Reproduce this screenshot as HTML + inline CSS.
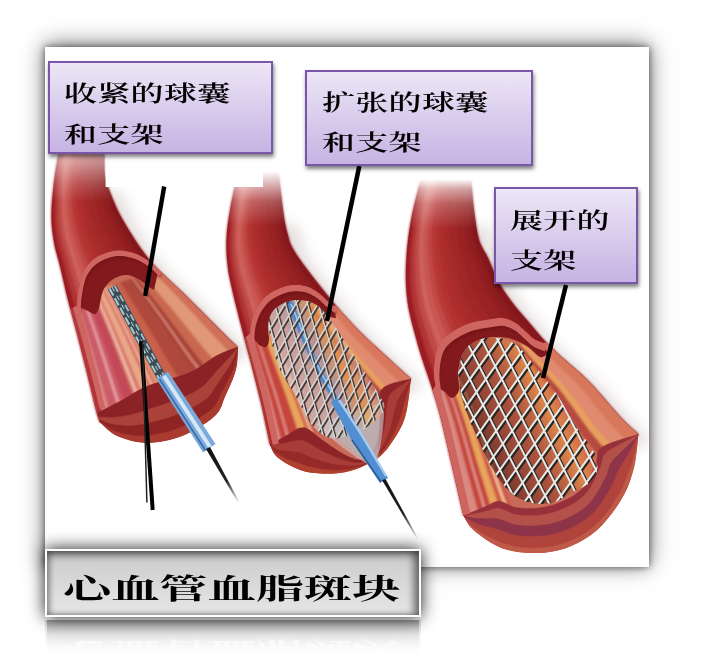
<!DOCTYPE html>
<html><head><meta charset="utf-8"><title>心血管血脂斑块</title>
<style>
html,body{margin:0;padding:0;background:#fff;}
body{width:704px;height:669px;position:relative;overflow:hidden;font-family:"Liberation Serif","Noto Serif CJK SC",serif;}
#panel{position:absolute;left:45px;top:47px;width:604px;height:520px;background:#fff;box-shadow:0 0 7px rgba(0,0,0,0.55),0 -2px 22px rgba(0,0,0,0.55);}
svg{position:absolute;left:0;top:0;}
.lab{position:absolute;box-sizing:border-box;border:2px solid #7a56a8;background:linear-gradient(#ece6f6,#c6b3e3);box-shadow:1px 3px 4px rgba(0,0,0,0.5);}
.lab span{position:absolute;white-space:nowrap;font-size:22px;line-height:22px;color:#000;transform-origin:0 0;transform:scaleX(1.5);font-weight:600;letter-spacing:0.2px}
#title{position:absolute;left:45px;top:549px;width:376px;height:68px;box-sizing:border-box;border:2px solid #fff;background:linear-gradient(#b0b0b0,#d0d0d0 20%,#dadada 55%,#e6e6e6);box-shadow:0 0 16px rgba(0,0,0,0.9), inset 0 4px 6px rgba(0,0,0,0.30), inset -6px 0 7px rgba(0,0,0,0.42), inset 4px 0 5px rgba(0,0,0,0.22);}
#title span,#refl span{position:absolute;left:16px;top:24.5px;white-space:nowrap;font-size:28px;line-height:28px;font-weight:700;color:#000;transform-origin:0 0;transform:scaleX(1.72);}
#refl{position:absolute;left:45px;top:620px;width:376px;height:40px;overflow:hidden;background:linear-gradient(rgba(90,90,90,0.6),rgba(120,120,120,0.33) 40%,rgba(160,160,160,0) 95%);border-left:2px solid rgba(255,255,255,0.6);border-right:2px solid rgba(255,255,255,0.6);box-sizing:border-box;-webkit-mask-image:linear-gradient(#000,transparent 92%);mask-image:linear-gradient(#000,transparent 92%);}
#refl span{top:17px;color:rgba(255,255,255,0.55);transform-origin:0 50%;transform:scale(1.72,-1);}
</style></head><body>
<div id="panel"></div>
<svg width="704" height="669" viewBox="0 0 704 669">
<defs>
<filter id="b8" x="-20%" y="-20%" width="140%" height="140%"><feGaussianBlur stdDeviation="7"/></filter>
<filter id="b1" x="-5%" y="-5%" width="110%" height="110%"><feGaussianBlur stdDeviation="0.9"/></filter>
<linearGradient id="fg2" x1="0" y1="179" x2="0" y2="229" gradientUnits="userSpaceOnUse"><stop offset="0" stop-color="#000"/><stop offset="0.2" stop-color="#6a6a6a"/><stop offset="0.5" stop-color="#c0c0c0"/><stop offset="1" stop-color="#fff"/></linearGradient>
<linearGradient id="fg2b" x1="0" y1="171" x2="0" y2="226" gradientUnits="userSpaceOnUse"><stop offset="0" stop-color="#000"/><stop offset="0.25" stop-color="#5a5a5a"/><stop offset="0.55" stop-color="#c0c0c0"/><stop offset="1" stop-color="#fff"/></linearGradient>
<mask id="fade2" maskUnits="userSpaceOnUse" x="0" y="0" width="704" height="669"><rect x="0" y="0" width="704" height="669" fill="url(#fg2b)"/></mask>
 <linearGradient id="fg1" x1="0" y1="148" x2="0" y2="202" gradientUnits="userSpaceOnUse"><stop offset="0" stop-color="#5c5c5c"/><stop offset="0.33" stop-color="#8c8c8c"/><stop offset="0.66" stop-color="#cecece"/><stop offset="1" stop-color="#fff"/></linearGradient>
<mask id="fade1" maskUnits="userSpaceOnUse" x="0" y="0" width="704" height="669"><rect x="0" y="0" width="704" height="669" fill="url(#fg1)"/></mask>
<mask id="fade3" maskUnits="userSpaceOnUse" x="0" y="0" width="704" height="669"><rect x="0" y="0" width="704" height="669" fill="url(#fg2)"/></mask>
<linearGradient id="wire1" x1="208" y1="448" x2="239" y2="503" gradientUnits="userSpaceOnUse"><stop offset="0" stop-color="#111"/><stop offset="0.6" stop-color="#222"/><stop offset="1" stop-color="#222" stop-opacity="0"/></linearGradient>
<linearGradient id="wire2" x1="379" y1="478" x2="417" y2="540" gradientUnits="userSpaceOnUse"><stop offset="0" stop-color="#111"/><stop offset="0.6" stop-color="#222"/><stop offset="1" stop-color="#222" stop-opacity="0"/></linearGradient>
<linearGradient id="u3" x1="470" y1="440" x2="570" y2="390" gradientUnits="userSpaceOnUse"><stop offset="0" stop-color="#2a0c08" stop-opacity="0.6"/><stop offset="0.45" stop-color="#7a2a18" stop-opacity="0.4"/><stop offset="0.75" stop-color="#f0a040" stop-opacity="0.55"/><stop offset="1" stop-color="#c8503c" stop-opacity="0.4"/></linearGradient>
<linearGradient id="u2" x1="285" y1="385" x2="362" y2="345" gradientUnits="userSpaceOnUse"><stop offset="0" stop-color="#d8d4d0" stop-opacity="0.6"/><stop offset="0.3" stop-color="#c8ccd4" stop-opacity="0.55"/><stop offset="0.5" stop-color="#9cb8d8" stop-opacity="0.55"/><stop offset="0.68" stop-color="#eeaa48" stop-opacity="0.6"/><stop offset="0.85" stop-color="#d8b8a8" stop-opacity="0.5"/><stop offset="1" stop-color="#c87860" stop-opacity="0.3"/></linearGradient>
</defs><path d="M53.1,190.3 L52.7,194.6 L52.3,198.8 L52.0,203.0 L51.7,207.1 L51.6,211.2 L51.5,215.0 L51.5,218.7 L51.7,222.2 L51.9,225.7 L52.2,229.1 L52.6,232.4 L53.0,235.6 L53.5,238.8 L54.0,242.0 L54.6,245.1 L55.2,248.0 L55.9,250.8 L56.7,253.6 L57.4,256.4 L58.3,259.4 L59.1,262.5 L60.0,266.0 L60.9,269.7 L61.8,273.7 L62.8,277.9 L63.8,282.2 L64.8,286.6 L65.8,291.0 L66.9,295.5 L68.0,300.0 L69.2,304.5 L70.4,309.1 L71.6,313.8 L72.9,318.5 L74.2,323.3 L75.5,328.0 L76.8,332.8 L78.0,337.5 L79.2,342.2 L80.4,346.9 L81.6,351.7 L82.8,356.4 L84.0,361.1 L85.2,365.8 L86.4,370.4 L87.5,375.0 L88.6,379.6 L89.8,384.5 L91.0,389.3 L92.1,394.1 L93.2,398.6 L94.2,402.9 L95.2,406.7 L96.0,410.0 L96.7,412.7 L97.4,415.0 L98.0,416.9 L98.5,418.4 L99.0,419.7 L99.4,420.8 L99.7,421.7 L100.0,422.5 L237.5,347.0 L237.0,346.5 L236.4,346.0 L235.7,345.4 L234.9,344.6 L233.9,343.7 L232.8,342.7 L231.5,341.4 L230.0,340.0 L228.3,338.3 L226.4,336.5 L224.4,334.5 L222.2,332.2 L219.9,329.9 L217.4,327.4 L214.8,324.8 L212.0,322.0 L209.1,319.0 L205.9,315.8 L202.5,312.4 L199.0,308.9 L195.5,305.4 L191.9,301.8 L188.4,298.3 L185.0,295.0 L181.6,291.7 L178.0,288.3 L174.3,284.9 L170.8,281.6 L167.3,278.4 L164.0,275.3 L161.1,272.5 L158.5,270.0 L156.4,267.9 L154.7,266.1 L153.3,264.6 L152.1,263.3 L151.1,262.0 L150.0,260.7 L148.8,259.2 L147.5,257.5 L146.0,255.6 L144.5,253.7 L143.0,251.6 L141.5,249.5 L139.9,247.3 L138.3,245.0 L136.7,242.6 L135.0,240.0 L133.2,237.2 L131.3,234.1 L129.3,230.9 L127.2,227.6 L125.3,224.3 L123.4,221.0 L121.6,217.9 L120.0,215.0 L118.6,212.3 L117.4,209.9 L116.2,207.5 L115.2,205.2 L114.3,202.9 L113.3,200.7 L112.4,198.4 L111.5,196.0 L110.6,193.6 L109.6,191.2 L108.7,188.8 L107.8,186.4 L106.9,184.0 L106.2,181.4Z" fill="#b9a3a3" opacity="0.35" filter="url(#b8)" transform="translate(14,6)" mask="url(#fade1)"/>
<g id="a1" mask="url(#fade1)">
<path d="M59.0,150.0 L58.6,152.5 L58.0,155.7 L57.4,159.6 L56.7,163.9 L55.9,168.5 L55.2,173.2 L54.5,177.7 L54.0,182.0 L53.5,186.1 L53.1,190.3 L52.7,194.6 L52.3,198.8 L52.0,203.0 L51.7,207.1 L51.6,211.2 L51.5,215.0 L51.5,218.7 L51.7,222.2 L51.9,225.7 L52.2,229.1 L52.6,232.4 L53.0,235.6 L53.5,238.8 L54.0,242.0 L54.6,245.1 L55.2,248.0 L55.9,250.8 L56.7,253.6 L57.4,256.4 L58.3,259.4 L59.1,262.5 L60.0,266.0 L60.9,269.7 L61.8,273.7 L62.8,277.9 L63.8,282.2 L64.8,286.6 L65.8,291.0 L66.9,295.5 L68.0,300.0 L69.2,304.5 L70.4,309.1 L71.6,313.8 L72.9,318.5 L74.2,323.3 L75.5,328.0 L76.8,332.8 L78.0,337.5 L79.2,342.2 L80.4,346.9 L81.6,351.7 L82.8,356.4 L84.0,361.1 L85.2,365.8 L86.4,370.4 L87.5,375.0 L88.6,379.6 L89.8,384.5 L91.0,389.3 L92.1,394.1 L93.2,398.6 L94.2,402.9 L95.2,406.7 L96.0,410.0 L96.7,412.7 L97.4,415.0 L98.0,416.9 L98.5,418.4 L99.0,419.7 L99.4,420.8 L99.7,421.7 L100.0,422.5 L237.5,347.0 L237.0,346.5 L236.4,346.0 L235.7,345.4 L234.9,344.6 L233.9,343.7 L232.8,342.7 L231.5,341.4 L230.0,340.0 L228.3,338.3 L226.4,336.5 L224.4,334.5 L222.2,332.2 L219.9,329.9 L217.4,327.4 L214.8,324.8 L212.0,322.0 L209.1,319.0 L205.9,315.8 L202.5,312.4 L199.0,308.9 L195.5,305.4 L191.9,301.8 L188.4,298.3 L185.0,295.0 L181.6,291.7 L178.0,288.3 L174.3,284.9 L170.8,281.6 L167.3,278.4 L164.0,275.3 L161.1,272.5 L158.5,270.0 L156.4,267.9 L154.7,266.1 L153.3,264.6 L152.1,263.3 L151.1,262.0 L150.0,260.7 L148.8,259.2 L147.5,257.5 L146.0,255.6 L144.5,253.7 L143.0,251.6 L141.5,249.5 L139.9,247.3 L138.3,245.0 L136.7,242.6 L135.0,240.0 L133.2,237.2 L131.3,234.1 L129.3,230.9 L127.2,227.6 L125.3,224.3 L123.4,221.0 L121.6,217.9 L120.0,215.0 L118.6,212.3 L117.4,209.9 L116.2,207.5 L115.2,205.2 L114.3,202.9 L113.3,200.7 L112.4,198.4 L111.5,196.0 L110.6,193.6 L109.6,191.2 L108.7,188.8 L107.8,186.4 L106.9,184.0 L106.2,181.4 L105.5,178.8 L105.0,176.0 L104.6,172.9 L104.4,169.3 L104.4,165.5 L104.3,161.8 L104.4,158.1 L104.4,154.8 L104.5,152.0 L104.5,150.0Z" fill="#9a2226"/>
<g filter="url(#b1)">
<path d="M59.0,150.0 L57.8,157.1 L56.6,164.1 L55.5,171.2 L54.5,178.3 L53.6,185.4 L52.9,192.5 L52.2,199.6 L51.7,206.7 L51.5,213.9 L51.6,221.0 L52.1,228.2 L53.0,235.3 L54.1,242.3 L55.5,249.3 L57.4,256.2 L59.3,263.1 L61.0,270.1 L62.6,277.1 L64.2,284.0 L65.8,291.0 L67.5,297.9 L69.3,304.9 L71.1,311.8 L73.0,318.7 L74.8,325.6 L76.7,332.5 L78.5,339.4 L80.3,346.4 L82.1,353.3 L83.8,360.2 L85.5,367.2 L87.3,374.1 L89.0,381.1 L90.7,388.0 L92.3,395.0 L94.0,401.9 L95.7,408.9 L97.6,415.7 L100.0,422.5 L107.6,418.3 L105.2,411.7 L103.1,404.9 L101.2,398.1 L99.4,391.3 L97.6,384.5 L95.7,377.7 L93.9,370.9 L92.0,364.1 L90.1,357.3 L88.2,350.5 L86.3,343.7 L84.3,336.9 L82.4,330.1 L80.4,323.4 L78.3,316.6 L76.3,309.8 L74.3,303.1 L72.4,296.3 L70.6,289.5 L68.8,282.6 L67.1,275.7 L65.4,268.9 L63.6,262.0 L61.6,255.2 L59.7,248.4 L58.1,241.5 L56.9,234.5 L55.9,227.5 L55.3,220.4 L55.0,213.4 L55.1,206.3 L55.5,199.2 L55.9,192.2 L56.5,185.1 L57.3,178.1 L58.2,171.0 L59.3,164.0 L60.4,157.0 L61.5,150.0Z" fill="rgb(155,30,36)" stroke="rgb(155,30,36)" stroke-width="0.6" />
<path d="M61.5,150.0 L60.4,157.0 L59.3,164.0 L58.2,171.0 L57.3,178.1 L56.5,185.1 L55.9,192.2 L55.5,199.2 L55.1,206.3 L55.0,213.4 L55.3,220.4 L55.9,227.5 L56.9,234.5 L58.1,241.5 L59.7,248.4 L61.6,255.2 L63.6,262.0 L65.4,268.9 L67.1,275.7 L68.8,282.6 L70.6,289.5 L72.4,296.3 L74.3,303.1 L76.3,309.8 L78.3,316.6 L80.4,323.4 L82.4,330.1 L84.3,336.9 L86.3,343.7 L88.2,350.5 L90.1,357.3 L92.0,364.1 L93.9,370.9 L95.7,377.7 L97.6,384.5 L99.4,391.3 L101.2,398.1 L103.1,404.9 L105.2,411.7 L107.6,418.3 L115.3,414.1 L112.7,407.6 L110.4,401.0 L108.4,394.4 L106.4,387.7 L104.5,381.0 L102.5,374.3 L100.5,367.7 L98.4,361.0 L96.4,354.3 L94.4,347.7 L92.3,341.0 L90.2,334.4 L88.1,327.7 L85.9,321.1 L83.7,314.5 L81.6,307.9 L79.4,301.3 L77.4,294.6 L75.4,287.9 L73.5,281.2 L71.7,274.4 L69.8,267.7 L67.9,260.9 L65.9,254.2 L63.8,247.5 L62.2,240.6 L60.8,233.8 L59.7,226.8 L59.0,219.9 L58.6,212.9 L58.5,205.9 L58.7,198.9 L59.0,191.9 L59.5,184.9 L60.1,177.9 L60.9,170.9 L61.9,163.9 L63.0,157.0 L64.1,150.0Z" fill="rgb(178,52,54)" stroke="rgb(178,52,54)" stroke-width="0.6" />
<path d="M64.1,150.0 L63.0,157.0 L61.9,163.9 L60.9,170.9 L60.1,177.9 L59.5,184.9 L59.0,191.9 L58.7,198.9 L58.5,205.9 L58.6,212.9 L59.0,219.9 L59.7,226.8 L60.8,233.8 L62.2,240.6 L63.8,247.5 L65.9,254.2 L67.9,260.9 L69.8,267.7 L71.7,274.4 L73.5,281.2 L75.4,287.9 L77.4,294.6 L79.4,301.3 L81.6,307.9 L83.7,314.5 L85.9,321.1 L88.1,327.7 L90.2,334.4 L92.3,341.0 L94.4,347.7 L96.4,354.3 L98.4,361.0 L100.5,367.7 L102.5,374.3 L104.5,381.0 L106.4,387.7 L108.4,394.4 L110.4,401.0 L112.7,407.6 L115.3,414.1 L122.9,409.9 L120.2,403.6 L117.8,397.1 L115.6,390.6 L113.5,384.0 L111.4,377.5 L109.2,371.0 L107.1,364.4 L104.9,357.9 L102.7,351.4 L100.5,344.9 L98.3,338.3 L96.0,331.8 L93.8,325.3 L91.5,318.9 L89.1,312.4 L86.8,305.9 L84.5,299.4 L82.3,292.9 L80.2,286.4 L78.2,279.7 L76.2,273.1 L74.2,266.4 L72.2,259.8 L70.1,253.2 L68.0,246.5 L66.2,239.8 L64.8,233.0 L63.6,226.2 L62.7,219.3 L62.1,212.4 L61.9,205.4 L61.9,198.5 L62.1,191.6 L62.4,184.7 L62.9,177.7 L63.7,170.8 L64.6,163.9 L65.6,156.9 L66.6,150.0Z" fill="rgb(192,75,74)" stroke="rgb(192,75,74)" stroke-width="0.6" />
<path d="M66.6,150.0 L65.6,156.9 L64.6,163.9 L63.7,170.8 L62.9,177.7 L62.4,184.7 L62.1,191.6 L61.9,198.5 L61.9,205.4 L62.1,212.4 L62.7,219.3 L63.6,226.2 L64.8,233.0 L66.2,239.8 L68.0,246.5 L70.1,253.2 L72.2,259.8 L74.2,266.4 L76.2,273.1 L78.2,279.7 L80.2,286.4 L82.3,292.9 L84.5,299.4 L86.8,305.9 L89.1,312.4 L91.5,318.9 L93.8,325.3 L96.0,331.8 L98.3,338.3 L100.5,344.9 L102.7,351.4 L104.9,357.9 L107.1,364.4 L109.2,371.0 L111.4,377.5 L113.5,384.0 L115.6,390.6 L117.8,397.1 L120.2,403.6 L122.9,409.9 L130.6,405.7 L127.7,399.5 L125.2,393.2 L122.8,386.8 L120.6,380.4 L118.3,374.0 L116.0,367.6 L113.7,361.2 L111.4,354.8 L109.0,348.4 L106.7,342.0 L104.3,335.7 L101.9,329.3 L99.5,323.0 L97.0,316.6 L94.5,310.3 L92.0,304.0 L89.6,297.6 L87.2,291.3 L85.0,284.8 L82.8,278.3 L80.7,271.8 L78.7,265.2 L76.6,258.7 L74.3,252.1 L72.1,245.6 L70.3,238.9 L68.7,232.2 L67.4,225.5 L66.3,218.7 L65.6,211.9 L65.3,205.0 L65.1,198.2 L65.1,191.3 L65.3,184.5 L65.7,177.6 L66.4,170.7 L67.2,163.8 L68.2,156.9 L69.1,150.0Z" fill="rgb(207,98,93)" stroke="rgb(207,98,93)" stroke-width="0.6" />
<path d="M69.1,150.0 L68.2,156.9 L67.2,163.8 L66.4,170.7 L65.7,177.6 L65.3,184.5 L65.1,191.3 L65.1,198.2 L65.3,205.0 L65.6,211.9 L66.3,218.7 L67.4,225.5 L68.7,232.2 L70.3,238.9 L72.1,245.6 L74.3,252.1 L76.6,258.7 L78.7,265.2 L80.7,271.8 L82.8,278.3 L85.0,284.8 L87.2,291.3 L89.6,297.6 L92.0,304.0 L94.5,310.3 L97.0,316.6 L99.5,323.0 L101.9,329.3 L104.3,335.7 L106.7,342.0 L109.0,348.4 L111.4,354.8 L113.7,361.2 L116.0,367.6 L118.3,374.0 L120.6,380.4 L122.8,386.8 L125.2,393.2 L127.7,399.5 L130.6,405.7 L138.2,401.5 L135.2,395.5 L132.5,389.3 L130.1,383.0 L127.6,376.8 L125.2,370.5 L122.7,364.2 L120.3,358.0 L117.8,351.7 L115.3,345.5 L112.8,339.2 L110.3,333.0 L107.7,326.8 L105.2,320.6 L102.6,314.4 L99.9,308.2 L97.3,302.0 L94.7,295.8 L92.2,289.6 L89.8,283.3 L87.5,276.9 L85.3,270.5 L83.1,264.0 L80.9,257.6 L78.6,251.1 L76.3,244.6 L74.3,238.1 L72.6,231.5 L71.2,224.8 L70.0,218.1 L69.2,211.4 L68.7,204.6 L68.4,197.8 L68.2,191.0 L68.2,184.2 L68.5,177.4 L69.1,170.5 L69.9,163.7 L70.8,156.8 L71.6,150.0Z" fill="rgb(201,87,82)" stroke="rgb(201,87,82)" stroke-width="0.6" />
<path d="M71.6,150.0 L70.8,156.8 L69.9,163.7 L69.1,170.5 L68.5,177.4 L68.2,184.2 L68.2,191.0 L68.4,197.8 L68.7,204.6 L69.2,211.4 L70.0,218.1 L71.2,224.8 L72.6,231.5 L74.3,238.1 L76.3,244.6 L78.6,251.1 L80.9,257.6 L83.1,264.0 L85.3,270.5 L87.5,276.9 L89.8,283.3 L92.2,289.6 L94.7,295.8 L97.3,302.0 L99.9,308.2 L102.6,314.4 L105.2,320.6 L107.7,326.8 L110.3,333.0 L112.8,339.2 L115.3,345.5 L117.8,351.7 L120.3,358.0 L122.7,364.2 L125.2,370.5 L127.6,376.8 L130.1,383.0 L132.5,389.3 L135.2,395.5 L138.2,401.5 L145.8,397.3 L142.7,391.4 L139.9,385.4 L137.3,379.3 L134.7,373.1 L132.1,367.0 L129.5,360.9 L126.9,354.8 L124.3,348.6 L121.6,342.5 L119.0,336.4 L116.3,330.3 L113.6,324.2 L110.9,318.2 L108.1,312.1 L105.3,306.1 L102.5,300.1 L99.8,294.0 L97.1,287.9 L94.6,281.7 L92.2,275.5 L89.8,269.2 L87.5,262.8 L85.2,256.4 L82.8,250.1 L80.4,243.7 L78.4,237.2 L76.6,230.7 L75.0,224.2 L73.7,217.5 L72.7,210.9 L72.1,204.2 L71.6,197.5 L71.3,190.8 L71.1,184.0 L71.3,177.2 L71.8,170.4 L72.5,163.6 L73.4,156.8 L74.2,150.0Z" fill="rgb(193,72,69)" stroke="rgb(193,72,69)" stroke-width="0.6" />
<path d="M74.2,150.0 L73.4,156.8 L72.5,163.6 L71.8,170.4 L71.3,177.2 L71.1,184.0 L71.3,190.8 L71.6,197.5 L72.1,204.2 L72.7,210.9 L73.7,217.5 L75.0,224.2 L76.6,230.7 L78.4,237.2 L80.4,243.7 L82.8,250.1 L85.2,256.4 L87.5,262.8 L89.8,269.2 L92.2,275.5 L94.6,281.7 L97.1,287.9 L99.8,294.0 L102.5,300.1 L105.3,306.1 L108.1,312.1 L110.9,318.2 L113.6,324.2 L116.3,330.3 L119.0,336.4 L121.6,342.5 L124.3,348.6 L126.9,354.8 L129.5,360.9 L132.1,367.0 L134.7,373.1 L137.3,379.3 L139.9,385.4 L142.7,391.4 L145.8,397.3 L153.5,393.1 L150.2,387.4 L147.3,381.4 L144.5,375.5 L141.7,369.5 L139.0,363.5 L136.3,357.5 L133.5,351.5 L130.7,345.6 L127.9,339.6 L125.1,333.6 L122.3,327.6 L119.4,321.7 L116.6,315.8 L113.6,309.9 L110.7,304.0 L107.8,298.1 L104.9,292.2 L102.1,286.2 L99.4,280.2 L96.8,274.0 L94.4,267.8 L91.9,261.6 L89.5,255.3 L87.0,249.1 L84.6,242.8 L82.4,236.4 L80.5,230.0 L78.8,223.5 L77.3,217.0 L76.2,210.4 L75.4,203.7 L74.8,197.1 L74.3,190.5 L74.0,183.8 L74.1,177.1 L74.5,170.3 L75.2,163.5 L75.9,156.8 L76.7,150.0Z" fill="rgb(185,57,55)" stroke="rgb(185,57,55)" stroke-width="0.6" />
<path d="M76.7,150.0 L75.9,156.8 L75.2,163.5 L74.5,170.3 L74.1,177.1 L74.0,183.8 L74.3,190.5 L74.8,197.1 L75.4,203.7 L76.2,210.4 L77.3,217.0 L78.8,223.5 L80.5,230.0 L82.4,236.4 L84.6,242.8 L87.0,249.1 L89.5,255.3 L91.9,261.6 L94.4,267.8 L96.8,274.0 L99.4,280.2 L102.1,286.2 L104.9,292.2 L107.8,298.1 L110.7,304.0 L113.6,309.9 L116.6,315.8 L119.4,321.7 L122.3,327.6 L125.1,333.6 L127.9,339.6 L130.7,345.6 L133.5,351.5 L136.3,357.5 L139.0,363.5 L141.7,369.5 L144.5,375.5 L147.3,381.4 L150.2,387.4 L153.5,393.1 L161.1,388.9 L157.7,383.3 L154.7,377.5 L151.7,371.7 L148.8,365.8 L145.9,360.0 L143.0,354.2 L140.1,348.3 L137.2,342.5 L134.2,336.6 L131.3,330.8 L128.3,325.0 L125.3,319.2 L122.3,313.4 L119.2,307.6 L116.1,301.9 L113.0,296.2 L110.0,290.4 L107.0,284.6 L104.2,278.7 L101.5,272.6 L98.9,266.5 L96.4,260.4 L93.8,254.2 L91.3,248.0 L88.7,241.8 L86.5,235.6 L84.4,229.2 L82.6,222.8 L81.0,216.4 L79.8,209.9 L78.8,203.3 L78.1,196.7 L77.4,190.2 L77.0,183.6 L76.9,176.9 L77.2,170.2 L77.8,163.4 L78.5,156.7 L79.2,150.0Z" fill="rgb(179,50,48)" stroke="rgb(179,50,48)" stroke-width="0.6" />
<path d="M79.2,150.0 L78.5,156.7 L77.8,163.4 L77.2,170.2 L76.9,176.9 L77.0,183.6 L77.4,190.2 L78.1,196.7 L78.8,203.3 L79.8,209.9 L81.0,216.4 L82.6,222.8 L84.4,229.2 L86.5,235.6 L88.7,241.8 L91.3,248.0 L93.8,254.2 L96.4,260.4 L98.9,266.5 L101.5,272.6 L104.2,278.7 L107.0,284.6 L110.0,290.4 L113.0,296.2 L116.1,301.9 L119.2,307.6 L122.3,313.4 L125.3,319.2 L128.3,325.0 L131.3,330.8 L134.2,336.6 L137.2,342.5 L140.1,348.3 L143.0,354.2 L145.9,360.0 L148.8,365.8 L151.7,371.7 L154.7,377.5 L157.7,383.3 L161.1,388.9 L168.8,384.8 L165.2,379.2 L162.0,373.6 L158.9,367.9 L155.9,362.2 L152.8,356.5 L149.8,350.8 L146.7,345.1 L143.6,339.4 L140.5,333.7 L137.4,328.0 L134.3,322.3 L131.1,316.6 L128.0,311.0 L124.7,305.4 L121.5,299.8 L118.2,294.2 L115.0,288.6 L111.9,282.9 L108.9,277.1 L106.2,271.2 L103.4,265.2 L100.8,259.2 L98.1,253.1 L95.5,247.0 L92.9,240.9 L90.5,234.7 L88.4,228.5 L86.4,222.2 L84.7,215.8 L83.3,209.4 L82.2,202.9 L81.3,196.4 L80.5,189.9 L79.9,183.3 L79.7,176.7 L80.0,170.0 L80.5,163.4 L81.1,156.7 L81.8,150.0Z" fill="rgb(174,47,46)" stroke="rgb(174,47,46)" stroke-width="0.6" />
<path d="M81.8,150.0 L81.1,156.7 L80.5,163.4 L80.0,170.0 L79.7,176.7 L79.9,183.3 L80.5,189.9 L81.3,196.4 L82.2,202.9 L83.3,209.4 L84.7,215.8 L86.4,222.2 L88.4,228.5 L90.5,234.7 L92.9,240.9 L95.5,247.0 L98.1,253.1 L100.8,259.2 L103.4,265.2 L106.2,271.2 L108.9,277.1 L111.9,282.9 L115.0,288.6 L118.2,294.2 L121.5,299.8 L124.7,305.4 L128.0,311.0 L131.1,316.6 L134.3,322.3 L137.4,328.0 L140.5,333.7 L143.6,339.4 L146.7,345.1 L149.8,350.8 L152.8,356.5 L155.9,362.2 L158.9,367.9 L162.0,373.6 L165.2,379.2 L168.8,384.8 L176.4,380.6 L172.8,375.2 L169.4,369.7 L166.1,364.1 L162.9,358.6 L159.7,353.0 L156.5,347.4 L153.3,341.9 L150.1,336.3 L146.8,330.7 L143.6,325.2 L140.3,319.6 L137.0,314.1 L133.7,308.6 L130.3,303.2 L126.9,297.7 L123.5,292.3 L120.1,286.8 L116.9,281.2 L113.7,275.6 L110.8,269.7 L108.0,263.9 L105.2,258.0 L102.5,252.0 L99.7,246.0 L97.0,240.0 L94.6,233.9 L92.3,227.7 L90.2,221.5 L88.4,215.2 L86.8,208.9 L85.6,202.5 L84.5,196.0 L83.5,189.6 L82.8,183.1 L82.5,176.5 L82.7,169.9 L83.1,163.3 L83.7,156.6 L84.3,150.0Z" fill="rgb(170,44,43)" stroke="rgb(170,44,43)" stroke-width="0.6" />
<path d="M84.3,150.0 L83.7,156.6 L83.1,163.3 L82.7,169.9 L82.5,176.5 L82.8,183.1 L83.5,189.6 L84.5,196.0 L85.6,202.5 L86.8,208.9 L88.4,215.2 L90.2,221.5 L92.3,227.7 L94.6,233.9 L97.0,240.0 L99.7,246.0 L102.5,252.0 L105.2,258.0 L108.0,263.9 L110.8,269.7 L113.7,275.6 L116.9,281.2 L120.1,286.8 L123.5,292.3 L126.9,297.7 L130.3,303.2 L133.7,308.6 L137.0,314.1 L140.3,319.6 L143.6,325.2 L146.8,330.7 L150.1,336.3 L153.3,341.9 L156.5,347.4 L159.7,353.0 L162.9,358.6 L166.1,364.1 L169.4,369.7 L172.8,375.2 L176.4,380.6 L184.0,376.4 L180.3,371.1 L176.8,365.8 L173.4,360.4 L170.0,354.9 L166.6,349.5 L163.3,344.1 L159.9,338.6 L156.5,333.2 L153.1,327.8 L149.7,322.4 L146.3,316.9 L142.8,311.6 L139.4,306.2 L135.8,300.9 L132.3,295.6 L128.7,290.3 L125.2,285.0 L121.8,279.6 L118.5,274.0 L115.5,268.3 L112.5,262.6 L109.6,256.7 L106.8,250.9 L104.0,245.0 L101.2,239.0 L98.6,233.0 L96.2,226.9 L94.0,220.8 L92.0,214.6 L90.4,208.4 L89.0,202.0 L87.8,195.7 L86.6,189.3 L85.7,182.9 L85.3,176.4 L85.4,169.8 L85.8,163.2 L86.3,156.6 L86.8,150.0Z" fill="rgb(165,41,41)" stroke="rgb(165,41,41)" stroke-width="0.6" />
<path d="M86.8,150.0 L86.3,156.6 L85.8,163.2 L85.4,169.8 L85.3,176.4 L85.7,182.9 L86.6,189.3 L87.8,195.7 L89.0,202.0 L90.4,208.4 L92.0,214.6 L94.0,220.8 L96.2,226.9 L98.6,233.0 L101.2,239.0 L104.0,245.0 L106.8,250.9 L109.6,256.7 L112.5,262.6 L115.5,268.3 L118.5,274.0 L121.8,279.6 L125.2,285.0 L128.7,290.3 L132.3,295.6 L135.8,300.9 L139.4,306.2 L142.8,311.6 L146.3,316.9 L149.7,322.4 L153.1,327.8 L156.5,333.2 L159.9,338.6 L163.3,344.1 L166.6,349.5 L170.0,354.9 L173.4,360.4 L176.8,365.8 L180.3,371.1 L184.0,376.4 L191.7,372.2 L187.8,367.1 L184.1,361.9 L180.6,356.6 L177.1,351.3 L173.5,346.0 L170.0,340.7 L166.5,335.4 L163.0,330.1 L159.4,324.8 L155.9,319.5 L152.3,314.3 L148.7,309.0 L145.0,303.8 L141.4,298.7 L137.7,293.5 L134.0,288.3 L130.3,283.2 L126.7,277.9 L123.3,272.5 L120.2,266.9 L117.1,261.2 L114.0,255.5 L111.1,249.8 L108.2,243.9 L105.3,238.1 L102.6,232.2 L100.1,226.2 L97.8,220.2 L95.7,214.1 L93.9,207.9 L92.4,201.6 L91.0,195.3 L89.7,189.0 L88.6,182.7 L88.1,176.2 L88.1,169.7 L88.4,163.1 L88.9,156.5 L89.3,150.0Z" fill="rgb(162,39,39)" stroke="rgb(162,39,39)" stroke-width="0.6" />
<path d="M89.3,150.0 L88.9,156.5 L88.4,163.1 L88.1,169.7 L88.1,176.2 L88.6,182.7 L89.7,189.0 L91.0,195.3 L92.4,201.6 L93.9,207.9 L95.7,214.1 L97.8,220.2 L100.1,226.2 L102.6,232.2 L105.3,238.1 L108.2,243.9 L111.1,249.8 L114.0,255.5 L117.1,261.2 L120.2,266.9 L123.3,272.5 L126.7,277.9 L130.3,283.2 L134.0,288.3 L137.7,293.5 L141.4,298.7 L145.0,303.8 L148.7,309.0 L152.3,314.3 L155.9,319.5 L159.4,324.8 L163.0,330.1 L166.5,335.4 L170.0,340.7 L173.5,346.0 L177.1,351.3 L180.6,356.6 L184.1,361.9 L187.8,367.1 L191.7,372.2 L199.3,368.0 L195.3,363.0 L191.5,357.9 L187.8,352.8 L184.1,347.7 L180.4,342.5 L176.8,337.3 L173.1,332.2 L169.4,327.0 L165.7,321.9 L162.0,316.7 L158.3,311.6 L154.5,306.5 L150.7,301.4 L146.9,296.4 L143.1,291.4 L139.2,286.4 L135.4,281.3 L131.7,276.2 L128.1,270.9 L124.8,265.5 L121.6,259.9 L118.5,254.3 L115.4,248.6 L112.4,242.9 L109.5,237.1 L106.7,231.3 L104.1,225.4 L101.6,219.5 L99.4,213.5 L97.4,207.4 L95.8,201.2 L94.2,195.0 L92.7,188.8 L91.5,182.5 L90.9,176.0 L90.8,169.5 L91.1,163.0 L91.5,156.5 L91.9,150.0Z" fill="rgb(158,37,38)" stroke="rgb(158,37,38)" stroke-width="0.6" />
<path d="M91.9,150.0 L91.5,156.5 L91.1,163.0 L90.8,169.5 L90.9,176.0 L91.5,182.5 L92.7,188.8 L94.2,195.0 L95.8,201.2 L97.4,207.4 L99.4,213.5 L101.6,219.5 L104.1,225.4 L106.7,231.3 L109.5,237.1 L112.4,242.9 L115.4,248.6 L118.5,254.3 L121.6,259.9 L124.8,265.5 L128.1,270.9 L131.7,276.2 L135.4,281.3 L139.2,286.4 L143.1,291.4 L146.9,296.4 L150.7,301.4 L154.5,306.5 L158.3,311.6 L162.0,316.7 L165.7,321.9 L169.4,327.0 L173.1,332.2 L176.8,337.3 L180.4,342.5 L184.1,347.7 L187.8,352.8 L191.5,357.9 L195.3,363.0 L199.3,368.0 L206.9,363.8 L202.8,359.0 L198.9,354.0 L195.0,349.0 L191.2,344.0 L187.4,339.0 L183.5,334.0 L179.7,329.0 L175.9,323.9 L172.0,318.9 L168.2,313.9 L164.3,308.9 L160.4,304.0 L156.4,299.1 L152.5,294.2 L148.4,289.3 L144.4,284.4 L140.5,279.5 L136.6,274.5 L132.9,269.4 L129.5,264.0 L126.1,258.6 L122.9,253.1 L119.7,247.5 L116.7,241.9 L113.6,236.2 L110.7,230.5 L108.0,224.7 L105.4,218.8 L103.0,212.9 L101.0,206.9 L99.1,200.8 L97.5,194.6 L95.8,188.5 L94.5,182.2 L93.7,175.9 L93.6,169.4 L93.7,162.9 L94.1,156.5 L94.4,150.0Z" fill="rgb(154,35,36)" stroke="rgb(154,35,36)" stroke-width="0.6" />
<path d="M94.4,150.0 L94.1,156.5 L93.7,162.9 L93.6,169.4 L93.7,175.9 L94.5,182.2 L95.8,188.5 L97.5,194.6 L99.1,200.8 L101.0,206.9 L103.0,212.9 L105.4,218.8 L108.0,224.7 L110.7,230.5 L113.6,236.2 L116.7,241.9 L119.7,247.5 L122.9,253.1 L126.1,258.6 L129.5,264.0 L132.9,269.4 L136.6,274.5 L140.5,279.5 L144.4,284.4 L148.4,289.3 L152.5,294.2 L156.4,299.1 L160.4,304.0 L164.3,308.9 L168.2,313.9 L172.0,318.9 L175.9,323.9 L179.7,329.0 L183.5,334.0 L187.4,339.0 L191.2,344.0 L195.0,349.0 L198.9,354.0 L202.8,359.0 L206.9,363.8 L214.6,359.6 L210.3,354.9 L206.2,350.1 L202.2,345.2 L198.2,340.4 L194.3,335.5 L190.3,330.6 L186.3,325.7 L182.3,320.9 L178.3,316.0 L174.3,311.1 L170.3,306.3 L166.2,301.4 L162.1,296.7 L158.0,291.9 L153.8,287.2 L149.7,282.5 L145.6,277.7 L141.6,272.9 L137.7,267.9 L134.1,262.6 L130.7,257.3 L127.3,251.9 L124.1,246.4 L120.9,240.9 L117.8,235.3 L114.8,229.6 L111.9,223.9 L109.2,218.2 L106.7,212.3 L104.5,206.4 L102.5,200.3 L100.7,194.3 L98.9,188.2 L97.4,182.0 L96.5,175.7 L96.3,169.3 L96.4,162.8 L96.7,156.4 L96.9,150.0Z" fill="rgb(151,33,35)" stroke="rgb(151,33,35)" stroke-width="0.6" />
<path d="M96.9,150.0 L96.7,156.4 L96.4,162.8 L96.3,169.3 L96.5,175.7 L97.4,182.0 L98.9,188.2 L100.7,194.3 L102.5,200.3 L104.5,206.4 L106.7,212.3 L109.2,218.2 L111.9,223.9 L114.8,229.6 L117.8,235.3 L120.9,240.9 L124.1,246.4 L127.3,251.9 L130.7,257.3 L134.1,262.6 L137.7,267.9 L141.6,272.9 L145.6,277.7 L149.7,282.5 L153.8,287.2 L158.0,291.9 L162.1,296.7 L166.2,301.4 L170.3,306.3 L174.3,311.1 L178.3,316.0 L182.3,320.9 L186.3,325.7 L190.3,330.6 L194.3,335.5 L198.2,340.4 L202.2,345.2 L206.2,350.1 L210.3,354.9 L214.6,359.6 L222.2,355.4 L217.8,350.9 L213.6,346.2 L209.4,341.5 L205.3,336.7 L201.2,332.0 L197.0,327.3 L192.9,322.5 L188.8,317.8 L184.6,313.0 L180.5,308.3 L176.3,303.6 L172.1,298.9 L167.8,294.3 L163.5,289.7 L159.2,285.1 L154.9,280.5 L150.7,275.9 L146.5,271.2 L142.5,266.3 L138.8,261.2 L135.2,256.0 L131.7,250.7 L128.4,245.3 L125.1,239.8 L121.9,234.3 L118.8,228.8 L115.9,223.2 L113.0,217.5 L110.4,211.7 L108.0,205.9 L105.9,199.9 L103.9,193.9 L101.9,187.9 L100.3,181.8 L99.3,175.5 L99.0,169.1 L99.0,162.8 L99.2,156.4 L99.4,150.0Z" fill="rgb(147,31,33)" stroke="rgb(147,31,33)" stroke-width="0.6" />
<path d="M99.4,150.0 L99.2,156.4 L99.0,162.8 L99.0,169.1 L99.3,175.5 L100.3,181.8 L101.9,187.9 L103.9,193.9 L105.9,199.9 L108.0,205.9 L110.4,211.7 L113.0,217.5 L115.9,223.2 L118.8,228.8 L121.9,234.3 L125.1,239.8 L128.4,245.3 L131.7,250.7 L135.2,256.0 L138.8,261.2 L142.5,266.3 L146.5,271.2 L150.7,275.9 L154.9,280.5 L159.2,285.1 L163.5,289.7 L167.8,294.3 L172.1,298.9 L176.3,303.6 L180.5,308.3 L184.6,313.0 L188.8,317.8 L192.9,322.5 L197.0,327.3 L201.2,332.0 L205.3,336.7 L209.4,341.5 L213.6,346.2 L217.8,350.9 L222.2,355.4 L229.9,351.2 L225.3,346.8 L221.0,342.3 L216.7,337.7 L212.4,333.1 L208.1,328.5 L203.8,323.9 L199.5,319.3 L195.2,314.7 L190.9,310.1 L186.6,305.5 L182.3,300.9 L177.9,296.4 L173.5,291.9 L169.1,287.4 L164.6,283.0 L160.2,278.6 L155.7,274.1 L151.4,269.5 L147.3,264.8 L143.5,259.8 L139.8,254.7 L136.2,249.5 L132.7,244.2 L129.3,238.8 L126.1,233.4 L122.9,227.9 L119.8,222.4 L116.8,216.8 L114.1,211.2 L111.6,205.4 L109.3,199.5 L107.2,193.5 L105.0,187.6 L103.2,181.6 L102.1,175.3 L101.7,169.0 L101.7,162.7 L101.8,156.3 L102.0,150.0Z" fill="rgb(139,27,30)" stroke="rgb(139,27,30)" stroke-width="0.6" />
<path d="M102.0,150.0 L101.8,156.3 L101.7,162.7 L101.7,169.0 L102.1,175.3 L103.2,181.6 L105.0,187.6 L107.2,193.5 L109.3,199.5 L111.6,205.4 L114.1,211.2 L116.8,216.8 L119.8,222.4 L122.9,227.9 L126.1,233.4 L129.3,238.8 L132.7,244.2 L136.2,249.5 L139.8,254.7 L143.5,259.8 L147.3,264.8 L151.4,269.5 L155.7,274.1 L160.2,278.6 L164.6,283.0 L169.1,287.4 L173.5,291.9 L177.9,296.4 L182.3,300.9 L186.6,305.5 L190.9,310.1 L195.2,314.7 L199.5,319.3 L203.8,323.9 L208.1,328.5 L212.4,333.1 L216.7,337.7 L221.0,342.3 L225.3,346.8 L229.9,351.2 L237.5,347.0 L232.9,342.7 L228.3,338.4 L223.9,333.9 L219.4,329.5 L215.0,325.0 L210.5,320.5 L206.1,316.1 L201.7,311.6 L197.2,307.1 L192.8,302.7 L188.3,298.2 L183.8,293.8 L179.2,289.5 L174.6,285.2 L170.0,280.9 L165.4,276.6 L160.8,272.3 L156.4,267.8 L152.1,263.2 L148.1,258.3 L144.3,253.3 L140.6,248.2 L137.0,243.1 L133.6,237.8 L130.2,232.5 L126.9,227.1 L123.7,221.7 L120.6,216.2 L117.7,210.6 L115.1,204.9 L112.7,199.0 L110.4,193.2 L108.1,187.3 L106.1,181.3 L104.9,175.2 L104.4,168.9 L104.3,162.6 L104.4,156.3 L104.5,150.0Z" fill="rgb(132,22,26)" stroke="rgb(132,22,26)" stroke-width="0.6" />
</g>
<clipPath id="c1"><path d="M77.0,306.0 L77.1,304.7 L77.1,302.9 L77.2,300.8 L77.3,298.4 L77.6,295.8 L78.0,293.0 L78.5,289.9 L79.1,286.5 L79.8,282.8 L80.7,279.2 L81.7,275.7 L83.0,272.5 L84.5,269.7 L86.2,267.0 L88.1,264.4 L90.1,262.1 L92.5,259.9 L95.0,258.0 L97.9,256.2 L101.1,254.6 L104.5,253.2 L108.0,252.0 L111.6,251.1 L115.0,250.5 L118.4,250.3 L121.9,250.5 L125.3,251.0 L128.7,251.7 L132.0,252.6 L135.0,253.5 L137.9,254.6 L140.6,255.9 L143.2,257.4 L145.7,259.0 L147.9,260.5 L150.0,262.0 L151.9,263.5 L153.6,265.0 L155.2,266.5 L156.5,267.9 L157.7,269.1 L158.5,270.0 L158.5,270.0 L161.1,272.5 L164.0,275.3 L167.3,278.4 L170.8,281.6 L174.3,284.9 L178.0,288.3 L181.6,291.7 L185.0,295.0 L188.4,298.3 L191.9,301.8 L195.5,305.4 L199.0,308.9 L202.5,312.4 L205.9,315.8 L209.1,319.0 L212.0,322.0 L214.8,324.8 L217.4,327.4 L219.9,329.9 L222.2,332.2 L224.4,334.5 L226.4,336.5 L228.3,338.3 L230.0,340.0 L231.5,341.4 L232.8,342.7 L233.9,343.7 L234.9,344.6 L235.7,345.4 L236.4,346.0 L237.0,346.5 L237.5,347.0 L238.0,348.0 L237.9,350.9 L237.8,355.0 L237.5,359.8 L237.0,364.9 L236.0,370.0 L234.3,375.2 L232.2,380.9 L229.7,386.6 L227.2,392.1 L225.0,397.0 L223.3,401.2 L222.1,404.9 L220.7,408.3 L218.9,411.6 L216.0,415.0 L211.9,418.7 L206.8,422.5 L201.1,426.2 L195.4,429.6 L190.0,432.5 L184.9,434.9 L179.9,436.9 L175.0,438.5 L170.0,439.9 L165.0,441.0 L160.0,441.9 L155.0,442.5 L150.0,442.9 L145.0,442.9 L140.0,442.5 L134.8,441.7 L129.5,440.4 L124.3,438.8 L119.4,437.0 L115.0,435.0 L111.1,432.6 L107.6,429.8 L104.4,426.8 L101.9,424.3 L100.0,422.5 L100.0,422.5 L99.7,421.7 L99.4,420.8 L99.0,419.7 L98.5,418.4 L98.0,416.9 L97.4,415.0 L96.7,412.7 L96.0,410.0 L95.2,406.7 L94.2,402.9 L93.2,398.6 L92.1,394.1 L91.0,389.3 L89.8,384.5 L88.6,379.6 L87.5,375.0 L86.4,370.4 L85.2,365.8 L84.0,361.1 L82.8,356.4 L81.6,351.7 L80.4,346.9 L79.2,342.2 L78.0,337.5 L76.8,332.8 L75.5,328.0 L74.2,323.3 L72.9,318.5 L71.6,313.8 L70.4,309.1Z"/></clipPath>
<g clip-path="url(#c1)">
<path d="M77.0,306.0 L77.1,304.7 L77.1,302.9 L77.2,300.8 L77.3,298.4 L77.6,295.8 L78.0,293.0 L78.5,289.9 L79.1,286.5 L79.8,282.8 L80.7,279.2 L81.7,275.7 L83.0,272.5 L84.5,269.7 L86.2,267.0 L88.1,264.4 L90.1,262.1 L92.5,259.9 L95.0,258.0 L97.9,256.2 L101.1,254.6 L104.5,253.2 L108.0,252.0 L111.6,251.1 L115.0,250.5 L118.4,250.3 L121.9,250.5 L125.3,251.0 L128.7,251.7 L132.0,252.6 L135.0,253.5 L137.9,254.6 L140.6,255.9 L143.2,257.4 L145.7,259.0 L147.9,260.5 L150.0,262.0 L151.9,263.5 L153.6,265.0 L155.2,266.5 L156.5,267.9 L157.7,269.1 L158.5,270.0 L158.5,270.0 L161.1,272.5 L164.0,275.3 L167.3,278.4 L170.8,281.6 L174.3,284.9 L178.0,288.3 L181.6,291.7 L185.0,295.0 L188.4,298.3 L191.9,301.8 L195.5,305.4 L199.0,308.9 L202.5,312.4 L205.9,315.8 L209.1,319.0 L212.0,322.0 L214.8,324.8 L217.4,327.4 L219.9,329.9 L222.2,332.2 L224.4,334.5 L226.4,336.5 L228.3,338.3 L230.0,340.0 L231.5,341.4 L232.8,342.7 L233.9,343.7 L234.9,344.6 L235.7,345.4 L236.4,346.0 L237.0,346.5 L237.5,347.0 L238.0,348.0 L237.9,350.9 L237.8,355.0 L237.5,359.8 L237.0,364.9 L236.0,370.0 L234.3,375.2 L232.2,380.9 L229.7,386.6 L227.2,392.1 L225.0,397.0 L223.3,401.2 L222.1,404.9 L220.7,408.3 L218.9,411.6 L216.0,415.0 L211.9,418.7 L206.8,422.5 L201.1,426.2 L195.4,429.6 L190.0,432.5 L184.9,434.9 L179.9,436.9 L175.0,438.5 L170.0,439.9 L165.0,441.0 L160.0,441.9 L155.0,442.5 L150.0,442.9 L145.0,442.9 L140.0,442.5 L134.8,441.7 L129.5,440.4 L124.3,438.8 L119.4,437.0 L115.0,435.0 L111.1,432.6 L107.6,429.8 L104.4,426.8 L101.9,424.3 L100.0,422.5 L100.0,422.5 L99.7,421.7 L99.4,420.8 L99.0,419.7 L98.5,418.4 L98.0,416.9 L97.4,415.0 L96.7,412.7 L96.0,410.0 L95.2,406.7 L94.2,402.9 L93.2,398.6 L92.1,394.1 L91.0,389.3 L89.8,384.5 L88.6,379.6 L87.5,375.0 L86.4,370.4 L85.2,365.8 L84.0,361.1 L82.8,356.4 L81.6,351.7 L80.4,346.9 L79.2,342.2 L78.0,337.5 L76.8,332.8 L75.5,328.0 L74.2,323.3 L72.9,318.5 L71.6,313.8 L70.4,309.1Z" fill="#c96a58"/>
<g filter="url(#b1)">
<path d="M68.0,300.0 L68.9,303.2 L69.7,306.4 L70.6,309.5 L71.4,312.7 L72.3,315.9 L73.1,319.1 L74.0,322.2 L74.8,325.4 L75.7,328.6 L76.5,331.8 L77.3,335.0 L78.2,338.1 L79.0,341.3 L79.8,344.5 L80.6,347.7 L81.4,350.9 L82.3,354.1 L83.1,357.3 L83.9,360.4 L84.7,363.6 L85.5,366.8 L86.3,370.0 L87.1,373.2 L87.8,376.4 L88.6,379.6 L89.4,382.8 L90.2,386.0 L90.9,389.2 L91.7,392.4 L92.5,395.6 L93.2,398.8 L94.0,402.0 L94.8,405.2 L95.6,408.4 L96.4,411.6 L97.3,414.7 L98.3,417.9 L99.5,420.9 L100.3,423.5 L105.8,420.4 L104.9,417.9 L103.8,414.9 L102.7,411.8 L101.8,408.7 L100.9,405.6 L100.0,402.4 L99.2,399.3 L98.4,396.1 L97.6,393.0 L96.7,389.8 L95.9,386.7 L95.1,383.5 L94.3,380.4 L93.5,377.2 L92.6,374.1 L91.8,370.9 L91.0,367.8 L90.1,364.6 L89.3,361.5 L88.4,358.3 L87.6,355.2 L86.7,352.1 L85.9,348.9 L85.0,345.8 L84.1,342.6 L83.3,339.5 L82.4,336.4 L81.5,333.2 L80.6,330.1 L79.7,327.0 L78.8,323.8 L77.9,320.7 L77.0,317.6 L76.1,314.4 L75.2,311.3 L74.3,308.2 L73.4,305.1 L72.5,301.9 L71.6,298.8Z" fill="#b03038" stroke="#b03038" stroke-width="0.6" />
<path d="M71.6,298.8 L72.5,301.9 L73.4,305.1 L74.3,308.2 L75.2,311.3 L76.1,314.4 L77.0,317.6 L77.9,320.7 L78.8,323.8 L79.7,327.0 L80.6,330.1 L81.5,333.2 L82.4,336.4 L83.3,339.5 L84.1,342.6 L85.0,345.8 L85.9,348.9 L86.7,352.1 L87.6,355.2 L88.4,358.3 L89.3,361.5 L90.1,364.6 L91.0,367.8 L91.8,370.9 L92.6,374.1 L93.5,377.2 L94.3,380.4 L95.1,383.5 L95.9,386.7 L96.7,389.8 L97.6,393.0 L98.4,396.1 L99.2,399.3 L100.0,402.4 L100.9,405.6 L101.8,408.7 L102.7,411.8 L103.8,414.9 L104.9,417.9 L105.8,420.4 L112.7,416.6 L111.8,414.2 L110.6,411.2 L109.5,408.2 L108.5,405.1 L107.5,402.0 L106.6,399.0 L105.7,395.9 L104.8,392.8 L103.9,389.7 L103.1,386.6 L102.2,383.5 L101.3,380.4 L100.4,377.3 L99.5,374.2 L98.6,371.1 L97.7,368.0 L96.8,365.0 L95.9,361.9 L95.0,358.8 L94.1,355.7 L93.2,352.6 L92.3,349.5 L91.4,346.4 L90.4,343.4 L89.5,340.3 L88.6,337.2 L87.6,334.1 L86.7,331.1 L85.8,328.0 L84.8,324.9 L83.8,321.8 L82.9,318.8 L81.9,315.7 L81.0,312.6 L80.0,309.6 L79.0,306.5 L78.1,303.4 L77.1,300.4 L76.1,297.3Z" fill="#d88888" stroke="#d88888" stroke-width="0.6" />
<path d="M76.1,297.3 L77.1,300.4 L78.1,303.4 L79.0,306.5 L80.0,309.6 L81.0,312.6 L81.9,315.7 L82.9,318.8 L83.8,321.8 L84.8,324.9 L85.8,328.0 L86.7,331.1 L87.6,334.1 L88.6,337.2 L89.5,340.3 L90.4,343.4 L91.4,346.4 L92.3,349.5 L93.2,352.6 L94.1,355.7 L95.0,358.8 L95.9,361.9 L96.8,365.0 L97.7,368.0 L98.6,371.1 L99.5,374.2 L100.4,377.3 L101.3,380.4 L102.2,383.5 L103.1,386.6 L103.9,389.7 L104.8,392.8 L105.7,395.9 L106.6,399.0 L107.5,402.0 L108.5,405.1 L109.5,408.2 L110.6,411.2 L111.8,414.2 L112.7,416.6 L127.9,408.3 L126.8,405.9 L125.5,403.1 L124.3,400.2 L123.2,397.3 L122.1,394.3 L121.0,391.4 L120.0,388.4 L119.0,385.4 L118.0,382.5 L116.9,379.5 L115.9,376.5 L114.9,373.6 L113.9,370.6 L112.9,367.6 L111.8,364.7 L110.8,361.7 L109.8,358.8 L108.7,355.8 L107.7,352.8 L106.6,349.9 L105.6,346.9 L104.5,344.0 L103.5,341.0 L102.4,338.1 L101.4,335.1 L100.3,332.2 L99.2,329.2 L98.2,326.3 L97.1,323.3 L96.0,320.4 L94.9,317.5 L93.8,314.5 L92.7,311.6 L91.6,308.7 L90.5,305.7 L89.4,302.8 L88.3,299.9 L87.2,296.9 L86.1,294.0Z" fill="#cc5c68" stroke="#cc5c68" stroke-width="0.6" />
<path d="M86.1,294.0 L87.2,296.9 L88.3,299.9 L89.4,302.8 L90.5,305.7 L91.6,308.7 L92.7,311.6 L93.8,314.5 L94.9,317.5 L96.0,320.4 L97.1,323.3 L98.2,326.3 L99.2,329.2 L100.3,332.2 L101.4,335.1 L102.4,338.1 L103.5,341.0 L104.5,344.0 L105.6,346.9 L106.6,349.9 L107.7,352.8 L108.7,355.8 L109.8,358.8 L110.8,361.7 L111.8,364.7 L112.9,367.6 L113.9,370.6 L114.9,373.6 L115.9,376.5 L116.9,379.5 L118.0,382.5 L119.0,385.4 L120.0,388.4 L121.0,391.4 L122.1,394.3 L123.2,397.3 L124.3,400.2 L125.5,403.1 L126.8,405.9 L127.9,408.3 L137.5,403.0 L136.4,400.7 L135.0,397.9 L133.7,395.1 L132.5,392.3 L131.3,389.4 L130.2,386.5 L129.1,383.6 L128.0,380.8 L126.9,377.9 L125.8,375.0 L124.7,372.1 L123.6,369.2 L122.5,366.3 L121.4,363.5 L120.2,360.6 L119.1,357.7 L118.0,354.8 L116.9,351.9 L115.7,349.1 L114.6,346.2 L113.5,343.3 L112.3,340.4 L111.2,337.6 L110.1,334.7 L108.9,331.8 L107.8,329.0 L106.6,326.1 L105.4,323.2 L104.3,320.4 L103.1,317.5 L101.9,314.7 L100.7,311.8 L99.6,309.0 L98.4,306.1 L97.2,303.3 L96.0,300.4 L94.8,297.6 L93.6,294.7 L92.4,291.9Z" fill="#c24858" stroke="#c24858" stroke-width="0.6" />
<path d="M92.4,291.9 L93.6,294.7 L94.8,297.6 L96.0,300.4 L97.2,303.3 L98.4,306.1 L99.6,309.0 L100.7,311.8 L101.9,314.7 L103.1,317.5 L104.3,320.4 L105.4,323.2 L106.6,326.1 L107.8,329.0 L108.9,331.8 L110.1,334.7 L111.2,337.6 L112.3,340.4 L113.5,343.3 L114.6,346.2 L115.7,349.1 L116.9,351.9 L118.0,354.8 L119.1,357.7 L120.2,360.6 L121.4,363.5 L122.5,366.3 L123.6,369.2 L124.7,372.1 L125.8,375.0 L126.9,377.9 L128.0,380.8 L129.1,383.6 L130.2,386.5 L131.3,389.4 L132.5,392.3 L133.7,395.1 L135.0,397.9 L136.4,400.7 L137.5,403.0 L145.8,398.4 L144.6,396.2 L143.2,393.5 L141.8,390.7 L140.5,388.0 L139.3,385.2 L138.1,382.4 L136.9,379.6 L135.7,376.8 L134.5,373.9 L133.4,371.1 L132.2,368.3 L131.0,365.5 L129.8,362.7 L128.6,359.9 L127.4,357.1 L126.2,354.3 L125.0,351.5 L123.8,348.6 L122.6,345.8 L121.4,343.0 L120.2,340.2 L119.0,337.4 L117.8,334.6 L116.6,331.8 L115.4,329.0 L114.2,326.2 L112.9,323.4 L111.7,320.6 L110.4,317.9 L109.2,315.1 L107.9,312.3 L106.7,309.5 L105.4,306.7 L104.2,304.0 L102.9,301.2 L101.6,298.4 L100.4,295.6 L99.1,292.9 L97.9,290.1Z" fill="#d87868" stroke="#d87868" stroke-width="0.6" />
<path d="M97.9,290.1 L99.1,292.9 L100.4,295.6 L101.6,298.4 L102.9,301.2 L104.2,304.0 L105.4,306.7 L106.7,309.5 L107.9,312.3 L109.2,315.1 L110.4,317.9 L111.7,320.6 L112.9,323.4 L114.2,326.2 L115.4,329.0 L116.6,331.8 L117.8,334.6 L119.0,337.4 L120.2,340.2 L121.4,343.0 L122.6,345.8 L123.8,348.6 L125.0,351.5 L126.2,354.3 L127.4,357.1 L128.6,359.9 L129.8,362.7 L131.0,365.5 L132.2,368.3 L133.4,371.1 L134.5,373.9 L135.7,376.8 L136.9,379.6 L138.1,382.4 L139.3,385.2 L140.5,388.0 L141.8,390.7 L143.2,393.5 L144.6,396.2 L145.8,398.4 L152.7,394.7 L151.5,392.4 L150.0,389.8 L148.6,387.1 L147.2,384.4 L145.9,381.7 L144.7,378.9 L143.4,376.2 L142.1,373.4 L140.9,370.7 L139.7,367.9 L138.4,365.2 L137.2,362.4 L135.9,359.6 L134.7,356.9 L133.4,354.1 L132.2,351.4 L130.9,348.6 L129.7,345.9 L128.4,343.1 L127.1,340.4 L125.9,337.6 L124.6,334.9 L123.3,332.1 L122.1,329.4 L120.8,326.7 L119.5,323.9 L118.2,321.2 L116.9,318.5 L115.6,315.7 L114.3,313.0 L113.0,310.3 L111.6,307.6 L110.3,304.9 L109.0,302.2 L107.7,299.5 L106.4,296.7 L105.0,294.0 L103.7,291.3 L102.4,288.6Z" fill="#eaa888" stroke="#eaa888" stroke-width="0.6" />
<path d="M102.4,288.6 L103.7,291.3 L105.0,294.0 L106.4,296.7 L107.7,299.5 L109.0,302.2 L110.3,304.9 L111.6,307.6 L113.0,310.3 L114.3,313.0 L115.6,315.7 L116.9,318.5 L118.2,321.2 L119.5,323.9 L120.8,326.7 L122.1,329.4 L123.3,332.1 L124.6,334.9 L125.9,337.6 L127.1,340.4 L128.4,343.1 L129.7,345.9 L130.9,348.6 L132.2,351.4 L133.4,354.1 L134.7,356.9 L135.9,359.6 L137.2,362.4 L138.4,365.2 L139.7,367.9 L140.9,370.7 L142.1,373.4 L143.4,376.2 L144.7,378.9 L145.9,381.7 L147.2,384.4 L148.6,387.1 L150.0,389.8 L151.5,392.4 L152.7,394.7 L159.6,390.9 L158.3,388.7 L156.8,386.1 L155.3,383.5 L153.9,380.8 L152.5,378.1 L151.2,375.5 L149.9,372.8 L148.6,370.1 L147.3,367.4 L146.0,364.7 L144.7,362.0 L143.4,359.3 L142.1,356.6 L140.8,353.9 L139.4,351.2 L138.1,348.5 L136.8,345.8 L135.5,343.1 L134.2,340.4 L132.8,337.7 L131.5,335.1 L130.2,332.4 L128.8,329.7 L127.5,327.0 L126.2,324.3 L124.8,321.6 L123.5,319.0 L122.1,316.3 L120.7,313.6 L119.4,311.0 L118.0,308.3 L116.6,305.7 L115.2,303.0 L113.8,300.4 L112.5,297.7 L111.1,295.1 L109.7,292.4 L108.3,289.8 L106.9,287.1Z" fill="#d66a60" stroke="#d66a60" stroke-width="0.6" />
<path d="M106.9,287.1 L108.3,289.8 L109.7,292.4 L111.1,295.1 L112.5,297.7 L113.8,300.4 L115.2,303.0 L116.6,305.7 L118.0,308.3 L119.4,311.0 L120.7,313.6 L122.1,316.3 L123.5,319.0 L124.8,321.6 L126.2,324.3 L127.5,327.0 L128.8,329.7 L130.2,332.4 L131.5,335.1 L132.8,337.7 L134.2,340.4 L135.5,343.1 L136.8,345.8 L138.1,348.5 L139.4,351.2 L140.8,353.9 L142.1,356.6 L143.4,359.3 L144.7,362.0 L146.0,364.7 L147.3,367.4 L148.6,370.1 L149.9,372.8 L151.2,375.5 L152.5,378.1 L153.9,380.8 L155.3,383.5 L156.8,386.1 L158.3,388.7 L159.6,390.9 L169.3,385.6 L167.9,383.5 L166.3,380.9 L164.7,378.4 L163.3,375.8 L161.8,373.2 L160.4,370.6 L159.0,368.0 L157.6,365.4 L156.2,362.8 L154.8,360.2 L153.4,357.6 L152.0,354.9 L150.6,352.3 L149.2,349.7 L147.8,347.1 L146.4,344.5 L145.0,341.9 L143.6,339.3 L142.2,336.7 L140.8,334.0 L139.4,331.4 L138.0,328.8 L136.6,326.2 L135.1,323.6 L133.7,321.0 L132.3,318.4 L130.8,315.8 L129.4,313.3 L127.9,310.7 L126.5,308.1 L125.0,305.5 L123.5,303.0 L122.1,300.4 L120.6,297.8 L119.1,295.3 L117.7,292.7 L116.2,290.1 L114.7,287.6 L113.2,285.0Z" fill="#e09070" stroke="#e09070" stroke-width="0.6" />
<path d="M113.2,285.0 L114.7,287.6 L116.2,290.1 L117.7,292.7 L119.1,295.3 L120.6,297.8 L122.1,300.4 L123.5,303.0 L125.0,305.5 L126.5,308.1 L127.9,310.7 L129.4,313.3 L130.8,315.8 L132.3,318.4 L133.7,321.0 L135.1,323.6 L136.6,326.2 L138.0,328.8 L139.4,331.4 L140.8,334.0 L142.2,336.7 L143.6,339.3 L145.0,341.9 L146.4,344.5 L147.8,347.1 L149.2,349.7 L150.6,352.3 L152.0,354.9 L153.4,357.6 L154.8,360.2 L156.2,362.8 L157.6,365.4 L159.0,368.0 L160.4,370.6 L161.8,373.2 L163.3,375.8 L164.7,378.4 L166.3,380.9 L167.9,383.5 L169.3,385.6 L180.3,379.5 L178.9,377.5 L177.2,375.0 L175.5,372.6 L173.9,370.1 L172.4,367.6 L170.9,365.1 L169.4,362.6 L167.9,360.1 L166.4,357.5 L164.9,355.0 L163.4,352.5 L161.9,350.0 L160.4,347.5 L158.9,344.9 L157.4,342.4 L155.9,339.9 L154.4,337.4 L152.9,334.9 L151.4,332.3 L149.9,329.8 L148.4,327.3 L146.9,324.8 L145.4,322.3 L143.9,319.8 L142.3,317.3 L140.8,314.8 L139.3,312.3 L137.7,309.8 L136.2,307.3 L134.6,304.8 L133.0,302.4 L131.5,299.9 L129.9,297.4 L128.3,294.9 L126.8,292.5 L125.2,290.0 L123.6,287.5 L122.1,285.1 L120.5,282.6Z" fill="#c8604c" stroke="#c8604c" stroke-width="0.6" />
<path d="M120.5,282.6 L122.1,285.1 L123.6,287.5 L125.2,290.0 L126.8,292.5 L128.3,294.9 L129.9,297.4 L131.5,299.9 L133.0,302.4 L134.6,304.8 L136.2,307.3 L137.7,309.8 L139.3,312.3 L140.8,314.8 L142.3,317.3 L143.9,319.8 L145.4,322.3 L146.9,324.8 L148.4,327.3 L149.9,329.8 L151.4,332.3 L152.9,334.9 L154.4,337.4 L155.9,339.9 L157.4,342.4 L158.9,344.9 L160.4,347.5 L161.9,350.0 L163.4,352.5 L164.9,355.0 L166.4,357.5 L167.9,360.1 L169.4,362.6 L170.9,365.1 L172.4,367.6 L173.9,370.1 L175.5,372.6 L177.2,375.0 L178.9,377.5 L180.3,379.5 L194.1,371.9 L192.5,370.0 L190.7,367.7 L189.0,365.3 L187.3,363.0 L185.7,360.6 L184.0,358.2 L182.4,355.8 L180.8,353.4 L179.2,351.0 L177.5,348.6 L175.9,346.2 L174.3,343.8 L172.7,341.4 L171.1,339.0 L169.4,336.6 L167.8,334.2 L166.2,331.8 L164.6,329.3 L162.9,326.9 L161.3,324.5 L159.7,322.1 L158.0,319.7 L156.4,317.4 L154.8,315.0 L153.1,312.6 L151.5,310.2 L149.8,307.8 L148.1,305.5 L146.5,303.1 L144.8,300.7 L143.1,298.4 L141.4,296.0 L139.7,293.7 L138.0,291.3 L136.3,289.0 L134.6,286.6 L132.9,284.3 L131.2,281.9 L129.5,279.6Z" fill="#b04a3c" stroke="#b04a3c" stroke-width="0.6" />
<path d="M129.5,279.6 L131.2,281.9 L132.9,284.3 L134.6,286.6 L136.3,289.0 L138.0,291.3 L139.7,293.7 L141.4,296.0 L143.1,298.4 L144.8,300.7 L146.5,303.1 L148.1,305.5 L149.8,307.8 L151.5,310.2 L153.1,312.6 L154.8,315.0 L156.4,317.4 L158.0,319.7 L159.7,322.1 L161.3,324.5 L162.9,326.9 L164.6,329.3 L166.2,331.8 L167.8,334.2 L169.4,336.6 L171.1,339.0 L172.7,341.4 L174.3,343.8 L175.9,346.2 L177.5,348.6 L179.2,351.0 L180.8,353.4 L182.4,355.8 L184.0,358.2 L185.7,360.6 L187.3,363.0 L189.0,365.3 L190.7,367.7 L192.5,370.0 L194.1,371.9 L205.1,365.9 L203.5,364.0 L201.6,361.7 L199.8,359.5 L198.0,357.2 L196.3,354.9 L194.5,352.6 L192.8,350.3 L191.1,348.0 L189.4,345.7 L187.6,343.4 L185.9,341.1 L184.2,338.8 L182.5,336.5 L180.8,334.2 L179.0,331.9 L177.3,329.6 L175.6,327.3 L173.9,324.9 L172.1,322.6 L170.4,320.3 L168.7,318.0 L167.0,315.7 L165.2,313.4 L163.5,311.1 L161.7,308.8 L160.0,306.5 L158.2,304.3 L156.5,302.0 L154.7,299.7 L152.9,297.5 L151.1,295.2 L149.3,292.9 L147.5,290.7 L145.7,288.4 L144.0,286.2 L142.2,283.9 L140.4,281.7 L138.6,279.5 L136.8,277.2Z" fill="#a8423a" stroke="#a8423a" stroke-width="0.6" />
<path d="M136.8,277.2 L138.6,279.5 L140.4,281.7 L142.2,283.9 L144.0,286.2 L145.7,288.4 L147.5,290.7 L149.3,292.9 L151.1,295.2 L152.9,297.5 L154.7,299.7 L156.5,302.0 L158.2,304.3 L160.0,306.5 L161.7,308.8 L163.5,311.1 L165.2,313.4 L167.0,315.7 L168.7,318.0 L170.4,320.3 L172.1,322.6 L173.9,324.9 L175.6,327.3 L177.3,329.6 L179.0,331.9 L180.8,334.2 L182.5,336.5 L184.2,338.8 L185.9,341.1 L187.6,343.4 L189.4,345.7 L191.1,348.0 L192.8,350.3 L194.5,352.6 L196.3,354.9 L198.0,357.2 L199.8,359.5 L201.6,361.7 L203.5,364.0 L205.1,365.9 L214.8,360.6 L213.1,358.7 L211.1,356.6 L209.2,354.4 L207.4,352.2 L205.5,350.0 L203.7,347.8 L201.9,345.6 L200.1,343.4 L198.3,341.1 L196.5,338.9 L194.7,336.7 L192.9,334.5 L191.0,332.2 L189.2,330.0 L187.4,327.8 L185.6,325.5 L183.8,323.3 L182.0,321.1 L180.2,318.9 L178.4,316.6 L176.6,314.4 L174.8,312.2 L172.9,310.0 L171.1,307.7 L169.3,305.5 L167.4,303.3 L165.6,301.1 L163.7,298.9 L161.9,296.8 L160.0,294.6 L158.1,292.4 L156.3,290.2 L154.4,288.1 L152.5,285.9 L150.6,283.8 L148.8,281.6 L146.9,279.4 L145.0,277.3 L143.1,275.1Z" fill="#c86850" stroke="#c86850" stroke-width="0.6" />
<path d="M143.1,275.1 L145.0,277.3 L146.9,279.4 L148.8,281.6 L150.6,283.8 L152.5,285.9 L154.4,288.1 L156.3,290.2 L158.1,292.4 L160.0,294.6 L161.9,296.8 L163.7,298.9 L165.6,301.1 L167.4,303.3 L169.3,305.5 L171.1,307.7 L172.9,310.0 L174.8,312.2 L176.6,314.4 L178.4,316.6 L180.2,318.9 L182.0,321.1 L183.8,323.3 L185.6,325.5 L187.4,327.8 L189.2,330.0 L191.0,332.2 L192.9,334.5 L194.7,336.7 L196.5,338.9 L198.3,341.1 L200.1,343.4 L201.9,345.6 L203.7,347.8 L205.5,350.0 L207.4,352.2 L209.2,354.4 L211.1,356.6 L213.1,358.7 L214.8,360.6 L230.0,352.2 L228.1,350.5 L226.1,348.5 L224.1,346.4 L222.1,344.4 L220.1,342.3 L218.1,340.2 L216.2,338.1 L214.2,336.0 L212.3,333.9 L210.4,331.8 L208.4,329.7 L206.5,327.6 L204.5,325.5 L202.6,323.4 L200.6,321.3 L198.7,319.2 L196.7,317.1 L194.8,315.0 L192.9,312.9 L190.9,310.8 L189.0,308.7 L187.0,306.6 L185.1,304.5 L183.1,302.4 L181.1,300.4 L179.2,298.3 L177.2,296.2 L175.2,294.2 L173.2,292.1 L171.2,290.1 L169.2,288.0 L167.2,286.0 L165.2,284.0 L163.2,281.9 L161.1,279.9 L159.1,277.9 L157.1,275.9 L155.1,273.8 L153.1,271.8Z" fill="#e09878" stroke="#e09878" stroke-width="0.6" />
<path d="M153.1,271.8 L155.1,273.8 L157.1,275.9 L159.1,277.9 L161.1,279.9 L163.2,281.9 L165.2,284.0 L167.2,286.0 L169.2,288.0 L171.2,290.1 L173.2,292.1 L175.2,294.2 L177.2,296.2 L179.2,298.3 L181.1,300.4 L183.1,302.4 L185.1,304.5 L187.0,306.6 L189.0,308.7 L190.9,310.8 L192.9,312.9 L194.8,315.0 L196.7,317.1 L198.7,319.2 L200.6,321.3 L202.6,323.4 L204.5,325.5 L206.5,327.6 L208.4,329.7 L210.4,331.8 L212.3,333.9 L214.2,336.0 L216.2,338.1 L218.1,340.2 L220.1,342.3 L222.1,344.4 L224.1,346.4 L226.1,348.5 L228.1,350.5 L230.0,352.2 L238.2,347.7 L236.4,346.0 L234.2,344.0 L232.1,342.1 L230.1,340.1 L228.0,338.1 L226.0,336.1 L224.0,334.0 L222.0,332.0 L220.0,330.0 L217.9,327.9 L215.9,325.9 L213.9,323.9 L211.9,321.9 L209.8,319.8 L207.8,317.8 L205.8,315.8 L203.8,313.7 L201.8,311.7 L199.8,309.7 L197.7,307.6 L195.7,305.6 L193.7,303.6 L191.7,301.6 L189.6,299.6 L187.6,297.5 L185.6,295.5 L183.5,293.6 L181.4,291.6 L179.4,289.6 L177.3,287.6 L175.2,285.7 L173.1,283.7 L171.0,281.7 L169.0,279.8 L166.9,277.8 L164.8,275.9 L162.7,273.9 L160.6,272.0 L158.5,270.0Z" fill="#d07058" stroke="#d07058" stroke-width="0.6" />
<path d="M81.6,295.5 L82.6,298.5 L83.7,301.5 L84.7,304.5 L85.7,307.5 L86.8,310.5 L87.8,313.5 L88.8,316.5 L89.9,319.5 L90.9,322.5 L91.9,325.4 L93.0,328.4 L94.0,331.5 L95.0,334.5 L96.0,337.5 L97.0,340.5 L98.0,343.5 L99.0,346.5 L100.0,349.5 L100.9,352.5 L101.9,355.5 L102.9,358.6 L103.9,361.6 L104.9,364.6 L105.8,367.6 L106.8,370.6 L107.8,373.7 L108.7,376.7 L109.7,379.7 L110.6,382.7 L111.6,385.8 L112.5,388.8 L113.5,391.8 L114.5,394.8 L115.5,397.8 L116.5,400.8 L117.6,403.8 L118.7,406.8 L120.0,409.7 L121.0,412.1 L123.1,411.0 L122.0,408.6 L120.8,405.7 L119.6,402.7 L118.5,399.8 L117.4,396.8 L116.4,393.8 L115.4,390.8 L114.5,387.8 L113.5,384.8 L112.5,381.8 L111.6,378.8 L110.6,375.8 L109.6,372.7 L108.6,369.7 L107.6,366.7 L106.7,363.7 L105.7,360.7 L104.7,357.7 L103.7,354.7 L102.7,351.7 L101.6,348.7 L100.6,345.7 L99.6,342.7 L98.6,339.8 L97.6,336.8 L96.6,333.8 L95.5,330.8 L94.5,327.8 L93.5,324.8 L92.4,321.8 L91.4,318.9 L90.3,315.9 L89.3,312.9 L88.2,309.9 L87.2,307.0 L86.1,304.0 L85.0,301.0 L84.0,298.0 L82.9,295.1Z" fill="#e6a4a8" stroke="#e6a4a8" stroke-width="0.6" />
<path d="M93.8,291.4 L95.0,294.3 L96.2,297.1 L97.4,299.9 L98.6,302.8 L99.8,305.6 L101.0,308.4 L102.2,311.3 L103.4,314.1 L104.6,316.9 L105.8,319.8 L107.0,322.6 L108.2,325.4 L109.4,328.3 L110.5,331.1 L111.7,334.0 L112.9,336.8 L114.0,339.7 L115.2,342.5 L116.3,345.4 L117.5,348.3 L118.6,351.1 L119.8,354.0 L120.9,356.8 L122.0,359.7 L123.2,362.6 L124.3,365.4 L125.4,368.3 L126.6,371.2 L127.7,374.0 L128.8,376.9 L129.9,379.8 L131.0,382.6 L132.2,385.5 L133.3,388.3 L134.5,391.2 L135.8,394.0 L137.1,396.8 L138.5,399.6 L139.6,401.9 L141.7,400.7 L140.5,398.4 L139.1,395.7 L137.8,392.9 L136.5,390.1 L135.3,387.3 L134.2,384.4 L133.0,381.6 L131.8,378.8 L130.7,375.9 L129.6,373.1 L128.4,370.2 L127.3,367.4 L126.1,364.5 L125.0,361.7 L123.8,358.8 L122.7,356.0 L121.5,353.1 L120.4,350.3 L119.2,347.5 L118.0,344.6 L116.9,341.8 L115.7,338.9 L114.5,336.1 L113.3,333.3 L112.1,330.4 L111.0,327.6 L109.8,324.8 L108.6,321.9 L107.4,319.1 L106.1,316.3 L104.9,313.5 L103.7,310.7 L102.5,307.9 L101.3,305.1 L100.0,302.2 L98.8,299.4 L97.6,296.6 L96.4,293.8 L95.2,291.0Z" fill="#f0c0b0" stroke="#f0c0b0" stroke-width="0.6" />
<path d="M104.2,288.0 L105.5,290.7 L106.9,293.4 L108.2,296.1 L109.6,298.8 L110.9,301.4 L112.3,304.1 L113.6,306.8 L115.0,309.5 L116.3,312.2 L117.6,314.9 L119.0,317.6 L120.3,320.3 L121.6,323.0 L122.9,325.7 L124.2,328.4 L125.5,331.2 L126.8,333.9 L128.1,336.6 L129.4,339.3 L130.7,342.1 L132.0,344.8 L133.3,347.5 L134.6,350.2 L135.8,353.0 L137.1,355.7 L138.4,358.4 L139.7,361.2 L140.9,363.9 L142.2,366.6 L143.5,369.3 L144.7,372.1 L146.0,374.8 L147.3,377.5 L148.6,380.3 L149.9,383.0 L151.3,385.7 L152.7,388.3 L154.2,390.9 L155.5,393.1 L157.1,392.2 L155.9,390.0 L154.3,387.4 L152.9,384.8 L151.5,382.1 L150.2,379.4 L148.9,376.7 L147.6,374.0 L146.3,371.3 L145.0,368.6 L143.7,365.8 L142.4,363.1 L141.1,360.4 L139.9,357.7 L138.6,355.0 L137.3,352.3 L136.0,349.6 L134.7,346.8 L133.4,344.1 L132.1,341.4 L130.8,338.7 L129.5,336.0 L128.2,333.3 L126.9,330.6 L125.5,327.9 L124.2,325.2 L122.9,322.5 L121.6,319.8 L120.2,317.1 L118.9,314.4 L117.5,311.7 L116.2,309.0 L114.8,306.4 L113.5,303.7 L112.1,301.0 L110.7,298.3 L109.4,295.7 L108.0,293.0 L106.6,290.3 L105.3,287.6Z" fill="#efbca6" stroke="#efbca6" stroke-width="0.6" />
<path d="M132.3,278.7 L134.0,281.0 L135.7,283.3 L137.5,285.6 L139.2,287.9 L140.9,290.2 L142.6,292.6 L144.4,294.9 L146.1,297.2 L147.8,299.5 L149.5,301.8 L151.3,304.2 L153.0,306.5 L154.7,308.8 L156.3,311.2 L158.0,313.5 L159.7,315.9 L161.4,318.2 L163.1,320.6 L164.7,323.0 L166.4,325.3 L168.0,327.7 L169.7,330.1 L171.4,332.4 L173.0,334.8 L174.7,337.2 L176.4,339.5 L178.0,341.9 L179.7,344.3 L181.3,346.6 L183.0,349.0 L184.6,351.4 L186.3,353.7 L188.0,356.1 L189.6,358.5 L191.3,360.8 L193.0,363.1 L194.8,365.4 L196.6,367.7 L198.2,369.7 L199.9,368.7 L198.3,366.8 L196.5,364.6 L194.7,362.3 L192.9,360.0 L191.2,357.6 L189.5,355.3 L187.9,352.9 L186.2,350.6 L184.5,348.2 L182.8,345.9 L181.2,343.5 L179.5,341.2 L177.8,338.8 L176.1,336.5 L174.5,334.1 L172.8,331.7 L171.1,329.4 L169.4,327.0 L167.8,324.7 L166.1,322.3 L164.4,320.0 L162.7,317.6 L161.0,315.3 L159.3,312.9 L157.6,310.6 L155.9,308.3 L154.2,306.0 L152.5,303.6 L150.8,301.3 L149.0,299.0 L147.3,296.7 L145.6,294.4 L143.8,292.1 L142.1,289.8 L140.3,287.5 L138.6,285.2 L136.8,282.9 L135.1,280.6 L133.3,278.3Z" fill="#d88a78" stroke="#d88a78" stroke-width="0.6" />
</g>
<path d="M77.0,306.0 L77.1,304.7 L77.1,302.9 L77.2,300.8 L77.3,298.4 L77.6,295.8 L78.0,293.0 L78.5,289.9 L79.1,286.5 L79.8,282.8 L80.7,279.2 L81.7,275.7 L83.0,272.5 L84.5,269.7 L86.2,267.0 L88.1,264.4 L90.1,262.1 L92.5,259.9 L95.0,258.0 L97.9,256.2 L101.1,254.6 L104.5,253.2 L108.0,252.0 L111.6,251.1 L115.0,250.5 L118.4,250.3 L121.9,250.5 L125.3,251.0 L128.7,251.7 L132.0,252.6 L135.0,253.5 L137.9,254.6 L140.6,255.9 L143.2,257.4 L145.7,259.0 L147.9,260.5 L150.0,262.0 L151.9,263.5 L153.6,265.0 L155.2,266.5 L156.5,267.9 L157.7,269.1 L158.5,270.0 L154.0,290.0 L153.1,289.5 L151.9,288.8 L150.5,287.9 L149.0,287.0 L147.5,286.0 L146.1,284.9 L144.8,283.7 L143.4,282.4 L141.8,281.2 L140.0,280.0 L137.8,278.8 L135.4,277.5 L132.7,276.4 L130.1,275.5 L127.5,275.0 L125.0,275.0 L122.4,275.3 L119.8,276.0 L117.3,276.9 L115.0,278.0 L112.7,279.4 L110.5,281.1 L108.4,283.0 L106.6,285.0 L105.0,287.0 L103.8,289.1 L102.9,291.3 L102.2,293.6 L101.6,295.8 L101.0,298.0 L100.5,300.1 L100.2,302.3 L99.8,304.3 L99.5,306.3 L99.0,308.0 L98.4,309.6 L97.7,311.1 L96.9,312.4 L96.0,313.4 L95.0,314.0 L93.7,313.9 L92.1,313.3 L90.4,312.4 L89.0,311.6 L88.0,311.0Z" fill="#81191d"/>
<path d="M77.0,306.0 L77.1,304.7 L77.1,302.9 L77.2,300.8 L77.3,298.4 L77.6,295.8 L78.0,293.0 L78.5,289.9 L79.1,286.5 L79.8,282.8 L80.7,279.2 L81.7,275.7 L83.0,272.5 L84.5,269.7 L86.2,267.0 L88.1,264.4 L90.1,262.1 L92.5,259.9 L95.0,258.0 L97.9,256.2 L101.1,254.6 L104.5,253.2 L108.0,252.0 L111.6,251.1 L115.0,250.5 L118.4,250.3 L121.9,250.5 L125.3,251.0 L128.7,251.7 L132.0,252.6 L135.0,253.5 L137.9,254.6 L140.6,255.9 L143.2,257.4 L145.7,259.0 L147.9,260.5 L150.0,262.0 L151.9,263.5 L153.6,265.0 L155.2,266.5 L156.5,267.9 L157.7,269.1 L158.5,270.0" fill="none" stroke="#6a1216" stroke-width="3" opacity="0.6" transform="translate(2.2,6.16)" filter="url(#b1)"/>
<path d="M238.0,348.0 L237.8,353.1 L237.6,358.3 L237.2,363.4 L236.3,368.5 L234.9,373.4 L233.2,378.2 L231.2,383.0 L229.2,387.7 L227.1,392.4 L225.0,397.1 L223.1,401.9 L221.3,406.7 L219.0,411.3 L215.7,415.2 L211.9,418.7 L207.8,421.7 L203.5,424.6 L199.2,427.3 L194.7,429.9 L190.2,432.4 L185.6,434.6 L180.8,436.5 L176.0,438.2 L171.0,439.6 L166.0,440.8 L160.9,441.7 L155.9,442.4 L150.7,442.8 L145.6,442.9 L140.5,442.5 L135.4,441.7 L130.4,440.6 L125.4,439.1 L120.6,437.4 L115.9,435.4 L111.4,432.8 L107.4,429.6 L103.7,426.1 L100.0,422.5 L99.6,421.1 L103.3,423.8 L107.0,426.6 L110.9,429.0 L115.3,430.9 L119.8,432.4 L124.4,433.6 L129.2,434.5 L133.9,435.2 L138.8,435.6 L143.6,435.5 L148.5,435.2 L153.4,434.5 L158.2,433.7 L163.1,432.6 L167.9,431.4 L172.7,430.0 L177.4,428.4 L182.0,426.6 L186.5,424.6 L190.9,422.3 L195.3,420.0 L199.6,417.5 L203.7,414.8 L207.8,412.0 L211.6,408.9 L215.0,405.3 L217.5,401.2 L219.5,396.7 L221.6,392.3 L223.9,388.0 L226.1,383.7 L228.4,379.3 L230.5,374.9 L232.5,370.6 L234.3,366.1 L235.5,361.6 L236.5,357.0 L237.2,352.4 L237.9,347.9Z" fill="#a83a30" stroke="#a83a30" stroke-width="0.5"/>
<path d="M237.9,347.9 L237.2,352.4 L236.5,357.0 L235.5,361.6 L234.3,366.1 L232.5,370.6 L230.5,374.9 L228.4,379.3 L226.1,383.7 L223.9,388.0 L221.6,392.3 L219.5,396.7 L217.5,401.2 L215.0,405.3 L211.6,408.9 L207.8,412.0 L203.7,414.8 L199.6,417.5 L195.3,420.0 L190.9,422.3 L186.5,424.6 L182.0,426.6 L177.4,428.4 L172.7,430.0 L167.9,431.4 L163.1,432.6 L158.2,433.7 L153.4,434.5 L148.5,435.2 L143.6,435.5 L138.8,435.6 L133.9,435.2 L129.2,434.5 L124.4,433.6 L119.8,432.4 L115.3,430.9 L110.9,429.0 L107.0,426.6 L103.3,423.8 L99.6,421.1 L99.0,418.9 L102.7,420.4 L106.3,421.9 L110.2,423.2 L114.3,424.1 L118.6,424.7 L122.9,425.0 L127.3,425.2 L131.7,425.2 L136.2,424.9 L140.6,424.3 L145.1,423.4 L149.6,422.4 L154.1,421.3 L158.6,420.1 L163.1,418.9 L167.6,417.5 L172.1,416.0 L176.5,414.4 L180.9,412.6 L185.1,410.7 L189.3,408.6 L193.5,406.5 L197.6,404.3 L201.6,401.9 L205.4,399.2 L208.8,396.2 L211.6,392.6 L213.9,388.8 L216.4,385.0 L218.9,381.2 L221.4,377.4 L223.9,373.6 L226.4,369.9 L228.9,366.2 L231.1,362.5 L233.0,358.8 L234.7,355.1 L236.3,351.3 L237.8,347.6Z" fill="#8e2424" stroke="#8e2424" stroke-width="0.5"/>
<path d="M237.8,347.6 L236.3,351.3 L234.7,355.1 L233.0,358.8 L231.1,362.5 L228.9,366.2 L226.4,369.9 L223.9,373.6 L221.4,377.4 L218.9,381.2 L216.4,385.0 L213.9,388.8 L211.6,392.6 L208.8,396.2 L205.4,399.2 L201.6,401.9 L197.6,404.3 L193.5,406.5 L189.3,408.6 L185.1,410.7 L180.9,412.6 L176.5,414.4 L172.1,416.0 L167.6,417.5 L163.1,418.9 L158.6,420.1 L154.1,421.3 L149.6,422.4 L145.1,423.4 L140.6,424.3 L136.2,424.9 L131.7,425.2 L127.3,425.2 L122.9,425.0 L118.6,424.7 L114.3,424.1 L110.2,423.2 L106.3,421.9 L102.7,420.4 L99.0,418.9 L98.5,416.6 L102.1,416.8 L105.7,417.1 L109.4,417.1 L113.3,417.0 L117.3,416.6 L121.3,416.1 L125.4,415.5 L129.4,414.7 L133.4,413.7 L137.5,412.5 L141.6,411.2 L145.7,409.8 L149.8,408.4 L154.0,407.1 L158.2,405.7 L162.4,404.4 L166.6,403.0 L170.8,401.6 L174.9,400.1 L179.0,398.5 L183.1,396.8 L187.1,395.1 L191.1,393.2 L195.0,391.3 L198.8,389.1 L202.3,386.6 L205.4,383.7 L208.2,380.6 L210.9,377.4 L213.7,374.2 L216.5,371.0 L219.3,367.7 L222.2,364.7 L225.1,361.7 L227.8,358.8 L230.4,355.9 L232.9,353.0 L235.3,350.2 L237.7,347.4Z" fill="#aa423a" stroke="#aa423a" stroke-width="0.5"/>
<path d="M237.7,347.4 L235.3,350.2 L232.9,353.0 L230.4,355.9 L227.8,358.8 L225.1,361.7 L222.2,364.7 L219.3,367.7 L216.5,371.0 L213.7,374.2 L210.9,377.4 L208.2,380.6 L205.4,383.7 L202.3,386.6 L198.8,389.1 L195.0,391.3 L191.1,393.2 L187.1,395.1 L183.1,396.8 L179.0,398.5 L174.9,400.1 L170.8,401.6 L166.6,403.0 L162.4,404.4 L158.2,405.7 L154.0,407.1 L149.8,408.4 L145.7,409.8 L141.6,411.2 L137.5,412.5 L133.4,413.7 L129.4,414.7 L125.4,415.5 L121.3,416.1 L117.3,416.6 L113.3,417.0 L109.4,417.1 L105.7,417.1 L102.1,416.8 L98.5,416.6 L97.5,413.0 L101.0,411.2 L104.6,409.3 L108.1,407.5 L111.7,405.7 L115.2,403.8 L118.8,402.0 L122.3,400.1 L125.8,398.1 L129.2,396.0 L132.5,393.9 L135.9,391.8 L139.4,389.9 L143.0,388.0 L146.6,386.4 L150.3,385.0 L154.1,383.7 L157.9,382.5 L161.7,381.4 L165.6,380.3 L169.4,379.2 L173.3,378.1 L177.1,377.0 L180.9,375.8 L184.7,374.5 L188.4,373.1 L192.0,371.5 L195.6,369.7 L199.0,367.6 L202.3,365.4 L205.6,363.0 L208.8,360.7 L212.1,358.4 L215.5,356.3 L219.0,354.5 L222.6,352.8 L226.3,351.3 L230.0,349.8 L233.8,348.4 L237.5,347.0Z" fill="#8a2226" stroke="#8a2226" stroke-width="0.5"/>
</g>
<g clip-path="url(#c1)"><path d="M101.6,405.8 L100.5,401.6 L99.5,397.3 L98.5,393.1 L97.5,388.8 L96.5,384.6 L95.4,380.3 L94.4,376.1 L93.3,371.8 L92.3,367.6 L91.2,363.4 L90.2,359.1 L89.1,354.9 L88.0,350.7 L86.9,346.4 L85.8,342.2 L84.8,338.0 L83.6,333.8 L82.5,329.5 L81.4,325.3 L80.3,321.1 L79.2,316.9 L78.0,312.7 L77.0,306.0 L77.1,304.7 L77.1,302.9 L77.2,300.8 L77.3,298.4 L77.6,295.8 L78.0,293.0 L78.5,289.9 L79.1,286.5 L79.8,282.8 L80.7,279.2 L81.7,275.7 L83.0,272.5 L84.5,269.7 L86.2,267.0 L88.1,264.4 L90.1,262.1 L92.5,259.9 L95.0,258.0 L97.9,256.2 L101.1,254.6 L104.5,253.2 L108.0,252.0 L111.6,251.1 L115.0,250.5 L118.4,250.3 L121.9,250.5 L125.3,251.0 L128.7,251.7 L132.0,252.6 L135.0,253.5 L137.9,254.6 L140.6,255.9 L143.2,257.4 L145.7,259.0 L147.9,260.5 L150.0,262.0 L151.9,263.5 L153.6,265.0 L155.2,266.5 L156.5,267.9 L157.7,269.1 L158.5,270.0 L159.9,271.4" fill="none" stroke="#cf6560" stroke-width="5.6" transform="translate(1,2.8)"/></g>
</g>
<path d="M228.7,218.2 L228.1,222.0 L227.7,225.7 L227.2,229.3 L226.9,232.9 L226.7,236.4 L226.5,240.0 L226.4,243.6 L226.4,247.2 L226.5,250.7 L226.7,254.2 L226.9,257.7 L227.2,261.1 L227.6,264.6 L228.0,268.0 L228.5,271.4 L229.0,274.7 L229.6,277.9 L230.3,281.1 L231.0,284.4 L231.8,287.8 L232.6,291.3 L233.5,295.0 L234.4,298.9 L235.4,302.9 L236.4,307.1 L237.5,311.3 L238.6,315.6 L239.7,320.1 L240.8,324.5 L242.0,329.0 L243.2,333.6 L244.4,338.2 L245.7,343.0 L246.9,347.8 L248.2,352.6 L249.5,357.4 L250.8,362.2 L252.0,367.0 L253.2,371.7 L254.4,376.5 L255.6,381.2 L256.8,385.9 L258.0,390.6 L259.2,395.4 L260.4,400.2 L261.5,405.0 L262.7,410.2 L263.9,415.8 L265.1,421.6 L266.3,427.4 L267.5,432.8 L268.5,437.8 L269.4,441.9 L270.0,445.0 L411.0,379.0 L410.3,378.4 L409.5,377.6 L408.4,376.7 L407.2,375.7 L406.0,374.6 L404.7,373.4 L403.3,372.2 L402.0,371.0 L400.8,369.9 L399.6,368.9 L398.5,367.8 L397.3,366.8 L396.0,365.5 L394.3,364.0 L392.4,362.2 L390.0,360.0 L387.1,357.3 L383.7,354.3 L380.0,350.9 L376.0,347.2 L371.9,343.5 L367.8,339.6 L363.8,335.8 L360.0,332.0 L356.5,328.4 L353.0,324.8 L349.7,321.3 L346.4,317.7 L343.0,313.9 L339.5,309.9 L335.9,305.7 L332.0,301.0 L327.7,295.7 L322.9,289.8 L317.9,283.4 L312.8,276.9 L307.9,270.5 L303.3,264.4 L299.3,258.8 L296.0,254.0 L293.5,250.1 L291.7,246.7 L290.4,243.9 L289.5,241.4 L288.8,239.2 L288.3,236.9 L287.7,234.6 L287.0,232.0 L286.3,229.4 L285.7,226.9 L285.2,224.5 L284.7,222.1 L284.3,219.5 L283.9,216.7Z" fill="#b9a3a3" opacity="0.35" filter="url(#b8)" transform="translate(14,6)" mask="url(#fade2)"/>
<g id="a2" mask="url(#fade2)">
<path d="M238.0,171.0 L237.4,174.1 L236.5,178.2 L235.4,183.2 L234.2,188.6 L233.0,194.3 L231.9,200.0 L230.8,205.3 L230.0,210.0 L229.3,214.2 L228.7,218.2 L228.1,222.0 L227.7,225.7 L227.2,229.3 L226.9,232.9 L226.7,236.4 L226.5,240.0 L226.4,243.6 L226.4,247.2 L226.5,250.7 L226.7,254.2 L226.9,257.7 L227.2,261.1 L227.6,264.6 L228.0,268.0 L228.5,271.4 L229.0,274.7 L229.6,277.9 L230.3,281.1 L231.0,284.4 L231.8,287.8 L232.6,291.3 L233.5,295.0 L234.4,298.9 L235.4,302.9 L236.4,307.1 L237.5,311.3 L238.6,315.6 L239.7,320.1 L240.8,324.5 L242.0,329.0 L243.2,333.6 L244.4,338.2 L245.7,343.0 L246.9,347.8 L248.2,352.6 L249.5,357.4 L250.8,362.2 L252.0,367.0 L253.2,371.7 L254.4,376.5 L255.6,381.2 L256.8,385.9 L258.0,390.6 L259.2,395.4 L260.4,400.2 L261.5,405.0 L262.7,410.2 L263.9,415.8 L265.1,421.6 L266.3,427.4 L267.5,432.8 L268.5,437.8 L269.4,441.9 L270.0,445.0 L411.0,379.0 L410.3,378.4 L409.5,377.6 L408.4,376.7 L407.2,375.7 L406.0,374.6 L404.7,373.4 L403.3,372.2 L402.0,371.0 L400.8,369.9 L399.6,368.9 L398.5,367.8 L397.3,366.8 L396.0,365.5 L394.3,364.0 L392.4,362.2 L390.0,360.0 L387.1,357.3 L383.7,354.3 L380.0,350.9 L376.0,347.2 L371.9,343.5 L367.8,339.6 L363.8,335.8 L360.0,332.0 L356.5,328.4 L353.0,324.8 L349.7,321.3 L346.4,317.7 L343.0,313.9 L339.5,309.9 L335.9,305.7 L332.0,301.0 L327.7,295.7 L322.9,289.8 L317.9,283.4 L312.8,276.9 L307.9,270.5 L303.3,264.4 L299.3,258.8 L296.0,254.0 L293.5,250.1 L291.7,246.7 L290.4,243.9 L289.5,241.4 L288.8,239.2 L288.3,236.9 L287.7,234.6 L287.0,232.0 L286.3,229.4 L285.7,226.9 L285.2,224.5 L284.7,222.1 L284.3,219.5 L283.9,216.7 L283.5,213.6 L283.0,210.0 L282.4,205.7 L281.8,200.5 L281.2,194.9 L280.5,189.1 L279.9,183.5 L279.3,178.4 L278.9,174.1 L278.5,171.0Z" fill="#9a2226"/>
<g filter="url(#b1)">
<path d="M238.0,171.0 L236.5,178.0 L235.0,185.0 L233.5,192.1 L232.0,199.1 L230.7,206.2 L229.5,213.2 L228.4,220.3 L227.5,227.5 L226.8,234.6 L226.5,241.8 L226.5,249.0 L226.8,256.1 L227.5,263.3 L228.3,270.4 L229.6,277.5 L231.1,284.5 L232.7,291.5 L234.3,298.5 L236.0,305.5 L237.8,312.4 L239.5,319.4 L241.3,326.4 L243.1,333.3 L244.9,340.3 L246.8,347.2 L248.6,354.1 L250.5,361.1 L252.3,368.0 L254.1,375.0 L255.8,381.9 L257.6,388.9 L259.3,395.9 L261.0,402.9 L262.6,409.9 L264.1,416.9 L265.6,423.9 L267.1,430.9 L268.5,438.0 L270.0,445.0 L277.8,441.3 L276.2,434.5 L274.5,427.6 L272.9,420.7 L271.2,413.8 L269.5,406.9 L267.7,400.1 L265.9,393.2 L264.0,386.4 L262.0,379.6 L260.1,372.7 L258.1,365.9 L256.2,359.1 L254.2,352.3 L252.2,345.4 L250.2,338.6 L248.3,331.8 L246.3,324.9 L244.4,318.1 L242.5,311.2 L240.6,304.4 L238.8,297.5 L237.1,290.6 L235.3,283.7 L233.7,276.8 L232.3,269.8 L231.3,262.8 L230.5,255.7 L230.0,248.6 L229.9,241.4 L230.1,234.3 L230.6,227.2 L231.5,220.1 L232.4,213.1 L233.5,206.0 L234.8,199.0 L236.1,192.0 L237.5,185.0 L238.9,178.0 L240.2,171.0Z" fill="rgb(155,30,36)" stroke="rgb(155,30,36)" stroke-width="0.6" />
<path d="M240.2,171.0 L238.9,178.0 L237.5,185.0 L236.1,192.0 L234.8,199.0 L233.5,206.0 L232.4,213.1 L231.5,220.1 L230.6,227.2 L230.1,234.3 L229.9,241.4 L230.0,248.6 L230.5,255.7 L231.3,262.8 L232.3,269.8 L233.7,276.8 L235.3,283.7 L237.1,290.6 L238.8,297.5 L240.6,304.4 L242.5,311.2 L244.4,318.1 L246.3,324.9 L248.3,331.8 L250.2,338.6 L252.2,345.4 L254.2,352.3 L256.2,359.1 L258.1,365.9 L260.1,372.7 L262.0,379.6 L264.0,386.4 L265.9,393.2 L267.7,400.1 L269.5,406.9 L271.2,413.8 L272.9,420.7 L274.5,427.6 L276.2,434.5 L277.8,441.3 L285.7,437.7 L283.8,430.9 L282.0,424.2 L280.1,417.5 L278.3,410.7 L276.4,404.0 L274.4,397.3 L272.4,390.6 L270.3,383.9 L268.2,377.2 L266.1,370.5 L264.0,363.8 L261.9,357.1 L259.8,350.4 L257.6,343.7 L255.5,337.0 L253.4,330.2 L251.4,323.5 L249.3,316.8 L247.3,310.0 L245.3,303.2 L243.3,296.5 L241.4,289.7 L239.5,282.9 L237.8,276.0 L236.3,269.2 L235.1,262.2 L234.1,255.2 L233.5,248.2 L233.3,241.1 L233.4,234.0 L233.8,227.0 L234.5,219.9 L235.4,212.9 L236.4,205.9 L237.5,198.9 L238.7,191.9 L240.0,184.9 L241.2,178.0 L242.5,171.0Z" fill="rgb(178,52,54)" stroke="rgb(178,52,54)" stroke-width="0.6" />
<path d="M242.5,171.0 L241.2,178.0 L240.0,184.9 L238.7,191.9 L237.5,198.9 L236.4,205.9 L235.4,212.9 L234.5,219.9 L233.8,227.0 L233.4,234.0 L233.3,241.1 L233.5,248.2 L234.1,255.2 L235.1,262.2 L236.3,269.2 L237.8,276.0 L239.5,282.9 L241.4,289.7 L243.3,296.5 L245.3,303.2 L247.3,310.0 L249.3,316.8 L251.4,323.5 L253.4,330.2 L255.5,337.0 L257.6,343.7 L259.8,350.4 L261.9,357.1 L264.0,363.8 L266.1,370.5 L268.2,377.2 L270.3,383.9 L272.4,390.6 L274.4,397.3 L276.4,404.0 L278.3,410.7 L280.1,417.5 L282.0,424.2 L283.8,430.9 L285.7,437.7 L293.5,434.0 L291.5,427.4 L289.4,420.8 L287.4,414.2 L285.4,407.6 L283.3,401.0 L281.1,394.5 L278.9,387.9 L276.7,381.4 L274.4,374.8 L272.2,368.3 L269.9,361.7 L267.6,355.1 L265.4,348.5 L263.1,341.9 L260.8,335.3 L258.6,328.7 L256.4,322.1 L254.2,315.4 L252.0,308.8 L249.9,302.1 L247.8,295.4 L245.8,288.7 L243.8,282.0 L241.9,275.3 L240.2,268.5 L238.9,261.7 L237.8,254.8 L237.0,247.8 L236.7,240.8 L236.7,233.8 L237.0,226.7 L237.6,219.7 L238.4,212.7 L239.3,205.7 L240.3,198.8 L241.4,191.8 L242.5,184.9 L243.6,177.9 L244.8,171.0Z" fill="rgb(192,75,74)" stroke="rgb(192,75,74)" stroke-width="0.6" />
<path d="M244.8,171.0 L243.6,177.9 L242.5,184.9 L241.4,191.8 L240.3,198.8 L239.3,205.7 L238.4,212.7 L237.6,219.7 L237.0,226.7 L236.7,233.8 L236.7,240.8 L237.0,247.8 L237.8,254.8 L238.9,261.7 L240.2,268.5 L241.9,275.3 L243.8,282.0 L245.8,288.7 L247.8,295.4 L249.9,302.1 L252.0,308.8 L254.2,315.4 L256.4,322.1 L258.6,328.7 L260.8,335.3 L263.1,341.9 L265.4,348.5 L267.6,355.1 L269.9,361.7 L272.2,368.3 L274.4,374.8 L276.7,381.4 L278.9,387.9 L281.1,394.5 L283.3,401.0 L285.4,407.6 L287.4,414.2 L289.4,420.8 L291.5,427.4 L293.5,434.0 L301.3,430.3 L299.1,423.9 L296.9,417.5 L294.7,411.0 L292.4,404.6 L290.2,398.1 L287.8,391.7 L285.5,385.3 L283.1,378.9 L280.6,372.4 L278.2,366.0 L275.8,359.6 L273.4,353.1 L270.9,346.7 L268.5,340.2 L266.1,333.7 L263.7,327.2 L261.4,320.6 L259.1,314.1 L256.8,307.6 L254.5,301.0 L252.3,294.4 L250.2,287.8 L248.0,281.2 L246.0,274.6 L244.2,267.9 L242.7,261.2 L241.4,254.4 L240.5,247.4 L240.1,240.5 L240.0,233.5 L240.2,226.5 L240.7,219.5 L241.4,212.5 L242.1,205.6 L243.0,198.7 L244.0,191.7 L245.0,184.8 L246.0,177.9 L247.0,171.0Z" fill="rgb(207,98,93)" stroke="rgb(207,98,93)" stroke-width="0.6" />
<path d="M247.0,171.0 L246.0,177.9 L245.0,184.8 L244.0,191.7 L243.0,198.7 L242.1,205.6 L241.4,212.5 L240.7,219.5 L240.2,226.5 L240.0,233.5 L240.1,240.5 L240.5,247.4 L241.4,254.4 L242.7,261.2 L244.2,267.9 L246.0,274.6 L248.0,281.2 L250.2,287.8 L252.3,294.4 L254.5,301.0 L256.8,307.6 L259.1,314.1 L261.4,320.6 L263.7,327.2 L266.1,333.7 L268.5,340.2 L270.9,346.7 L273.4,353.1 L275.8,359.6 L278.2,366.0 L280.6,372.4 L283.1,378.9 L285.5,385.3 L287.8,391.7 L290.2,398.1 L292.4,404.6 L294.7,411.0 L296.9,417.5 L299.1,423.9 L301.3,430.3 L309.2,426.7 L306.7,420.4 L304.3,414.1 L301.9,407.8 L299.5,401.5 L297.1,395.2 L294.6,388.9 L292.0,382.6 L289.4,376.3 L286.8,370.1 L284.2,363.8 L281.6,357.5 L279.1,351.1 L276.5,344.8 L273.9,338.4 L271.4,332.0 L268.9,325.6 L266.4,319.2 L264.0,312.8 L261.6,306.3 L259.2,299.9 L256.8,293.4 L254.5,286.9 L252.2,280.4 L250.1,273.9 L248.1,267.3 L246.5,260.6 L245.1,253.9 L244.1,247.1 L243.6,240.1 L243.3,233.2 L243.4,226.2 L243.8,219.3 L244.3,212.4 L245.0,205.4 L245.8,198.5 L246.6,191.7 L247.5,184.8 L248.4,177.9 L249.2,171.0Z" fill="rgb(201,87,82)" stroke="rgb(201,87,82)" stroke-width="0.6" />
<path d="M249.2,171.0 L248.4,177.9 L247.5,184.8 L246.6,191.7 L245.8,198.5 L245.0,205.4 L244.3,212.4 L243.8,219.3 L243.4,226.2 L243.3,233.2 L243.6,240.1 L244.1,247.1 L245.1,253.9 L246.5,260.6 L248.1,267.3 L250.1,273.9 L252.2,280.4 L254.5,286.9 L256.8,293.4 L259.2,299.9 L261.6,306.3 L264.0,312.8 L266.4,319.2 L268.9,325.6 L271.4,332.0 L273.9,338.4 L276.5,344.8 L279.1,351.1 L281.6,357.5 L284.2,363.8 L286.8,370.1 L289.4,376.3 L292.0,382.6 L294.6,388.9 L297.1,395.2 L299.5,401.5 L301.9,407.8 L304.3,414.1 L306.7,420.4 L309.2,426.7 L317.0,423.0 L314.4,416.9 L311.8,410.7 L309.2,404.6 L306.6,398.4 L304.0,392.2 L301.3,386.1 L298.5,380.0 L295.8,373.8 L293.0,367.7 L290.3,361.5 L287.5,355.3 L284.8,349.1 L282.1,342.9 L279.4,336.7 L276.7,330.4 L274.1,324.1 L271.5,317.8 L268.9,311.5 L266.3,305.1 L263.8,298.8 L261.3,292.4 L258.9,286.0 L256.5,279.6 L254.2,273.2 L252.1,266.7 L250.3,260.1 L248.7,253.5 L247.6,246.7 L247.0,239.8 L246.6,232.9 L246.6,226.0 L246.9,219.1 L247.3,212.2 L247.8,205.3 L248.5,198.4 L249.2,191.6 L250.0,184.7 L250.7,177.9 L251.5,171.0Z" fill="rgb(193,72,69)" stroke="rgb(193,72,69)" stroke-width="0.6" />
<path d="M251.5,171.0 L250.7,177.9 L250.0,184.7 L249.2,191.6 L248.5,198.4 L247.8,205.3 L247.3,212.2 L246.9,219.1 L246.6,226.0 L246.6,232.9 L247.0,239.8 L247.6,246.7 L248.7,253.5 L250.3,260.1 L252.1,266.7 L254.2,273.2 L256.5,279.6 L258.9,286.0 L261.3,292.4 L263.8,298.8 L266.3,305.1 L268.9,311.5 L271.5,317.8 L274.1,324.1 L276.7,330.4 L279.4,336.7 L282.1,342.9 L284.8,349.1 L287.5,355.3 L290.3,361.5 L293.0,367.7 L295.8,373.8 L298.5,380.0 L301.3,386.1 L304.0,392.2 L306.6,398.4 L309.2,404.6 L311.8,410.7 L314.4,416.9 L317.0,423.0 L324.8,419.3 L322.0,413.3 L319.2,407.3 L316.5,401.3 L313.7,395.3 L310.9,389.3 L308.0,383.3 L305.1,377.3 L302.1,371.3 L299.2,365.3 L296.3,359.3 L293.4,353.2 L290.5,347.1 L287.6,341.0 L284.8,334.9 L282.0,328.8 L279.2,322.6 L276.5,316.4 L273.8,310.1 L271.1,303.9 L268.4,297.6 L265.8,291.4 L263.3,285.1 L260.7,278.8 L258.3,272.4 L256.0,266.0 L254.1,259.6 L252.4,253.0 L251.1,246.3 L250.4,239.5 L249.9,232.6 L249.8,225.8 L250.0,218.9 L250.3,212.0 L250.7,205.2 L251.2,198.3 L251.8,191.5 L252.5,184.7 L253.1,177.8 L253.8,171.0Z" fill="rgb(185,57,55)" stroke="rgb(185,57,55)" stroke-width="0.6" />
<path d="M253.8,171.0 L253.1,177.8 L252.5,184.7 L251.8,191.5 L251.2,198.3 L250.7,205.2 L250.3,212.0 L250.0,218.9 L249.8,225.8 L249.9,232.6 L250.4,239.5 L251.1,246.3 L252.4,253.0 L254.1,259.6 L256.0,266.0 L258.3,272.4 L260.7,278.8 L263.3,285.1 L265.8,291.4 L268.4,297.6 L271.1,303.9 L273.8,310.1 L276.5,316.4 L279.2,322.6 L282.0,328.8 L284.8,334.9 L287.6,341.0 L290.5,347.1 L293.4,353.2 L296.3,359.3 L299.2,365.3 L302.1,371.3 L305.1,377.3 L308.0,383.3 L310.9,389.3 L313.7,395.3 L316.5,401.3 L319.2,407.3 L322.0,413.3 L324.8,419.3 L332.7,415.7 L329.7,409.8 L326.7,404.0 L323.7,398.1 L320.7,392.2 L317.7,386.4 L314.7,380.5 L311.6,374.7 L308.5,368.8 L305.4,362.9 L302.3,357.1 L299.3,351.1 L296.2,345.2 L293.2,339.2 L290.2,333.2 L287.3,327.1 L284.4,321.0 L281.5,314.9 L278.7,308.8 L275.9,302.7 L273.1,296.5 L270.3,290.4 L267.6,284.2 L265.0,278.0 L262.4,271.7 L260.0,265.4 L257.9,259.1 L256.0,252.6 L254.6,245.9 L253.8,239.1 L253.2,232.3 L253.0,225.5 L253.1,218.7 L253.3,211.8 L253.6,205.0 L254.0,198.2 L254.5,191.4 L255.0,184.6 L255.5,177.8 L256.0,171.0Z" fill="rgb(179,50,48)" stroke="rgb(179,50,48)" stroke-width="0.6" />
<path d="M256.0,171.0 L255.5,177.8 L255.0,184.6 L254.5,191.4 L254.0,198.2 L253.6,205.0 L253.3,211.8 L253.1,218.7 L253.0,225.5 L253.2,232.3 L253.8,239.1 L254.6,245.9 L256.0,252.6 L257.9,259.1 L260.0,265.4 L262.4,271.7 L265.0,278.0 L267.6,284.2 L270.3,290.4 L273.1,296.5 L275.9,302.7 L278.7,308.8 L281.5,314.9 L284.4,321.0 L287.3,327.1 L290.2,333.2 L293.2,339.2 L296.2,345.2 L299.3,351.1 L302.3,357.1 L305.4,362.9 L308.5,368.8 L311.6,374.7 L314.7,380.5 L317.7,386.4 L320.7,392.2 L323.7,398.1 L326.7,404.0 L329.7,409.8 L332.7,415.7 L340.5,412.0 L337.3,406.3 L334.1,400.6 L331.0,394.9 L327.8,389.1 L324.6,383.4 L321.4,377.7 L318.2,372.0 L314.9,366.3 L311.6,360.6 L308.3,354.8 L305.1,349.0 L302.0,343.2 L298.8,337.3 L295.7,331.4 L292.6,325.5 L289.5,319.5 L286.5,313.5 L283.6,307.5 L280.6,301.5 L277.7,295.4 L274.8,289.3 L272.0,283.2 L269.2,277.1 L266.5,271.0 L263.9,264.8 L261.7,258.5 L259.7,252.1 L258.1,245.6 L257.2,238.8 L256.6,232.1 L256.2,225.3 L256.1,218.5 L256.2,211.7 L256.4,204.9 L256.7,198.1 L257.1,191.3 L257.5,184.5 L257.9,177.8 L258.2,171.0Z" fill="rgb(174,47,46)" stroke="rgb(174,47,46)" stroke-width="0.6" />
<path d="M258.2,171.0 L257.9,177.8 L257.5,184.5 L257.1,191.3 L256.7,198.1 L256.4,204.9 L256.2,211.7 L256.1,218.5 L256.2,225.3 L256.6,232.1 L257.2,238.8 L258.1,245.6 L259.7,252.1 L261.7,258.5 L263.9,264.8 L266.5,271.0 L269.2,277.1 L272.0,283.2 L274.8,289.3 L277.7,295.4 L280.6,301.5 L283.6,307.5 L286.5,313.5 L289.5,319.5 L292.6,325.5 L295.7,331.4 L298.8,337.3 L302.0,343.2 L305.1,349.0 L308.3,354.8 L311.6,360.6 L314.9,366.3 L318.2,372.0 L321.4,377.7 L324.6,383.4 L327.8,389.1 L331.0,394.9 L334.1,400.6 L337.3,406.3 L340.5,412.0 L348.3,408.3 L345.0,402.8 L341.6,397.2 L338.2,391.7 L334.9,386.1 L331.5,380.5 L328.1,374.9 L324.7,369.4 L321.2,363.8 L317.8,358.2 L314.4,352.6 L311.0,346.9 L307.7,341.2 L304.4,335.4 L301.1,329.7 L297.9,323.8 L294.7,318.0 L291.5,312.1 L288.5,306.2 L285.4,300.2 L282.3,294.3 L279.3,288.3 L276.4,282.3 L273.4,276.3 L270.6,270.3 L267.9,264.2 L265.5,258.0 L263.3,251.7 L261.6,245.2 L260.7,238.5 L259.9,231.8 L259.4,225.0 L259.2,218.3 L259.2,211.5 L259.3,204.7 L259.5,198.0 L259.7,191.2 L260.0,184.5 L260.2,177.7 L260.5,171.0Z" fill="rgb(170,44,43)" stroke="rgb(170,44,43)" stroke-width="0.6" />
<path d="M260.5,171.0 L260.2,177.7 L260.0,184.5 L259.7,191.2 L259.5,198.0 L259.3,204.7 L259.2,211.5 L259.2,218.3 L259.4,225.0 L259.9,231.8 L260.7,238.5 L261.6,245.2 L263.3,251.7 L265.5,258.0 L267.9,264.2 L270.6,270.3 L273.4,276.3 L276.4,282.3 L279.3,288.3 L282.3,294.3 L285.4,300.2 L288.5,306.2 L291.5,312.1 L294.7,318.0 L297.9,323.8 L301.1,329.7 L304.4,335.4 L307.7,341.2 L311.0,346.9 L314.4,352.6 L317.8,358.2 L321.2,363.8 L324.7,369.4 L328.1,374.9 L331.5,380.5 L334.9,386.1 L338.2,391.7 L341.6,397.2 L345.0,402.8 L348.3,408.3 L356.2,404.7 L352.6,399.3 L349.0,393.9 L345.5,388.4 L342.0,383.0 L338.4,377.5 L334.8,372.1 L331.2,366.7 L327.6,361.3 L324.0,355.8 L320.4,350.3 L316.9,344.8 L313.4,339.2 L309.9,333.6 L306.5,327.9 L303.1,322.2 L299.8,316.5 L296.6,310.7 L293.3,304.8 L290.1,299.0 L287.0,293.2 L283.8,287.3 L280.7,281.4 L277.7,275.5 L274.7,269.6 L271.9,263.6 L269.3,257.5 L267.0,251.2 L265.2,244.8 L264.1,238.2 L263.2,231.5 L262.6,224.8 L262.3,218.1 L262.2,211.3 L262.2,204.6 L262.2,197.9 L262.3,191.2 L262.5,184.4 L262.6,177.7 L262.8,171.0Z" fill="rgb(165,41,41)" stroke="rgb(165,41,41)" stroke-width="0.6" />
<path d="M262.8,171.0 L262.6,177.7 L262.5,184.4 L262.3,191.2 L262.2,197.9 L262.2,204.6 L262.2,211.3 L262.3,218.1 L262.6,224.8 L263.2,231.5 L264.1,238.2 L265.2,244.8 L267.0,251.2 L269.3,257.5 L271.9,263.6 L274.7,269.6 L277.7,275.5 L280.7,281.4 L283.8,287.3 L287.0,293.2 L290.1,299.0 L293.3,304.8 L296.6,310.7 L299.8,316.5 L303.1,322.2 L306.5,327.9 L309.9,333.6 L313.4,339.2 L316.9,344.8 L320.4,350.3 L324.0,355.8 L327.6,361.3 L331.2,366.7 L334.8,372.1 L338.4,377.5 L342.0,383.0 L345.5,388.4 L349.0,393.9 L352.6,399.3 L356.2,404.7 L364.0,401.0 L360.2,395.8 L356.5,390.5 L352.8,385.2 L349.1,379.9 L345.3,374.6 L341.6,369.3 L337.8,364.0 L334.0,358.8 L330.2,353.4 L326.4,348.1 L322.8,342.7 L319.1,337.2 L315.5,331.7 L311.9,326.2 L308.4,320.6 L305.0,314.9 L301.6,309.2 L298.2,303.5 L294.9,297.8 L291.6,292.0 L288.3,286.3 L285.1,280.5 L281.9,274.7 L278.8,268.8 L275.8,262.9 L273.1,256.9 L270.6,250.8 L268.7,244.4 L267.5,237.8 L266.5,231.2 L265.8,224.6 L265.4,217.9 L265.2,211.2 L265.0,204.5 L265.0,197.8 L264.9,191.1 L265.0,184.4 L265.0,177.7 L265.0,171.0Z" fill="rgb(162,39,39)" stroke="rgb(162,39,39)" stroke-width="0.6" />
<path d="M265.0,171.0 L265.0,177.7 L265.0,184.4 L264.9,191.1 L265.0,197.8 L265.0,204.5 L265.2,211.2 L265.4,217.9 L265.8,224.6 L266.5,231.2 L267.5,237.8 L268.7,244.4 L270.6,250.8 L273.1,256.9 L275.8,262.9 L278.8,268.8 L281.9,274.7 L285.1,280.5 L288.3,286.3 L291.6,292.0 L294.9,297.8 L298.2,303.5 L301.6,309.2 L305.0,314.9 L308.4,320.6 L311.9,326.2 L315.5,331.7 L319.1,337.2 L322.8,342.7 L326.4,348.1 L330.2,353.4 L334.0,358.8 L337.8,364.0 L341.6,369.3 L345.3,374.6 L349.1,379.9 L352.8,385.2 L356.5,390.5 L360.2,395.8 L364.0,401.0 L371.8,397.3 L367.9,392.2 L363.9,387.1 L360.0,382.0 L356.1,376.8 L352.2,371.7 L348.3,366.5 L344.3,361.4 L340.3,356.3 L336.4,351.1 L332.5,345.8 L328.6,340.5 L324.8,335.2 L321.1,329.8 L317.4,324.4 L313.7,318.9 L310.1,313.4 L306.6,307.8 L303.1,302.2 L299.7,296.6 L296.2,290.9 L292.8,285.3 L289.5,279.6 L286.1,273.9 L282.9,268.1 L279.8,262.3 L276.9,256.4 L274.3,250.4 L272.2,244.1 L270.9,237.5 L269.8,230.9 L268.9,224.3 L268.5,217.7 L268.1,211.0 L267.9,204.3 L267.7,197.7 L267.6,191.0 L267.5,184.3 L267.4,177.7 L267.2,171.0Z" fill="rgb(158,37,38)" stroke="rgb(158,37,38)" stroke-width="0.6" />
<path d="M267.2,171.0 L267.4,177.7 L267.5,184.3 L267.6,191.0 L267.7,197.7 L267.9,204.3 L268.1,211.0 L268.5,217.7 L268.9,224.3 L269.8,230.9 L270.9,237.5 L272.2,244.1 L274.3,250.4 L276.9,256.4 L279.8,262.3 L282.9,268.1 L286.1,273.9 L289.5,279.6 L292.8,285.3 L296.2,290.9 L299.7,296.6 L303.1,302.2 L306.6,307.8 L310.1,313.4 L313.7,318.9 L317.4,324.4 L321.1,329.8 L324.8,335.2 L328.6,340.5 L332.5,345.8 L336.4,351.1 L340.3,356.3 L344.3,361.4 L348.3,366.5 L352.2,371.7 L356.1,376.8 L360.0,382.0 L363.9,387.1 L367.9,392.2 L371.8,397.3 L379.7,393.7 L375.5,388.7 L371.4,383.8 L367.3,378.8 L363.2,373.7 L359.1,368.7 L355.0,363.7 L350.8,358.7 L346.7,353.7 L342.6,348.7 L338.5,343.6 L334.5,338.4 L330.6,333.2 L326.7,328.0 L322.8,322.6 L319.0,317.3 L315.3,311.9 L311.6,306.4 L308.0,300.9 L304.4,295.4 L300.9,289.8 L297.3,284.2 L293.8,278.7 L290.4,273.0 L287.0,267.4 L283.7,261.7 L280.7,255.9 L277.9,249.9 L275.7,243.7 L274.3,237.2 L273.1,230.6 L272.1,224.1 L271.6,217.4 L271.1,210.8 L270.7,204.2 L270.4,197.5 L270.2,190.9 L269.9,184.3 L269.7,177.6 L269.5,171.0Z" fill="rgb(154,35,36)" stroke="rgb(154,35,36)" stroke-width="0.6" />
<path d="M269.5,171.0 L269.7,177.6 L269.9,184.3 L270.2,190.9 L270.4,197.5 L270.7,204.2 L271.1,210.8 L271.6,217.4 L272.1,224.1 L273.1,230.6 L274.3,237.2 L275.7,243.7 L277.9,249.9 L280.7,255.9 L283.7,261.7 L287.0,267.4 L290.4,273.0 L293.8,278.7 L297.3,284.2 L300.9,289.8 L304.4,295.4 L308.0,300.9 L311.6,306.4 L315.3,311.9 L319.0,317.3 L322.8,322.6 L326.7,328.0 L330.6,333.2 L334.5,338.4 L338.5,343.6 L342.6,348.7 L346.7,353.7 L350.8,358.7 L355.0,363.7 L359.1,368.7 L363.2,373.7 L367.3,378.8 L371.4,383.8 L375.5,388.7 L379.7,393.7 L387.5,390.0 L383.2,385.2 L378.8,380.4 L374.6,375.5 L370.3,370.7 L366.0,365.8 L361.7,360.9 L357.4,356.1 L353.1,351.2 L348.8,346.3 L344.5,341.4 L340.4,336.3 L336.3,331.2 L332.2,326.1 L328.2,320.9 L324.3,315.6 L320.5,310.3 L316.7,305.0 L312.9,299.6 L309.2,294.1 L305.5,288.7 L301.8,283.2 L298.2,277.7 L294.6,272.2 L291.1,266.7 L287.7,261.1 L284.5,255.4 L281.6,249.5 L279.2,243.3 L277.8,236.8 L276.4,230.4 L275.3,223.8 L274.7,217.2 L274.1,210.6 L273.6,204.0 L273.2,197.4 L272.8,190.8 L272.4,184.2 L272.1,177.6 L271.8,171.0Z" fill="rgb(151,33,35)" stroke="rgb(151,33,35)" stroke-width="0.6" />
<path d="M271.8,171.0 L272.1,177.6 L272.4,184.2 L272.8,190.8 L273.2,197.4 L273.6,204.0 L274.1,210.6 L274.7,217.2 L275.3,223.8 L276.4,230.4 L277.8,236.8 L279.2,243.3 L281.6,249.5 L284.5,255.4 L287.7,261.1 L291.1,266.7 L294.6,272.2 L298.2,277.7 L301.8,283.2 L305.5,288.7 L309.2,294.1 L312.9,299.6 L316.7,305.0 L320.5,310.3 L324.3,315.6 L328.2,320.9 L332.2,326.1 L336.3,331.2 L340.4,336.3 L344.5,341.4 L348.8,346.3 L353.1,351.2 L357.4,356.1 L361.7,360.9 L366.0,365.8 L370.3,370.7 L374.6,375.5 L378.8,380.4 L383.2,385.2 L387.5,390.0 L395.3,386.3 L390.8,381.7 L386.3,377.0 L381.8,372.3 L377.4,367.6 L372.9,362.8 L368.4,358.1 L363.9,353.4 L359.4,348.7 L355.0,343.9 L350.6,339.1 L346.3,334.2 L342.0,329.2 L337.8,324.2 L333.7,319.1 L329.6,314.0 L325.6,308.8 L321.7,303.5 L317.8,298.2 L314.0,292.9 L310.1,287.6 L306.3,282.2 L302.6,276.8 L298.9,271.4 L295.2,266.0 L291.6,260.4 L288.3,254.8 L285.2,249.0 L282.7,242.9 L281.2,236.5 L279.7,230.1 L278.5,223.6 L277.7,217.0 L277.1,210.5 L276.5,203.9 L275.9,197.3 L275.4,190.7 L274.9,184.2 L274.5,177.6 L274.0,171.0Z" fill="rgb(147,31,33)" stroke="rgb(147,31,33)" stroke-width="0.6" />
<path d="M274.0,171.0 L274.5,177.6 L274.9,184.2 L275.4,190.7 L275.9,197.3 L276.5,203.9 L277.1,210.5 L277.7,217.0 L278.5,223.6 L279.7,230.1 L281.2,236.5 L282.7,242.9 L285.2,249.0 L288.3,254.8 L291.6,260.4 L295.2,266.0 L298.9,271.4 L302.6,276.8 L306.3,282.2 L310.1,287.6 L314.0,292.9 L317.8,298.2 L321.7,303.5 L325.6,308.8 L329.6,314.0 L333.7,319.1 L337.8,324.2 L342.0,329.2 L346.3,334.2 L350.6,339.1 L355.0,343.9 L359.4,348.7 L363.9,353.4 L368.4,358.1 L372.9,362.8 L377.4,367.6 L381.8,372.3 L386.3,377.0 L390.8,381.7 L395.3,386.3 L403.2,382.7 L398.4,378.2 L393.7,373.6 L389.1,369.1 L384.4,364.5 L379.8,359.9 L375.1,355.3 L370.4,350.8 L365.8,346.2 L361.2,341.6 L356.6,336.9 L352.1,332.1 L347.7,327.2 L343.4,322.4 L339.1,317.4 L334.9,312.4 L330.8,307.3 L326.7,302.1 L322.7,296.9 L318.7,291.7 L314.8,286.4 L310.8,281.2 L306.9,275.9 L303.1,270.6 L299.3,265.2 L295.6,259.8 L292.1,254.3 L288.8,248.6 L286.3,242.5 L284.6,236.2 L283.0,229.8 L281.7,223.3 L280.8,216.8 L280.0,210.3 L279.3,203.8 L278.7,197.2 L278.0,190.7 L277.4,184.1 L276.8,177.6 L276.2,171.0Z" fill="rgb(139,27,30)" stroke="rgb(139,27,30)" stroke-width="0.6" />
<path d="M276.2,171.0 L276.8,177.6 L277.4,184.1 L278.0,190.7 L278.7,197.2 L279.3,203.8 L280.0,210.3 L280.8,216.8 L281.7,223.3 L283.0,229.8 L284.6,236.2 L286.3,242.5 L288.8,248.6 L292.1,254.3 L295.6,259.8 L299.3,265.2 L303.1,270.6 L306.9,275.9 L310.8,281.2 L314.8,286.4 L318.7,291.7 L322.7,296.9 L326.7,302.1 L330.8,307.3 L334.9,312.4 L339.1,317.4 L343.4,322.4 L347.7,327.2 L352.1,332.1 L356.6,336.9 L361.2,341.6 L365.8,346.2 L370.4,350.8 L375.1,355.3 L379.8,359.9 L384.4,364.5 L389.1,369.1 L393.7,373.6 L398.4,378.2 L403.2,382.7 L411.0,379.0 L406.1,374.7 L401.2,370.3 L396.3,365.9 L391.5,361.4 L386.7,357.0 L381.8,352.6 L377.0,348.1 L372.1,343.7 L367.4,339.2 L362.6,334.6 L358.0,330.0 L353.5,325.3 L349.0,320.5 L344.5,315.6 L340.2,310.7 L335.9,305.7 L331.7,300.7 L327.6,295.6 L323.5,290.5 L319.4,285.3 L315.3,280.2 L311.3,275.0 L307.3,269.8 L303.4,264.5 L299.6,259.2 L295.9,253.8 L292.5,248.1 L289.8,242.2 L288.0,235.9 L286.3,229.5 L284.9,223.1 L283.9,216.6 L283.0,210.1 L282.2,203.6 L281.4,197.1 L280.7,190.6 L279.9,184.0 L279.2,177.5 L278.5,171.0Z" fill="rgb(132,22,26)" stroke="rgb(132,22,26)" stroke-width="0.6" />
</g>
<clipPath id="c2"><path d="M250.0,334.0 L250.2,332.5 L250.4,330.4 L250.6,327.9 L250.9,325.3 L251.4,322.6 L252.0,320.0 L252.8,317.5 L253.6,315.0 L254.7,312.4 L255.8,309.8 L257.1,307.3 L258.5,305.0 L260.1,302.8 L261.7,300.6 L263.5,298.5 L265.5,296.6 L267.6,294.7 L270.0,293.0 L272.6,291.4 L275.6,289.9 L278.7,288.5 L281.8,287.2 L285.0,286.2 L288.0,285.5 L290.9,285.1 L293.9,284.9 L296.8,284.9 L299.7,285.1 L302.4,285.5 L305.0,286.0 L307.4,286.7 L309.7,287.6 L311.9,288.7 L314.0,289.9 L316.1,291.2 L318.0,292.5 L319.9,293.9 L321.7,295.5 L323.4,297.1 L325.1,298.7 L326.6,300.2 L328.0,301.5 L329.3,302.6 L330.5,303.5 L331.6,304.3 L332.6,305.0 L333.4,305.6 L334.0,306.0 L335.9,305.7 L339.5,309.9 L343.0,313.9 L346.4,317.7 L349.7,321.3 L353.0,324.8 L356.5,328.4 L360.0,332.0 L363.8,335.8 L367.8,339.6 L371.9,343.5 L376.0,347.2 L380.0,350.9 L383.7,354.3 L387.1,357.3 L390.0,360.0 L392.4,362.2 L394.3,364.0 L396.0,365.5 L397.3,366.8 L398.5,367.8 L399.6,368.9 L400.8,369.9 L402.0,371.0 L403.3,372.2 L404.7,373.4 L406.0,374.6 L407.2,375.7 L408.4,376.7 L409.5,377.6 L410.3,378.4 L411.0,379.0 L411.0,379.0 L410.3,384.4 L409.5,392.2 L408.3,401.0 L406.9,409.9 L405.0,417.5 L402.6,423.9 L399.6,429.9 L396.4,435.4 L393.1,440.5 L390.0,445.0 L387.2,448.9 L384.5,452.1 L381.7,454.9 L378.6,457.5 L375.0,460.0 L370.6,462.6 L365.7,465.1 L360.5,467.4 L355.2,469.4 L350.0,471.0 L345.0,472.2 L340.0,473.0 L335.0,473.5 L330.0,473.7 L325.0,473.7 L320.0,473.5 L314.9,473.1 L309.8,472.4 L304.8,471.4 L300.0,470.0 L295.1,468.1 L290.1,465.6 L285.3,462.9 L281.0,460.1 L277.5,457.5 L274.9,454.8 L273.1,451.9 L271.7,449.1 L270.8,446.7 L270.0,445.0 L270.0,445.0 L269.4,441.9 L268.5,437.8 L267.5,432.8 L266.3,427.4 L265.1,421.6 L263.9,415.8 L262.7,410.2 L261.5,405.0 L260.4,400.2 L259.2,395.4 L258.0,390.6 L256.8,385.9 L255.6,381.2 L254.4,376.5 L253.2,371.7 L252.0,367.0 L250.8,362.2 L249.5,357.4 L248.2,352.6 L246.9,347.8 L245.7,343.0 L244.4,338.2Z"/></clipPath>
<g clip-path="url(#c2)">
<path d="M250.0,334.0 L250.2,332.5 L250.4,330.4 L250.6,327.9 L250.9,325.3 L251.4,322.6 L252.0,320.0 L252.8,317.5 L253.6,315.0 L254.7,312.4 L255.8,309.8 L257.1,307.3 L258.5,305.0 L260.1,302.8 L261.7,300.6 L263.5,298.5 L265.5,296.6 L267.6,294.7 L270.0,293.0 L272.6,291.4 L275.6,289.9 L278.7,288.5 L281.8,287.2 L285.0,286.2 L288.0,285.5 L290.9,285.1 L293.9,284.9 L296.8,284.9 L299.7,285.1 L302.4,285.5 L305.0,286.0 L307.4,286.7 L309.7,287.6 L311.9,288.7 L314.0,289.9 L316.1,291.2 L318.0,292.5 L319.9,293.9 L321.7,295.5 L323.4,297.1 L325.1,298.7 L326.6,300.2 L328.0,301.5 L329.3,302.6 L330.5,303.5 L331.6,304.3 L332.6,305.0 L333.4,305.6 L334.0,306.0 L335.9,305.7 L339.5,309.9 L343.0,313.9 L346.4,317.7 L349.7,321.3 L353.0,324.8 L356.5,328.4 L360.0,332.0 L363.8,335.8 L367.8,339.6 L371.9,343.5 L376.0,347.2 L380.0,350.9 L383.7,354.3 L387.1,357.3 L390.0,360.0 L392.4,362.2 L394.3,364.0 L396.0,365.5 L397.3,366.8 L398.5,367.8 L399.6,368.9 L400.8,369.9 L402.0,371.0 L403.3,372.2 L404.7,373.4 L406.0,374.6 L407.2,375.7 L408.4,376.7 L409.5,377.6 L410.3,378.4 L411.0,379.0 L411.0,379.0 L410.3,384.4 L409.5,392.2 L408.3,401.0 L406.9,409.9 L405.0,417.5 L402.6,423.9 L399.6,429.9 L396.4,435.4 L393.1,440.5 L390.0,445.0 L387.2,448.9 L384.5,452.1 L381.7,454.9 L378.6,457.5 L375.0,460.0 L370.6,462.6 L365.7,465.1 L360.5,467.4 L355.2,469.4 L350.0,471.0 L345.0,472.2 L340.0,473.0 L335.0,473.5 L330.0,473.7 L325.0,473.7 L320.0,473.5 L314.9,473.1 L309.8,472.4 L304.8,471.4 L300.0,470.0 L295.1,468.1 L290.1,465.6 L285.3,462.9 L281.0,460.1 L277.5,457.5 L274.9,454.8 L273.1,451.9 L271.7,449.1 L270.8,446.7 L270.0,445.0 L270.0,445.0 L269.4,441.9 L268.5,437.8 L267.5,432.8 L266.3,427.4 L265.1,421.6 L263.9,415.8 L262.7,410.2 L261.5,405.0 L260.4,400.2 L259.2,395.4 L258.0,390.6 L256.8,385.9 L255.6,381.2 L254.4,376.5 L253.2,371.7 L252.0,367.0 L250.8,362.2 L249.5,357.4 L248.2,352.6 L246.9,347.8 L245.7,343.0 L244.4,338.2Z" fill="#c96a58"/>
<g filter="url(#b1)">
<path d="M242.0,329.0 L243.3,333.9 L244.6,338.9 L245.9,343.8 L247.2,348.8 L248.5,353.7 L249.8,358.7 L251.1,363.6 L252.4,368.5 L253.7,373.5 L254.9,378.5 L256.2,383.4 L257.5,388.4 L258.7,393.3 L259.9,398.3 L261.1,403.3 L262.2,408.2 L263.3,413.2 L264.4,418.2 L265.5,423.2 L266.5,428.2 L267.5,433.2 L268.6,438.2 L269.6,443.3 L270.7,448.3 L271.8,453.3 L272.8,458.3 L273.9,463.3 L274.9,468.3 L276.0,473.3 L277.1,478.3 L278.1,483.3 L279.2,488.3 L280.3,493.3 L281.3,498.3 L282.4,503.3 L283.4,508.3 L284.5,513.3 L285.6,518.3 L286.6,523.3 L292.2,520.5 L291.0,515.6 L289.9,510.6 L288.7,505.7 L287.6,500.7 L286.5,495.8 L285.3,490.8 L284.2,485.9 L283.0,480.9 L281.9,476.0 L280.7,471.0 L279.6,466.1 L278.5,461.1 L277.3,456.2 L276.2,451.3 L275.0,446.3 L273.9,441.4 L272.8,436.4 L271.7,431.5 L270.5,426.5 L269.4,421.5 L268.3,416.6 L267.2,411.6 L266.0,406.7 L264.8,401.8 L263.5,396.8 L262.2,391.9 L260.9,387.0 L259.6,382.1 L258.3,377.2 L256.9,372.3 L255.6,367.4 L254.2,362.5 L252.9,357.6 L251.5,352.7 L250.2,347.8 L248.8,342.9 L247.4,338.0 L246.1,333.1 L244.7,328.2Z" fill="#a82a2a" stroke="#a82a2a" stroke-width="0.6" />
<path d="M244.7,328.2 L246.1,333.1 L247.4,338.0 L248.8,342.9 L250.2,347.8 L251.5,352.7 L252.9,357.6 L254.2,362.5 L255.6,367.4 L256.9,372.3 L258.3,377.2 L259.6,382.1 L260.9,387.0 L262.2,391.9 L263.5,396.8 L264.8,401.8 L266.0,406.7 L267.2,411.6 L268.3,416.6 L269.4,421.5 L270.5,426.5 L271.7,431.5 L272.8,436.4 L273.9,441.4 L275.0,446.3 L276.2,451.3 L277.3,456.2 L278.5,461.1 L279.6,466.1 L280.7,471.0 L281.9,476.0 L283.0,480.9 L284.2,485.9 L285.3,490.8 L286.5,495.8 L287.6,500.7 L288.7,505.7 L289.9,510.6 L291.0,515.6 L292.2,520.5 L301.4,516.0 L300.1,511.1 L298.8,506.2 L297.6,501.4 L296.3,496.5 L295.0,491.7 L293.7,486.8 L292.5,481.9 L291.2,477.1 L289.9,472.2 L288.7,467.4 L287.4,462.5 L286.1,457.6 L284.8,452.8 L283.6,447.9 L282.3,443.1 L281.0,438.2 L279.8,433.3 L278.5,428.5 L277.3,423.6 L276.0,418.7 L274.8,413.9 L273.5,409.0 L272.2,404.1 L270.9,399.3 L269.5,394.5 L268.1,389.6 L266.7,384.8 L265.2,380.0 L263.8,375.1 L262.3,370.3 L260.9,365.5 L259.4,360.6 L258.0,355.8 L256.5,351.0 L255.1,346.1 L253.6,341.3 L252.1,336.4 L250.7,331.6 L249.2,326.8Z" fill="#d98a80" stroke="#d98a80" stroke-width="0.6" />
<path d="M249.2,326.8 L250.7,331.6 L252.1,336.4 L253.6,341.3 L255.1,346.1 L256.5,351.0 L258.0,355.8 L259.4,360.6 L260.9,365.5 L262.3,370.3 L263.8,375.1 L265.2,380.0 L266.7,384.8 L268.1,389.6 L269.5,394.5 L270.9,399.3 L272.2,404.1 L273.5,409.0 L274.8,413.9 L276.0,418.7 L277.3,423.6 L278.5,428.5 L279.8,433.3 L281.0,438.2 L282.3,443.1 L283.6,447.9 L284.8,452.8 L286.1,457.6 L287.4,462.5 L288.7,467.4 L289.9,472.2 L291.2,477.1 L292.5,481.9 L293.7,486.8 L295.0,491.7 L296.3,496.5 L297.6,501.4 L298.8,506.2 L300.1,511.1 L301.4,516.0 L323.5,505.0 L321.9,500.4 L320.3,495.7 L318.7,491.1 L317.1,486.4 L315.5,481.8 L314.0,477.1 L312.4,472.5 L310.8,467.8 L309.2,463.2 L307.6,458.5 L306.1,453.9 L304.5,449.2 L302.9,444.6 L301.3,439.9 L299.7,435.3 L298.1,430.6 L296.6,426.0 L295.0,421.3 L293.4,416.6 L291.9,412.0 L290.3,407.3 L288.7,402.7 L287.1,398.0 L285.5,393.4 L283.8,388.7 L282.1,384.1 L280.4,379.4 L278.7,374.8 L277.0,370.2 L275.3,365.5 L273.6,360.9 L271.9,356.2 L270.2,351.5 L268.5,346.8 L266.8,342.2 L265.1,337.5 L263.4,332.8 L261.7,328.1 L260.0,323.4Z" fill="#c5443e" stroke="#c5443e" stroke-width="0.6" />
<path d="M260.0,323.4 L261.7,328.1 L263.4,332.8 L265.1,337.5 L266.8,342.2 L268.5,346.8 L270.2,351.5 L271.9,356.2 L273.6,360.9 L275.3,365.5 L277.0,370.2 L278.7,374.8 L280.4,379.4 L282.1,384.1 L283.8,388.7 L285.5,393.4 L287.1,398.0 L288.7,402.7 L290.3,407.3 L291.9,412.0 L293.4,416.6 L295.0,421.3 L296.6,426.0 L298.1,430.6 L299.7,435.3 L301.3,439.9 L302.9,444.6 L304.5,449.2 L306.1,453.9 L307.6,458.5 L309.2,463.2 L310.8,467.8 L312.4,472.5 L314.0,477.1 L315.5,481.8 L317.1,486.4 L318.7,491.1 L320.3,495.7 L321.9,500.4 L323.5,505.0 L332.7,500.5 L331.0,495.9 L329.2,491.3 L327.5,486.8 L325.8,482.2 L324.1,477.7 L322.4,473.1 L320.7,468.5 L319.0,464.0 L317.3,459.4 L315.5,454.8 L313.8,450.3 L312.1,445.7 L310.4,441.1 L308.7,436.6 L307.0,432.0 L305.3,427.5 L303.6,422.9 L301.9,418.3 L300.2,413.7 L298.5,409.2 L296.8,404.6 L295.1,400.0 L293.4,395.4 L291.6,390.9 L289.8,386.3 L288.0,381.8 L286.2,377.2 L284.3,372.7 L282.5,368.1 L280.7,363.5 L278.9,358.9 L277.1,354.3 L275.3,349.7 L273.5,345.1 L271.7,340.5 L269.9,335.9 L268.1,331.2 L266.3,326.6 L264.5,322.0Z" fill="#e8a55c" stroke="#e8a55c" stroke-width="0.6" />
<path d="M264.5,322.0 L266.3,326.6 L268.1,331.2 L269.9,335.9 L271.7,340.5 L273.5,345.1 L275.3,349.7 L277.1,354.3 L278.9,358.9 L280.7,363.5 L282.5,368.1 L284.3,372.7 L286.2,377.2 L288.0,381.8 L289.8,386.3 L291.6,390.9 L293.4,395.4 L295.1,400.0 L296.8,404.6 L298.5,409.2 L300.2,413.7 L301.9,418.3 L303.6,422.9 L305.3,427.5 L307.0,432.0 L308.7,436.6 L310.4,441.1 L312.1,445.7 L313.8,450.3 L315.5,454.8 L317.3,459.4 L319.0,464.0 L320.7,468.5 L322.4,473.1 L324.1,477.7 L325.8,482.2 L327.5,486.8 L329.2,491.3 L331.0,495.9 L332.7,500.5 L341.9,495.9 L340.0,491.4 L338.2,487.0 L336.3,482.5 L334.5,478.0 L332.7,473.5 L330.8,469.1 L329.0,464.6 L327.1,460.1 L325.3,455.6 L323.5,451.2 L321.6,446.7 L319.8,442.2 L317.9,437.7 L316.1,433.2 L314.2,428.8 L312.4,424.3 L310.6,419.8 L308.7,415.3 L306.9,410.9 L305.1,406.4 L303.3,401.9 L301.5,397.4 L299.6,392.9 L297.7,388.4 L295.8,383.9 L293.9,379.5 L291.9,375.0 L290.0,370.5 L288.0,366.0 L286.1,361.5 L284.1,357.0 L282.2,352.5 L280.3,348.0 L278.4,343.4 L276.6,338.8 L274.7,334.3 L272.8,329.7 L270.9,325.2 L269.0,320.6Z" fill="#d0584a" stroke="#d0584a" stroke-width="0.6" />
<path d="M269.0,320.6 L270.9,325.2 L272.8,329.7 L274.7,334.3 L276.6,338.8 L278.4,343.4 L280.3,348.0 L282.2,352.5 L284.1,357.0 L286.1,361.5 L288.0,366.0 L290.0,370.5 L291.9,375.0 L293.9,379.5 L295.8,383.9 L297.7,388.4 L299.6,392.9 L301.5,397.4 L303.3,401.9 L305.1,406.4 L306.9,410.9 L308.7,415.3 L310.6,419.8 L312.4,424.3 L314.2,428.8 L316.1,433.2 L317.9,437.7 L319.8,442.2 L321.6,446.7 L323.5,451.2 L325.3,455.6 L327.1,460.1 L329.0,464.6 L330.8,469.1 L332.7,473.5 L334.5,478.0 L336.3,482.5 L338.2,487.0 L340.0,491.4 L341.9,495.9 L422.9,455.8 L419.9,452.1 L416.9,448.4 L413.9,444.7 L411.0,441.0 L408.0,437.3 L405.0,433.6 L402.0,429.9 L399.0,426.2 L396.0,422.5 L393.0,418.7 L390.1,415.0 L387.1,411.3 L384.1,407.6 L381.1,403.9 L378.1,400.2 L375.1,396.5 L372.1,392.8 L369.1,389.1 L366.2,385.3 L363.2,381.6 L360.3,377.9 L357.3,374.1 L354.4,370.3 L351.4,366.6 L348.4,362.9 L345.4,359.1 L342.4,355.4 L339.4,351.6 L336.5,347.8 L333.6,344.0 L330.7,340.1 L327.9,336.2 L325.1,332.3 L322.3,328.3 L319.6,324.3 L316.8,320.3 L314.1,316.3 L311.3,312.3 L308.6,308.3Z" fill="#c96a58" stroke="#c96a58" stroke-width="0.6" />
<path d="M308.6,308.3 L311.3,312.3 L314.1,316.3 L316.8,320.3 L319.6,324.3 L322.3,328.3 L325.1,332.3 L327.9,336.2 L330.7,340.1 L333.6,344.0 L336.5,347.8 L339.4,351.6 L342.4,355.4 L345.4,359.1 L348.4,362.9 L351.4,366.6 L354.4,370.3 L357.3,374.1 L360.3,377.9 L363.2,381.6 L366.2,385.3 L369.1,389.1 L372.1,392.8 L375.1,396.5 L378.1,400.2 L381.1,403.9 L384.1,407.6 L387.1,411.3 L390.1,415.0 L393.0,418.7 L396.0,422.5 L399.0,426.2 L402.0,429.9 L405.0,433.6 L408.0,437.3 L411.0,441.0 L413.9,444.7 L416.9,448.4 L419.9,452.1 L422.9,455.8 L434.0,450.4 L430.8,446.8 L427.7,443.2 L424.5,439.6 L421.4,436.0 L418.2,432.3 L415.1,428.7 L412.0,425.1 L408.8,421.5 L405.7,417.9 L402.5,414.3 L399.4,410.7 L396.2,407.1 L393.1,403.5 L390.0,399.9 L386.8,396.3 L383.7,392.7 L380.5,389.1 L377.4,385.5 L374.3,381.9 L371.1,378.2 L368.1,374.6 L365.0,370.9 L361.9,367.3 L358.7,363.6 L355.6,360.0 L352.4,356.4 L349.3,352.7 L346.2,349.1 L343.1,345.4 L340.1,341.6 L337.1,337.8 L334.1,334.0 L331.2,330.1 L328.3,326.2 L325.4,322.3 L322.6,318.4 L319.7,314.5 L316.9,310.5 L314.0,306.6Z" fill="#b84a40" stroke="#b84a40" stroke-width="0.6" />
<path d="M314.0,306.6 L316.9,310.5 L319.7,314.5 L322.6,318.4 L325.4,322.3 L328.3,326.2 L331.2,330.1 L334.1,334.0 L337.1,337.8 L340.1,341.6 L343.1,345.4 L346.2,349.1 L349.3,352.7 L352.4,356.4 L355.6,360.0 L358.7,363.6 L361.9,367.3 L365.0,370.9 L368.1,374.6 L371.1,378.2 L374.3,381.9 L377.4,385.5 L380.5,389.1 L383.7,392.7 L386.8,396.3 L390.0,399.9 L393.1,403.5 L396.2,407.1 L399.4,410.7 L402.5,414.3 L405.7,417.9 L408.8,421.5 L412.0,425.1 L415.1,428.7 L418.2,432.3 L421.4,436.0 L424.5,439.6 L427.7,443.2 L430.8,446.8 L434.0,450.4 L441.3,446.7 L438.1,443.2 L434.8,439.7 L431.6,436.1 L428.3,432.6 L425.1,429.1 L421.8,425.5 L418.6,422.0 L415.4,418.4 L412.1,414.9 L408.9,411.4 L405.6,407.8 L402.4,404.3 L399.1,400.8 L395.9,397.2 L392.6,393.7 L389.4,390.2 L386.1,386.6 L382.9,383.1 L379.6,379.6 L376.4,376.0 L373.2,372.4 L370.0,368.8 L366.8,365.2 L363.6,361.7 L360.4,358.1 L357.1,354.5 L353.9,350.9 L350.7,347.3 L347.5,343.7 L344.4,340.0 L341.3,336.3 L338.3,332.5 L335.3,328.7 L332.3,324.9 L329.3,321.0 L326.4,317.1 L323.5,313.2 L320.5,309.4 L317.6,305.5Z" fill="#e8a060" stroke="#e8a060" stroke-width="0.6" />
<path d="M317.6,305.5 L320.5,309.4 L323.5,313.2 L326.4,317.1 L329.3,321.0 L332.3,324.9 L335.3,328.7 L338.3,332.5 L341.3,336.3 L344.4,340.0 L347.5,343.7 L350.7,347.3 L353.9,350.9 L357.1,354.5 L360.4,358.1 L363.6,361.7 L366.8,365.2 L370.0,368.8 L373.2,372.4 L376.4,376.0 L379.6,379.6 L382.9,383.1 L386.1,386.6 L389.4,390.2 L392.6,393.7 L395.9,397.2 L399.1,400.8 L402.4,404.3 L405.6,407.8 L408.9,411.4 L412.1,414.9 L415.4,418.4 L418.6,422.0 L421.8,425.5 L425.1,429.1 L428.3,432.6 L431.6,436.1 L434.8,439.7 L438.1,443.2 L441.3,446.7 L457.9,438.5 L454.4,435.1 L450.9,431.8 L447.5,428.4 L444.0,425.0 L440.5,421.6 L437.0,418.3 L433.5,414.9 L430.1,411.5 L426.6,408.1 L423.1,404.7 L419.6,401.4 L416.1,398.0 L412.6,394.6 L409.2,391.2 L405.7,387.9 L402.2,384.5 L398.7,381.1 L395.2,377.7 L391.8,374.3 L388.3,370.9 L384.9,367.5 L381.5,364.0 L378.0,360.6 L374.6,357.2 L371.1,353.8 L367.7,350.4 L364.2,346.9 L360.8,343.5 L357.4,340.0 L354.1,336.4 L350.8,332.8 L347.6,329.2 L344.4,325.5 L341.3,321.8 L338.1,318.0 L335.0,314.3 L331.9,310.5 L328.8,306.7 L325.7,303.0Z" fill="#e08a70" stroke="#e08a70" stroke-width="0.6" />
<path d="M325.7,303.0 L328.8,306.7 L331.9,310.5 L335.0,314.3 L338.1,318.0 L341.3,321.8 L344.4,325.5 L347.6,329.2 L350.8,332.8 L354.1,336.4 L357.4,340.0 L360.8,343.5 L364.2,346.9 L367.7,350.4 L371.1,353.8 L374.6,357.2 L378.0,360.6 L381.5,364.0 L384.9,367.5 L388.3,370.9 L391.8,374.3 L395.2,377.7 L398.7,381.1 L402.2,384.5 L405.7,387.9 L409.2,391.2 L412.6,394.6 L416.1,398.0 L419.6,401.4 L423.1,404.7 L426.6,408.1 L430.1,411.5 L433.5,414.9 L437.0,418.3 L440.5,421.6 L444.0,425.0 L447.5,428.4 L450.9,431.8 L454.4,435.1 L457.9,438.5 L470.8,432.1 L467.1,428.9 L463.5,425.6 L459.8,422.4 L456.1,419.1 L452.5,415.9 L448.8,412.6 L445.2,409.4 L441.5,406.1 L437.8,402.8 L434.2,399.6 L430.5,396.3 L426.8,393.1 L423.2,389.8 L419.5,386.6 L415.8,383.3 L412.2,380.1 L408.5,376.8 L404.9,373.5 L401.2,370.3 L397.6,367.0 L394.0,363.7 L390.4,360.3 L386.8,357.0 L383.1,353.7 L379.5,350.4 L375.9,347.1 L372.3,343.8 L368.7,340.5 L365.1,337.1 L361.7,333.6 L358.2,330.1 L354.9,326.6 L351.5,323.0 L348.2,319.4 L345.0,315.7 L341.7,312.0 L338.5,308.3 L335.3,304.7 L332.0,301.0Z" fill="#d9775c" stroke="#d9775c" stroke-width="0.6" />
<path d="M252.8,325.6 L254.3,330.4 L255.9,335.2 L257.4,340.0 L259.0,344.8 L260.5,349.6 L262.0,354.4 L263.6,359.2 L265.1,363.9 L266.6,368.7 L268.2,373.5 L269.7,378.3 L271.2,383.0 L272.8,387.8 L274.3,392.5 L275.7,397.3 L277.2,402.1 L278.6,406.9 L280.0,411.7 L281.3,416.5 L282.7,421.3 L284.0,426.1 L285.4,430.9 L286.7,435.7 L288.1,440.5 L289.5,445.2 L290.9,450.0 L292.2,454.8 L293.6,459.6 L295.0,464.4 L296.4,469.2 L297.7,474.0 L299.1,478.8 L300.5,483.6 L301.9,488.4 L303.2,493.2 L304.6,497.9 L306.0,502.7 L307.4,507.5 L308.7,512.3 L310.6,511.4 L309.2,506.6 L307.8,501.9 L306.4,497.1 L305.0,492.3 L303.6,487.5 L302.2,482.8 L300.8,478.0 L299.4,473.2 L298.0,468.4 L296.6,463.7 L295.2,458.9 L293.8,454.1 L292.4,449.4 L291.0,444.6 L289.6,439.8 L288.2,435.0 L286.8,430.3 L285.4,425.5 L284.0,420.7 L282.6,415.9 L281.3,411.1 L279.9,406.4 L278.4,401.6 L277.0,396.8 L275.5,392.1 L273.9,387.3 L272.4,382.6 L270.8,377.8 L269.3,373.1 L267.7,368.3 L266.2,363.6 L264.6,358.8 L263.1,354.0 L261.5,349.2 L259.9,344.5 L258.4,339.7 L256.8,334.9 L255.3,330.1 L253.7,325.4Z" fill="#e09a90" stroke="#e09a90" stroke-width="0.6" />
<path d="M266.3,321.4 L268.1,326.0 L270.0,330.6 L271.8,335.2 L273.6,339.8 L275.5,344.4 L277.3,349.0 L279.1,353.6 L281.0,358.2 L282.8,362.7 L284.7,367.3 L286.6,371.8 L288.5,376.3 L290.3,380.8 L292.2,385.4 L294.0,389.9 L295.9,394.4 L297.6,399.0 L299.4,403.5 L301.1,408.0 L302.9,412.6 L304.6,417.1 L306.4,421.7 L308.1,426.2 L309.9,430.7 L311.6,435.2 L313.4,439.8 L315.2,444.3 L316.9,448.8 L318.7,453.4 L320.5,457.9 L322.2,462.4 L324.0,467.0 L325.8,471.5 L327.5,476.0 L329.3,480.5 L331.1,485.1 L332.8,489.6 L334.6,494.1 L336.4,498.7 L338.2,497.7 L336.4,493.2 L334.6,488.7 L332.8,484.2 L331.0,479.7 L329.2,475.2 L327.5,470.7 L325.7,466.2 L323.9,461.6 L322.1,457.1 L320.3,452.6 L318.5,448.1 L316.7,443.6 L314.9,439.1 L313.1,434.6 L311.3,430.1 L309.5,425.6 L307.8,421.0 L306.0,416.5 L304.2,412.0 L302.5,407.5 L300.7,403.0 L298.9,398.4 L297.1,393.9 L295.3,389.4 L293.4,384.9 L291.5,380.4 L289.6,375.9 L287.7,371.4 L285.8,366.9 L283.9,362.3 L282.0,357.8 L280.2,353.2 L278.3,348.7 L276.5,344.1 L274.6,339.5 L272.8,334.9 L270.9,330.3 L269.1,325.7 L267.2,321.2Z" fill="#f0c8a0" stroke="#f0c8a0" stroke-width="0.6" />
</g>
<path d="M250.0,334.0 L250.2,332.5 L250.4,330.4 L250.6,327.9 L250.9,325.3 L251.4,322.6 L252.0,320.0 L252.8,317.5 L253.6,315.0 L254.7,312.4 L255.8,309.8 L257.1,307.3 L258.5,305.0 L260.1,302.8 L261.7,300.6 L263.5,298.5 L265.5,296.6 L267.6,294.7 L270.0,293.0 L272.6,291.4 L275.6,289.9 L278.7,288.5 L281.8,287.2 L285.0,286.2 L288.0,285.5 L290.9,285.1 L293.9,284.9 L296.8,284.9 L299.7,285.1 L302.4,285.5 L305.0,286.0 L307.4,286.7 L309.7,287.6 L311.9,288.7 L314.0,289.9 L316.1,291.2 L318.0,292.5 L319.9,293.9 L321.7,295.5 L323.4,297.1 L325.1,298.7 L326.6,300.2 L328.0,301.5 L329.3,302.6 L330.5,303.5 L331.6,304.3 L332.6,305.0 L333.4,305.6 L334.0,306.0 L336.0,318.0 L335.0,317.9 L333.6,317.8 L331.9,317.6 L330.0,317.1 L328.0,316.0 L325.8,314.1 L323.4,311.5 L320.7,308.7 L317.9,306.0 L315.0,304.0 L311.8,302.6 L308.3,301.5 L304.8,300.7 L301.3,300.2 L298.0,300.0 L295.0,300.1 L292.1,300.4 L289.3,301.0 L286.6,301.9 L284.0,303.0 L281.3,304.3 L278.7,305.9 L276.1,307.8 L273.9,309.8 L272.0,312.0 L270.6,314.5 L269.6,317.2 L268.9,320.2 L268.4,323.1 L268.0,326.0 L267.9,328.9 L268.2,331.9 L268.6,334.9 L269.0,337.6 L269.0,340.0 L268.7,342.0 L268.3,343.7 L267.7,345.2 L266.9,346.3 L266.0,347.0 L264.7,347.1 L263.2,346.8 L261.5,346.1 L260.0,345.4 L259.0,345.0Z" fill="#81191d"/>
<path d="M250.0,334.0 L250.2,332.5 L250.4,330.4 L250.6,327.9 L250.9,325.3 L251.4,322.6 L252.0,320.0 L252.8,317.5 L253.6,315.0 L254.7,312.4 L255.8,309.8 L257.1,307.3 L258.5,305.0 L260.1,302.8 L261.7,300.6 L263.5,298.5 L265.5,296.6 L267.6,294.7 L270.0,293.0 L272.6,291.4 L275.6,289.9 L278.7,288.5 L281.8,287.2 L285.0,286.2 L288.0,285.5 L290.9,285.1 L293.9,284.9 L296.8,284.9 L299.7,285.1 L302.4,285.5 L305.0,286.0 L307.4,286.7 L309.7,287.6 L311.9,288.7 L314.0,289.9 L316.1,291.2 L318.0,292.5 L319.9,293.9 L321.7,295.5 L323.4,297.1 L325.1,298.7 L326.6,300.2 L328.0,301.5 L329.3,302.6 L330.5,303.5 L331.6,304.3 L332.6,305.0 L333.4,305.6 L334.0,306.0" fill="none" stroke="#6a1216" stroke-width="3" opacity="0.6" transform="translate(2.42,7.04)" filter="url(#b1)"/>
<path d="M411.0,379.0 L410.3,384.4 L409.7,389.7 L409.1,395.1 L408.4,400.4 L407.6,405.8 L406.6,411.1 L405.3,416.3 L403.5,421.4 L401.4,426.3 L398.9,431.1 L396.2,435.8 L393.3,440.3 L390.2,444.7 L387.0,449.1 L383.4,453.1 L379.5,456.8 L375.1,459.9 L370.5,462.7 L365.6,465.1 L360.7,467.3 L355.7,469.2 L350.5,470.8 L345.3,472.1 L340.0,473.0 L334.6,473.5 L329.2,473.7 L323.8,473.7 L318.4,473.4 L313.0,472.9 L307.7,472.0 L302.5,470.7 L297.4,469.0 L292.5,466.8 L287.7,464.3 L283.1,461.5 L278.7,458.4 L274.8,454.6 L272.1,449.9 L270.0,445.0 L270.0,445.0 L272.5,448.8 L275.5,452.3 L279.5,455.1 L284.0,457.4 L288.6,459.3 L293.4,461.0 L298.4,462.8 L303.5,464.6 L308.6,466.2 L313.8,467.4 L319.0,468.4 L324.2,469.1 L329.5,469.6 L334.8,469.9 L340.0,469.9 L345.3,469.6 L350.5,468.8 L355.7,467.7 L360.8,466.2 L365.7,464.1 L370.5,461.5 L374.9,458.5 L378.9,455.1 L382.5,451.2 L385.7,446.9 L388.6,442.4 L391.3,437.8 L393.8,433.1 L396.0,428.3 L398.0,423.4 L399.8,418.4 L401.4,413.2 L402.7,408.0 L404.1,402.9 L405.6,398.0 L406.9,393.2 L408.3,388.5 L409.6,383.7 L411.0,379.0Z" fill="#b0402f" stroke="#b0402f" stroke-width="0.5"/>
<path d="M411.0,379.0 L409.6,383.7 L408.3,388.5 L406.9,393.2 L405.6,398.0 L404.1,402.9 L402.7,408.0 L401.4,413.2 L399.8,418.4 L398.0,423.4 L396.0,428.3 L393.8,433.1 L391.3,437.8 L388.6,442.4 L385.7,446.9 L382.5,451.2 L378.9,455.1 L374.9,458.5 L370.5,461.5 L365.7,464.1 L360.8,466.2 L355.7,467.7 L350.5,468.8 L345.3,469.6 L340.0,469.9 L334.8,469.9 L329.5,469.6 L324.2,469.1 L319.0,468.4 L313.8,467.4 L308.6,466.2 L303.5,464.6 L298.4,462.8 L293.4,461.0 L288.6,459.3 L284.0,457.4 L279.5,455.1 L275.5,452.3 L272.5,448.8 L270.0,445.0 L270.0,445.0 L273.2,446.8 L276.7,448.5 L281.0,449.7 L285.5,450.5 L290.2,451.0 L295.0,451.4 L300.1,452.4 L305.2,454.3 L310.1,456.5 L314.9,458.4 L319.9,460.1 L325.0,461.5 L330.0,462.8 L335.1,463.9 L340.2,464.8 L345.3,465.3 L350.5,465.5 L355.6,465.3 L360.9,464.4 L365.9,462.5 L370.5,459.6 L374.6,456.1 L378.0,452.2 L381.0,447.9 L383.6,443.3 L385.9,438.5 L388.0,433.6 L389.7,428.7 L391.2,423.7 L392.4,418.6 L393.6,413.4 L394.8,408.2 L396.2,402.9 L398.3,398.2 L400.9,394.0 L403.4,390.1 L405.9,386.4 L408.4,382.7 L411.0,379.0Z" fill="#962a28" stroke="#962a28" stroke-width="0.5"/>
<path d="M411.0,379.0 L408.4,382.7 L405.9,386.4 L403.4,390.1 L400.9,394.0 L398.3,398.2 L396.2,402.9 L394.8,408.2 L393.6,413.4 L392.4,418.6 L391.2,423.7 L389.7,428.7 L388.0,433.6 L385.9,438.5 L383.6,443.3 L381.0,447.9 L378.0,452.2 L374.6,456.1 L370.5,459.6 L365.9,462.5 L360.9,464.4 L355.6,465.3 L350.5,465.5 L345.3,465.3 L340.2,464.8 L335.1,463.9 L330.0,462.8 L325.0,461.5 L319.9,460.1 L314.9,458.4 L310.1,456.5 L305.2,454.3 L300.1,452.4 L295.0,451.4 L290.2,451.0 L285.5,450.5 L281.0,449.7 L276.7,448.5 L273.2,446.8 L270.0,445.0 L270.0,445.0 L274.0,444.5 L278.1,444.0 L282.7,443.2 L287.4,442.2 L292.0,441.0 L296.9,439.9 L302.1,440.0 L307.2,442.1 L311.8,444.8 L316.4,447.6 L321.1,450.1 L325.9,452.4 L330.7,454.6 L335.5,456.7 L340.4,458.7 L345.4,460.3 L350.5,461.6 L355.6,462.4 L361.0,462.2 L366.1,460.4 L370.6,457.3 L374.2,453.3 L377.0,448.7 L379.2,443.9 L381.1,438.9 L382.7,433.8 L384.0,428.6 L384.9,423.4 L385.4,418.1 L385.7,412.8 L386.2,407.4 L387.0,402.1 L388.5,396.8 L391.4,392.5 L395.2,389.2 L399.1,386.4 L403.0,383.9 L407.0,381.5 L411.0,379.0Z" fill="#a83c38" stroke="#a83c38" stroke-width="0.5"/>
<path d="M411.0,379.0 L407.0,381.5 L403.0,383.9 L399.1,386.4 L395.2,389.2 L391.4,392.5 L388.5,396.8 L387.0,402.1 L386.2,407.4 L385.7,412.8 L385.4,418.1 L384.9,423.4 L384.0,428.6 L382.7,433.8 L381.1,438.9 L379.2,443.9 L377.0,448.7 L374.2,453.3 L370.6,457.3 L366.1,460.4 L361.0,462.2 L355.6,462.4 L350.5,461.6 L345.4,460.3 L340.4,458.7 L335.5,456.7 L330.7,454.6 L325.9,452.4 L321.1,450.1 L316.4,447.6 L311.8,444.8 L307.2,442.1 L302.1,440.0 L296.9,439.9 L292.0,441.0 L287.4,442.2 L282.7,443.2 L278.1,444.0 L274.0,444.5 L270.0,445.0 L270.0,445.0 L274.8,442.2 L279.6,439.4 L284.4,436.7 L289.2,434.0 L293.9,431.0 L298.7,428.3 L304.2,427.6 L309.2,429.8 L313.6,433.2 L317.8,436.8 L322.2,440.1 L326.8,443.3 L331.3,446.4 L335.9,449.5 L340.6,452.5 L345.4,455.2 L350.4,457.6 L355.6,459.5 L361.1,460.1 L366.4,458.4 L370.6,455.0 L373.8,450.4 L375.9,445.3 L377.4,440.0 L378.6,434.6 L379.5,429.1 L380.0,423.6 L380.0,418.1 L379.6,412.5 L379.0,407.0 L378.8,401.5 L379.1,396.0 L380.7,390.7 L384.5,386.8 L389.5,384.4 L394.8,382.7 L400.2,381.4 L405.6,380.3 L411.0,379.0Z" fill="#8c2428" stroke="#8c2428" stroke-width="0.5"/>
</g>
<g clip-path="url(#c2)"><path d="M274.8,441.0 L273.9,436.9 L273.1,432.9 L272.3,428.9 L271.4,424.9 L270.6,420.8 L269.7,416.8 L268.8,412.8 L267.9,408.8 L267.0,404.7 L266.1,400.7 L265.1,396.7 L264.2,392.7 L263.2,388.7 L262.2,384.8 L261.1,380.8 L260.1,376.8 L259.1,372.8 L258.1,368.8 L257.0,364.8 L256.0,360.8 L255.0,356.9 L253.9,352.9 L252.9,348.9 L251.8,344.9 L250.8,340.9 L250.0,334.0 L250.2,332.5 L250.4,330.4 L250.6,327.9 L250.9,325.3 L251.4,322.6 L252.0,320.0 L252.8,317.5 L253.6,315.0 L254.7,312.4 L255.8,309.8 L257.1,307.3 L258.5,305.0 L260.1,302.8 L261.7,300.6 L263.5,298.5 L265.5,296.6 L267.6,294.7 L270.0,293.0 L272.6,291.4 L275.6,289.9 L278.7,288.5 L281.8,287.2 L285.0,286.2 L288.0,285.5 L290.9,285.1 L293.9,284.9 L296.8,284.9 L299.7,285.1 L302.4,285.5 L305.0,286.0 L307.4,286.7 L309.7,287.6 L311.9,288.7 L314.0,289.9 L316.1,291.2 L318.0,292.5 L319.9,293.9 L321.7,295.5 L323.4,297.1 L325.1,298.7 L326.6,300.2 L328.0,301.5 L329.3,302.6 L330.5,303.5 L331.6,304.3 L332.6,305.0 L333.4,305.6 L334.0,306.0 L335.6,307.2" fill="none" stroke="#cf6560" stroke-width="6.4" transform="translate(1.1,3.2)"/></g>
</g>
<path d="M410.4,224.0 L409.7,228.4 L409.0,232.8 L408.4,237.2 L407.9,241.5 L407.4,245.8 L407.0,250.0 L406.7,254.2 L406.4,258.3 L406.2,262.4 L406.0,266.4 L405.9,270.4 L405.9,274.4 L405.9,278.2 L406.0,282.0 L406.1,285.6 L406.3,289.1 L406.6,292.5 L406.9,295.8 L407.3,299.2 L407.7,302.6 L408.3,306.2 L409.0,310.0 L409.9,314.1 L410.9,318.6 L412.0,323.2 L413.3,327.9 L414.5,332.6 L415.8,337.1 L417.0,341.2 L418.0,345.0 L418.9,348.3 L419.8,351.4 L420.7,354.3 L421.5,356.9 L422.3,359.3 L423.1,361.6 L423.8,363.9 L424.5,366.0 L425.1,367.9 L425.6,369.3 L426.0,370.5 L426.5,371.6 L426.9,372.8 L427.5,374.3 L428.1,376.3 L429.0,379.0 L430.1,382.3 L431.3,386.0 L432.6,390.1 L434.0,394.5 L435.5,399.2 L437.0,404.3 L438.5,409.5 L440.0,415.0 L441.5,420.8 L443.1,427.2 L444.6,433.9 L446.3,440.8 L447.9,447.8 L449.5,454.7 L451.0,461.5 L452.5,468.0 L454.0,474.5 L455.6,481.4 L457.2,488.3 L458.7,495.1 L460.2,501.5 L461.5,507.2 L462.6,512.0 L463.4,515.6 L638.4,434.4 L637.2,433.3 L635.6,431.9 L633.7,430.2 L631.6,428.3 L629.3,426.2 L626.9,423.9 L624.4,421.5 L622.0,419.0 L619.5,416.3 L616.7,413.2 L613.8,409.9 L610.9,406.5 L607.9,403.1 L605.1,399.8 L602.4,396.7 L600.0,394.0 L597.9,391.7 L596.2,389.7 L594.7,387.9 L593.2,386.2 L591.7,384.6 L590.0,382.8 L588.1,380.8 L585.7,378.5 L582.8,375.8 L579.4,372.8 L575.7,369.6 L571.9,366.2 L568.0,362.9 L564.3,359.7 L560.9,356.7 L558.0,354.0 L555.5,351.7 L553.3,349.6 L551.4,347.7 L549.6,346.0 L548.0,344.3 L546.4,342.6 L544.7,340.9 L543.0,339.0 L541.2,337.0 L539.4,334.9 L537.6,332.8 L535.8,330.7 L534.1,328.6 L532.4,326.5 L530.7,324.5 L529.0,322.5 L527.4,320.6 L525.7,318.7 L524.1,316.9 L522.5,315.1 L521.0,313.3 L519.4,311.5 L518.0,309.8 L516.5,308.0 L515.1,306.2 L513.7,304.5 L512.4,302.8 L511.0,301.0 L509.7,299.3 L508.5,297.6 L507.2,295.8 L506.0,294.0 L504.8,292.2 L503.6,290.5 L502.5,288.7 L501.4,286.9 L500.3,285.1 L499.2,283.2 L498.1,281.2 L497.0,279.0 L495.9,276.6 L494.8,274.1 L493.6,271.4 L492.5,268.7 L491.4,265.9 L490.2,263.2 L489.1,260.5 L488.0,258.0 L486.8,255.7 L485.7,253.6 L484.4,251.6 L483.2,249.6 L482.1,247.5 L481.0,245.3 L479.9,242.8 L479.0,240.0 L478.2,236.8 L477.4,233.4 L476.7,229.7 L476.1,225.9 L475.6,221.9 L475.0,217.9Z" fill="#b9a3a3" opacity="0.35" filter="url(#b8)" transform="translate(14,6)" mask="url(#fade3)"/>
<g id="a3" mask="url(#fade3)">
<path d="M421.0,178.0 L420.3,180.9 L419.3,184.7 L418.1,189.3 L416.8,194.3 L415.5,199.6 L414.2,205.0 L413.0,210.2 L412.0,215.0 L411.2,219.5 L410.4,224.0 L409.7,228.4 L409.0,232.8 L408.4,237.2 L407.9,241.5 L407.4,245.8 L407.0,250.0 L406.7,254.2 L406.4,258.3 L406.2,262.4 L406.0,266.4 L405.9,270.4 L405.9,274.4 L405.9,278.2 L406.0,282.0 L406.1,285.6 L406.3,289.1 L406.6,292.5 L406.9,295.8 L407.3,299.2 L407.7,302.6 L408.3,306.2 L409.0,310.0 L409.9,314.1 L410.9,318.6 L412.0,323.2 L413.3,327.9 L414.5,332.6 L415.8,337.1 L417.0,341.2 L418.0,345.0 L418.9,348.3 L419.8,351.4 L420.7,354.3 L421.5,356.9 L422.3,359.3 L423.1,361.6 L423.8,363.9 L424.5,366.0 L425.1,367.9 L425.6,369.3 L426.0,370.5 L426.5,371.6 L426.9,372.8 L427.5,374.3 L428.1,376.3 L429.0,379.0 L430.1,382.3 L431.3,386.0 L432.6,390.1 L434.0,394.5 L435.5,399.2 L437.0,404.3 L438.5,409.5 L440.0,415.0 L441.5,420.8 L443.1,427.2 L444.6,433.9 L446.3,440.8 L447.9,447.8 L449.5,454.7 L451.0,461.5 L452.5,468.0 L454.0,474.5 L455.6,481.4 L457.2,488.3 L458.7,495.1 L460.2,501.5 L461.5,507.2 L462.6,512.0 L463.4,515.6 L638.4,434.4 L637.2,433.3 L635.6,431.9 L633.7,430.2 L631.6,428.3 L629.3,426.2 L626.9,423.9 L624.4,421.5 L622.0,419.0 L619.5,416.3 L616.7,413.2 L613.8,409.9 L610.9,406.5 L607.9,403.1 L605.1,399.8 L602.4,396.7 L600.0,394.0 L597.9,391.7 L596.2,389.7 L594.7,387.9 L593.2,386.2 L591.7,384.6 L590.0,382.8 L588.1,380.8 L585.7,378.5 L582.8,375.8 L579.4,372.8 L575.7,369.6 L571.9,366.2 L568.0,362.9 L564.3,359.7 L560.9,356.7 L558.0,354.0 L555.5,351.7 L553.3,349.6 L551.4,347.7 L549.6,346.0 L548.0,344.3 L546.4,342.6 L544.7,340.9 L543.0,339.0 L541.2,337.0 L539.4,334.9 L537.6,332.8 L535.8,330.7 L534.1,328.6 L532.4,326.5 L530.7,324.5 L529.0,322.5 L527.4,320.6 L525.7,318.7 L524.1,316.9 L522.5,315.1 L521.0,313.3 L519.4,311.5 L518.0,309.8 L516.5,308.0 L515.1,306.2 L513.7,304.5 L512.4,302.8 L511.0,301.0 L509.7,299.3 L508.5,297.6 L507.2,295.8 L506.0,294.0 L504.8,292.2 L503.6,290.5 L502.5,288.7 L501.4,286.9 L500.3,285.1 L499.2,283.2 L498.1,281.2 L497.0,279.0 L495.9,276.6 L494.8,274.1 L493.6,271.4 L492.5,268.7 L491.4,265.9 L490.2,263.2 L489.1,260.5 L488.0,258.0 L486.8,255.7 L485.7,253.6 L484.4,251.6 L483.2,249.6 L482.1,247.5 L481.0,245.3 L479.9,242.8 L479.0,240.0 L478.2,236.8 L477.4,233.4 L476.7,229.7 L476.1,225.9 L475.6,221.9 L475.0,217.9 L474.5,213.9 L474.0,210.0 L473.5,205.9 L473.0,201.4 L472.6,196.7 L472.2,192.1 L471.8,187.7 L471.5,183.8 L471.2,180.5 L471.0,178.0Z" fill="#9a2226"/>
<g filter="url(#b1)">
<path d="M421.0,178.0 L418.8,186.6 L416.6,195.2 L414.5,203.8 L412.5,212.5 L410.9,221.2 L409.4,230.0 L408.2,238.8 L407.2,247.6 L406.5,256.5 L406.0,265.4 L405.9,274.2 L406.0,283.1 L406.5,292.0 L407.5,300.8 L408.9,309.6 L410.8,318.3 L413.0,326.9 L415.3,335.5 L417.7,344.0 L420.2,352.6 L422.9,361.0 L425.7,369.5 L428.6,377.8 L431.4,386.3 L434.1,394.7 L436.7,403.2 L439.1,411.8 L441.4,420.4 L443.5,429.0 L445.5,437.7 L447.5,446.3 L449.5,455.0 L451.5,463.6 L453.5,472.3 L455.5,481.0 L457.5,489.6 L459.5,498.3 L461.4,506.9 L463.4,515.6 L473.1,511.1 L470.9,502.6 L468.7,494.1 L466.5,485.6 L464.4,477.1 L462.2,468.6 L460.0,460.1 L457.8,451.5 L455.7,443.0 L453.5,434.5 L451.2,426.0 L448.9,417.6 L446.4,409.2 L443.8,400.8 L441.0,392.5 L438.1,384.2 L435.2,375.9 L432.1,367.6 L429.1,359.3 L426.3,351.0 L423.7,342.6 L421.2,334.2 L418.7,325.7 L416.3,317.2 L414.3,308.7 L412.7,300.0 L411.6,291.3 L410.9,282.5 L410.6,273.7 L410.6,264.9 L410.8,256.1 L411.3,247.3 L412.1,238.6 L413.1,229.8 L414.4,221.1 L415.9,212.4 L417.7,203.8 L419.7,195.2 L421.7,186.6 L423.8,178.0Z" fill="rgb(155,30,36)" stroke="rgb(155,30,36)" stroke-width="0.6" />
<path d="M423.8,178.0 L421.7,186.6 L419.7,195.2 L417.7,203.8 L415.9,212.4 L414.4,221.1 L413.1,229.8 L412.1,238.6 L411.3,247.3 L410.8,256.1 L410.6,264.9 L410.6,273.7 L410.9,282.5 L411.6,291.3 L412.7,300.0 L414.3,308.7 L416.3,317.2 L418.7,325.7 L421.2,334.2 L423.7,342.6 L426.3,351.0 L429.1,359.3 L432.1,367.6 L435.2,375.9 L438.1,384.2 L441.0,392.5 L443.8,400.8 L446.4,409.2 L448.9,417.6 L451.2,426.0 L453.5,434.5 L455.7,443.0 L457.8,451.5 L460.0,460.1 L462.2,468.6 L464.4,477.1 L466.5,485.6 L468.7,494.1 L470.9,502.6 L473.1,511.1 L482.8,506.6 L480.4,498.3 L478.0,490.0 L475.6,481.6 L473.2,473.2 L470.9,464.9 L468.5,456.5 L466.2,448.1 L463.8,439.7 L461.4,431.4 L458.9,423.1 L456.4,414.8 L453.7,406.6 L450.9,398.4 L447.9,390.2 L444.8,382.1 L441.7,373.9 L438.5,365.8 L435.4,357.7 L432.5,349.4 L429.7,341.2 L427.0,332.9 L424.3,324.6 L421.8,316.2 L419.6,307.7 L417.9,299.2 L416.6,290.5 L415.8,281.8 L415.3,273.1 L415.1,264.4 L415.0,255.7 L415.3,247.0 L415.9,238.3 L416.8,229.6 L418.0,220.9 L419.4,212.3 L421.0,203.7 L422.8,195.1 L424.7,186.5 L426.6,178.0Z" fill="rgb(178,52,54)" stroke="rgb(178,52,54)" stroke-width="0.6" />
<path d="M426.6,178.0 L424.7,186.5 L422.8,195.1 L421.0,203.7 L419.4,212.3 L418.0,220.9 L416.8,229.6 L415.9,238.3 L415.3,247.0 L415.0,255.7 L415.1,264.4 L415.3,273.1 L415.8,281.8 L416.6,290.5 L417.9,299.2 L419.6,307.7 L421.8,316.2 L424.3,324.6 L427.0,332.9 L429.7,341.2 L432.5,349.4 L435.4,357.7 L438.5,365.8 L441.7,373.9 L444.8,382.1 L447.9,390.2 L450.9,398.4 L453.7,406.6 L456.4,414.8 L458.9,423.1 L461.4,431.4 L463.8,439.7 L466.2,448.1 L468.5,456.5 L470.9,464.9 L473.2,473.2 L475.6,481.6 L478.0,490.0 L480.4,498.3 L482.8,506.6 L492.6,502.1 L489.9,493.9 L487.3,485.8 L484.7,477.6 L482.1,469.4 L479.6,461.2 L477.0,452.9 L474.5,444.7 L471.9,436.5 L469.4,428.2 L466.7,420.1 L463.9,412.0 L461.0,404.0 L457.9,396.0 L454.8,388.0 L451.5,380.0 L448.3,372.0 L444.9,364.0 L441.7,356.0 L438.6,347.9 L435.7,339.7 L432.8,331.6 L430.0,323.4 L427.3,315.1 L425.0,306.8 L423.1,298.4 L421.6,289.8 L420.6,281.2 L420.0,272.5 L419.6,263.9 L419.3,255.3 L419.3,246.7 L419.8,238.1 L420.6,229.4 L421.6,220.8 L422.8,212.1 L424.2,203.6 L425.9,195.0 L427.6,186.5 L429.3,178.0Z" fill="rgb(192,75,74)" stroke="rgb(192,75,74)" stroke-width="0.6" />
<path d="M429.3,178.0 L427.6,186.5 L425.9,195.0 L424.2,203.6 L422.8,212.1 L421.6,220.8 L420.6,229.4 L419.8,238.1 L419.3,246.7 L419.3,255.3 L419.6,263.9 L420.0,272.5 L420.6,281.2 L421.6,289.8 L423.1,298.4 L425.0,306.8 L427.3,315.1 L430.0,323.4 L432.8,331.6 L435.7,339.7 L438.6,347.9 L441.7,356.0 L444.9,364.0 L448.3,372.0 L451.5,380.0 L454.8,388.0 L457.9,396.0 L461.0,404.0 L463.9,412.0 L466.7,420.1 L469.4,428.2 L471.9,436.5 L474.5,444.7 L477.0,452.9 L479.6,461.2 L482.1,469.4 L484.7,477.6 L487.3,485.8 L489.9,493.9 L492.6,502.1 L502.3,497.6 L499.4,489.6 L496.6,481.6 L493.8,473.6 L491.0,465.5 L488.3,457.4 L485.5,449.4 L482.8,441.3 L480.1,433.2 L477.3,425.1 L474.4,417.1 L471.4,409.2 L468.3,401.4 L465.0,393.5 L461.7,385.7 L458.2,377.9 L454.8,370.1 L451.3,362.2 L448.0,354.3 L444.7,346.3 L441.6,338.3 L438.6,330.3 L435.6,322.2 L432.8,314.1 L430.3,305.9 L428.2,297.5 L426.6,289.1 L425.5,280.5 L424.7,272.0 L424.1,263.4 L423.6,254.9 L423.3,246.4 L423.6,237.8 L424.3,229.2 L425.1,220.6 L426.2,212.0 L427.5,203.5 L429.0,195.0 L430.5,186.5 L432.1,178.0Z" fill="rgb(207,98,93)" stroke="rgb(207,98,93)" stroke-width="0.6" />
<path d="M432.1,178.0 L430.5,186.5 L429.0,195.0 L427.5,203.5 L426.2,212.0 L425.1,220.6 L424.3,229.2 L423.6,237.8 L423.3,246.4 L423.6,254.9 L424.1,263.4 L424.7,272.0 L425.5,280.5 L426.6,289.1 L428.2,297.5 L430.3,305.9 L432.8,314.1 L435.6,322.2 L438.6,330.3 L441.6,338.3 L444.7,346.3 L448.0,354.3 L451.3,362.2 L454.8,370.1 L458.2,377.9 L461.7,385.7 L465.0,393.5 L468.3,401.4 L471.4,409.2 L474.4,417.1 L477.3,425.1 L480.1,433.2 L482.8,441.3 L485.5,449.4 L488.3,457.4 L491.0,465.5 L493.8,473.6 L496.6,481.6 L499.4,489.6 L502.3,497.6 L512.0,493.0 L508.9,485.3 L505.8,477.5 L502.8,469.6 L499.9,461.7 L497.0,453.7 L494.0,445.8 L491.1,437.8 L488.2,429.9 L485.2,422.0 L482.1,414.2 L478.9,406.4 L475.6,398.8 L472.1,391.1 L468.6,383.5 L465.0,375.8 L461.4,368.1 L457.7,360.4 L454.2,352.6 L450.9,344.7 L447.6,336.9 L444.4,329.0 L441.3,321.1 L438.3,313.1 L435.7,304.9 L433.4,296.7 L431.7,288.4 L430.4,279.9 L429.4,271.4 L428.6,262.9 L427.8,254.6 L427.4,246.1 L427.5,237.6 L428.0,229.0 L428.7,220.4 L429.6,211.9 L430.8,203.4 L432.1,194.9 L433.5,186.5 L434.9,178.0Z" fill="rgb(201,87,82)" stroke="rgb(201,87,82)" stroke-width="0.6" />
<path d="M434.9,178.0 L433.5,186.5 L432.1,194.9 L430.8,203.4 L429.6,211.9 L428.7,220.4 L428.0,229.0 L427.5,237.6 L427.4,246.1 L427.8,254.6 L428.6,262.9 L429.4,271.4 L430.4,279.9 L431.7,288.4 L433.4,296.7 L435.7,304.9 L438.3,313.1 L441.3,321.1 L444.4,329.0 L447.6,336.9 L450.9,344.7 L454.2,352.6 L457.7,360.4 L461.4,368.1 L465.0,375.8 L468.6,383.5 L472.1,391.1 L475.6,398.8 L478.9,406.4 L482.1,414.2 L485.2,422.0 L488.2,429.9 L491.1,437.8 L494.0,445.8 L497.0,453.7 L499.9,461.7 L502.8,469.6 L505.8,477.5 L508.9,485.3 L512.0,493.0 L521.7,488.5 L518.4,480.9 L515.1,473.3 L511.9,465.6 L508.8,457.8 L505.7,450.0 L502.6,442.2 L499.5,434.4 L496.4,426.6 L493.2,418.8 L489.9,411.2 L486.4,403.7 L482.9,396.2 L479.2,388.7 L475.5,381.2 L471.7,373.7 L467.9,366.2 L464.1,358.6 L460.5,350.9 L457.0,343.2 L453.6,335.4 L450.2,327.7 L447.0,319.9 L443.8,312.0 L441.0,304.0 L438.6,295.9 L436.7,287.6 L435.2,279.2 L434.1,270.8 L433.1,262.4 L432.1,254.2 L431.4,245.8 L431.4,237.3 L431.7,228.8 L432.3,220.3 L433.0,211.8 L434.0,203.3 L435.2,194.9 L436.4,186.4 L437.7,178.0Z" fill="rgb(193,72,69)" stroke="rgb(193,72,69)" stroke-width="0.6" />
<path d="M437.7,178.0 L436.4,186.4 L435.2,194.9 L434.0,203.3 L433.0,211.8 L432.3,220.3 L431.7,228.8 L431.4,237.3 L431.4,245.8 L432.1,254.2 L433.1,262.4 L434.1,270.8 L435.2,279.2 L436.7,287.6 L438.6,295.9 L441.0,304.0 L443.8,312.0 L447.0,319.9 L450.2,327.7 L453.6,335.4 L457.0,343.2 L460.5,350.9 L464.1,358.6 L467.9,366.2 L471.7,373.7 L475.5,381.2 L479.2,388.7 L482.9,396.2 L486.4,403.7 L489.9,411.2 L493.2,418.8 L496.4,426.6 L499.5,434.4 L502.6,442.2 L505.7,450.0 L508.8,457.8 L511.9,465.6 L515.1,473.3 L518.4,480.9 L521.7,488.5 L531.5,484.0 L527.9,476.6 L524.4,469.2 L521.0,461.6 L517.6,454.0 L514.4,446.3 L511.1,438.6 L507.8,431.0 L504.5,423.3 L501.1,415.7 L497.6,408.2 L493.9,400.9 L490.2,393.6 L486.3,386.3 L482.3,379.0 L478.4,371.6 L474.5,364.2 L470.6,356.8 L466.8,349.2 L463.1,341.6 L459.6,334.0 L456.0,326.4 L452.6,318.7 L449.3,311.0 L446.4,303.1 L443.8,295.1 L441.7,286.9 L440.1,278.6 L438.8,270.3 L437.6,261.9 L436.3,253.8 L435.4,245.5 L435.2,237.1 L435.4,228.6 L435.8,220.1 L436.4,211.7 L437.3,203.2 L438.3,194.8 L439.4,186.4 L440.4,178.0Z" fill="rgb(185,57,55)" stroke="rgb(185,57,55)" stroke-width="0.6" />
<path d="M440.4,178.0 L439.4,186.4 L438.3,194.8 L437.3,203.2 L436.4,211.7 L435.8,220.1 L435.4,228.6 L435.2,237.1 L435.4,245.5 L436.3,253.8 L437.6,261.9 L438.8,270.3 L440.1,278.6 L441.7,286.9 L443.8,295.1 L446.4,303.1 L449.3,311.0 L452.6,318.7 L456.0,326.4 L459.6,334.0 L463.1,341.6 L466.8,349.2 L470.6,356.8 L474.5,364.2 L478.4,371.6 L482.3,379.0 L486.3,386.3 L490.2,393.6 L493.9,400.9 L497.6,408.2 L501.1,415.7 L504.5,423.3 L507.8,431.0 L511.1,438.6 L514.4,446.3 L517.6,454.0 L521.0,461.6 L524.4,469.2 L527.9,476.6 L531.5,484.0 L541.2,479.5 L537.4,472.3 L533.7,465.0 L530.0,457.6 L526.5,450.1 L523.0,442.6 L519.6,435.1 L516.1,427.5 L512.6,420.0 L509.1,412.6 L505.3,405.3 L501.4,398.1 L497.5,391.0 L493.4,383.8 L489.2,376.7 L485.1,369.5 L481.1,362.3 L477.0,355.0 L473.1,347.5 L469.3,340.1 L465.6,332.6 L461.9,325.1 L458.3,317.6 L454.8,309.9 L451.7,302.2 L449.0,294.2 L446.7,286.2 L445.0,278.0 L443.5,269.7 L442.1,261.5 L440.6,253.4 L439.5,245.2 L439.1,236.8 L439.1,228.4 L439.4,220.0 L439.9,211.5 L440.5,203.1 L441.4,194.8 L442.3,186.4 L443.2,178.0Z" fill="rgb(179,50,48)" stroke="rgb(179,50,48)" stroke-width="0.6" />
<path d="M443.2,178.0 L442.3,186.4 L441.4,194.8 L440.5,203.1 L439.9,211.5 L439.4,220.0 L439.1,228.4 L439.1,236.8 L439.5,245.2 L440.6,253.4 L442.1,261.5 L443.5,269.7 L445.0,278.0 L446.7,286.2 L449.0,294.2 L451.7,302.2 L454.8,309.9 L458.3,317.6 L461.9,325.1 L465.6,332.6 L469.3,340.1 L473.1,347.5 L477.0,355.0 L481.1,362.3 L485.1,369.5 L489.2,376.7 L493.4,383.8 L497.5,391.0 L501.4,398.1 L505.3,405.3 L509.1,412.6 L512.6,420.0 L516.1,427.5 L519.6,435.1 L523.0,442.6 L526.5,450.1 L530.0,457.6 L533.7,465.0 L537.4,472.3 L541.2,479.5 L550.9,475.0 L546.9,468.0 L542.9,460.9 L539.1,453.6 L535.4,446.3 L531.7,438.9 L528.1,431.5 L524.4,424.1 L520.8,416.7 L517.0,409.4 L513.0,402.3 L508.9,395.3 L504.8,388.3 L500.5,381.4 L496.1,374.5 L491.8,367.5 L487.6,360.3 L483.4,353.2 L479.3,345.9 L475.4,338.5 L471.5,331.2 L467.7,323.8 L463.9,316.4 L460.4,308.9 L457.1,301.2 L454.2,293.4 L451.7,285.5 L449.8,277.3 L448.2,269.1 L446.7,261.0 L444.9,253.0 L443.5,244.9 L442.9,236.6 L442.8,228.2 L443.0,219.8 L443.3,211.4 L443.8,203.0 L444.5,194.7 L445.2,186.3 L446.0,178.0Z" fill="rgb(174,47,46)" stroke="rgb(174,47,46)" stroke-width="0.6" />
<path d="M446.0,178.0 L445.2,186.3 L444.5,194.7 L443.8,203.0 L443.3,211.4 L443.0,219.8 L442.8,228.2 L442.9,236.6 L443.5,244.9 L444.9,253.0 L446.7,261.0 L448.2,269.1 L449.8,277.3 L451.7,285.5 L454.2,293.4 L457.1,301.2 L460.4,308.9 L463.9,316.4 L467.7,323.8 L471.5,331.2 L475.4,338.5 L479.3,345.9 L483.4,353.2 L487.6,360.3 L491.8,367.5 L496.1,374.5 L500.5,381.4 L504.8,388.3 L508.9,395.3 L513.0,402.3 L517.0,409.4 L520.8,416.7 L524.4,424.1 L528.1,431.5 L531.7,438.9 L535.4,446.3 L539.1,453.6 L542.9,460.9 L546.9,468.0 L550.9,475.0 L560.6,470.5 L556.4,463.6 L552.2,456.7 L548.2,449.6 L544.3,442.4 L540.4,435.2 L536.6,427.9 L532.7,420.7 L528.9,413.4 L524.9,406.3 L520.8,399.3 L516.4,392.5 L512.0,385.7 L507.6,379.0 L503.0,372.2 L498.5,365.4 L494.2,358.4 L489.8,351.4 L485.6,344.2 L481.6,336.9 L477.5,329.7 L473.5,322.5 L469.6,315.2 L465.9,307.8 L462.4,300.3 L459.4,292.6 L456.8,284.7 L454.7,276.7 L452.9,268.5 L451.2,260.5 L449.1,252.6 L447.5,244.6 L446.8,236.4 L446.5,228.0 L446.5,219.6 L446.7,211.3 L447.1,203.0 L447.6,194.6 L448.2,186.3 L448.8,178.0Z" fill="rgb(170,44,43)" stroke="rgb(170,44,43)" stroke-width="0.6" />
<path d="M448.8,178.0 L448.2,186.3 L447.6,194.6 L447.1,203.0 L446.7,211.3 L446.5,219.6 L446.5,228.0 L446.8,236.4 L447.5,244.6 L449.1,252.6 L451.2,260.5 L452.9,268.5 L454.7,276.7 L456.8,284.7 L459.4,292.6 L462.4,300.3 L465.9,307.8 L469.6,315.2 L473.5,322.5 L477.5,329.7 L481.6,336.9 L485.6,344.2 L489.8,351.4 L494.2,358.4 L498.5,365.4 L503.0,372.2 L507.6,379.0 L512.0,385.7 L516.4,392.5 L520.8,399.3 L524.9,406.3 L528.9,413.4 L532.7,420.7 L536.6,427.9 L540.4,435.2 L544.3,442.4 L548.2,449.6 L552.2,456.7 L556.4,463.6 L560.6,470.5 L570.3,466.0 L565.9,459.3 L561.5,452.5 L557.3,445.6 L553.2,438.6 L549.1,431.5 L545.1,424.3 L541.1,417.3 L537.0,410.1 L532.9,403.2 L528.5,396.4 L524.0,389.7 L519.3,383.1 L514.6,376.6 L509.9,370.0 L505.3,363.3 L500.7,356.5 L496.2,349.5 L491.9,342.5 L487.7,335.4 L483.5,328.3 L479.3,321.2 L475.2,314.1 L471.4,306.8 L467.8,299.4 L464.5,291.8 L461.8,284.0 L459.6,276.0 L457.6,268.0 L455.7,260.0 L453.4,252.2 L451.5,244.3 L450.6,236.1 L450.2,227.8 L450.1,219.5 L450.1,211.2 L450.3,202.9 L450.7,194.6 L451.1,186.3 L451.6,178.0Z" fill="rgb(165,41,41)" stroke="rgb(165,41,41)" stroke-width="0.6" />
<path d="M451.6,178.0 L451.1,186.3 L450.7,194.6 L450.3,202.9 L450.1,211.2 L450.1,219.5 L450.2,227.8 L450.6,236.1 L451.5,244.3 L453.4,252.2 L455.7,260.0 L457.6,268.0 L459.6,276.0 L461.8,284.0 L464.5,291.8 L467.8,299.4 L471.4,306.8 L475.2,314.1 L479.3,321.2 L483.5,328.3 L487.7,335.4 L491.9,342.5 L496.2,349.5 L500.7,356.5 L505.3,363.3 L509.9,370.0 L514.6,376.6 L519.3,383.1 L524.0,389.7 L528.5,396.4 L532.9,403.2 L537.0,410.1 L541.1,417.3 L545.1,424.3 L549.1,431.5 L553.2,438.6 L557.3,445.6 L561.5,452.5 L565.9,459.3 L570.3,466.0 L580.1,461.5 L575.4,455.0 L570.8,448.4 L566.3,441.6 L562.0,434.7 L557.8,427.8 L553.6,420.8 L549.4,413.8 L545.2,406.9 L540.8,400.0 L536.2,393.4 L531.5,386.9 L526.6,380.5 L521.7,374.1 L516.8,367.7 L512.0,361.2 L507.3,354.5 L502.6,347.7 L498.2,340.8 L493.8,333.8 L489.5,326.9 L485.1,319.9 L480.9,312.9 L476.9,305.8 L473.1,298.4 L469.7,291.0 L466.8,283.3 L464.4,275.4 L462.3,267.4 L460.2,259.5 L457.7,251.9 L455.6,244.0 L454.5,235.9 L453.9,227.6 L453.7,219.3 L453.5,211.0 L453.6,202.8 L453.8,194.5 L454.1,186.3 L454.3,178.0Z" fill="rgb(162,39,39)" stroke="rgb(162,39,39)" stroke-width="0.6" />
<path d="M454.3,178.0 L454.1,186.3 L453.8,194.5 L453.6,202.8 L453.5,211.0 L453.7,219.3 L453.9,227.6 L454.5,235.9 L455.6,244.0 L457.7,251.9 L460.2,259.5 L462.3,267.4 L464.4,275.4 L466.8,283.3 L469.7,291.0 L473.1,298.4 L476.9,305.8 L480.9,312.9 L485.1,319.9 L489.5,326.9 L493.8,333.8 L498.2,340.8 L502.6,347.7 L507.3,354.5 L512.0,361.2 L516.8,367.7 L521.7,374.1 L526.6,380.5 L531.5,386.9 L536.2,393.4 L540.8,400.0 L545.2,406.9 L549.4,413.8 L553.6,420.8 L557.8,427.8 L562.0,434.7 L566.3,441.6 L570.8,448.4 L575.4,455.0 L580.1,461.5 L589.8,457.0 L584.9,450.6 L580.0,444.2 L575.4,437.6 L570.9,430.9 L566.5,424.0 L562.1,417.2 L557.7,410.4 L553.3,403.6 L548.8,396.9 L543.9,390.4 L539.0,384.2 L533.9,377.9 L528.8,371.7 L523.7,365.4 L518.7,359.1 L513.8,352.6 L509.0,345.9 L504.4,339.1 L500.0,332.3 L495.5,325.4 L490.9,318.7 L486.6,311.8 L482.4,304.7 L478.5,297.5 L474.9,290.1 L471.8,282.5 L469.3,274.7 L467.1,266.8 L464.7,259.0 L461.9,251.5 L459.6,243.7 L458.4,235.6 L457.7,227.4 L457.2,219.2 L457.0,210.9 L456.8,202.7 L456.9,194.5 L457.0,186.2 L457.1,178.0Z" fill="rgb(158,37,38)" stroke="rgb(158,37,38)" stroke-width="0.6" />
<path d="M457.1,178.0 L457.0,186.2 L456.9,194.5 L456.8,202.7 L457.0,210.9 L457.2,219.2 L457.7,227.4 L458.4,235.6 L459.6,243.7 L461.9,251.5 L464.7,259.0 L467.1,266.8 L469.3,274.7 L471.8,282.5 L474.9,290.1 L478.5,297.5 L482.4,304.7 L486.6,311.8 L490.9,318.7 L495.5,325.4 L500.0,332.3 L504.4,339.1 L509.0,345.9 L513.8,352.6 L518.7,359.1 L523.7,365.4 L528.8,371.7 L533.9,377.9 L539.0,384.2 L543.9,390.4 L548.8,396.9 L553.3,403.6 L557.7,410.4 L562.1,417.2 L566.5,424.0 L570.9,430.9 L575.4,437.6 L580.0,444.2 L584.9,450.6 L589.8,457.0 L599.5,452.4 L594.4,446.3 L589.3,440.1 L584.5,433.6 L579.8,427.0 L575.2,420.3 L570.6,413.6 L566.0,407.0 L561.5,400.3 L556.7,393.7 L551.7,387.5 L546.5,381.4 L541.2,375.3 L535.9,369.3 L530.6,363.2 L525.4,357.0 L520.4,350.6 L515.4,344.1 L510.7,337.4 L506.1,330.7 L501.4,324.0 L496.7,317.4 L492.2,310.6 L487.9,303.7 L483.8,296.6 L480.1,289.3 L476.9,281.8 L474.2,274.1 L471.8,266.3 L469.2,258.5 L466.2,251.1 L463.6,243.4 L462.2,235.4 L461.4,227.2 L460.8,219.0 L460.4,210.8 L460.1,202.6 L460.0,194.4 L459.9,186.2 L459.9,178.0Z" fill="rgb(154,35,36)" stroke="rgb(154,35,36)" stroke-width="0.6" />
<path d="M459.9,178.0 L459.9,186.2 L460.0,194.4 L460.1,202.6 L460.4,210.8 L460.8,219.0 L461.4,227.2 L462.2,235.4 L463.6,243.4 L466.2,251.1 L469.2,258.5 L471.8,266.3 L474.2,274.1 L476.9,281.8 L480.1,289.3 L483.8,296.6 L487.9,303.7 L492.2,310.6 L496.7,317.4 L501.4,324.0 L506.1,330.7 L510.7,337.4 L515.4,344.1 L520.4,350.6 L525.4,357.0 L530.6,363.2 L535.9,369.3 L541.2,375.3 L546.5,381.4 L551.7,387.5 L556.7,393.7 L561.5,400.3 L566.0,407.0 L570.6,413.6 L575.2,420.3 L579.8,427.0 L584.5,433.6 L589.3,440.1 L594.4,446.3 L599.5,452.4 L609.2,447.9 L603.9,442.0 L598.6,435.9 L593.5,429.6 L588.7,423.2 L583.9,416.6 L579.2,410.1 L574.4,403.5 L569.6,397.0 L564.6,390.6 L559.4,384.5 L554.0,378.6 L548.5,372.7 L543.0,366.9 L537.5,360.9 L532.1,354.9 L526.9,348.7 L521.9,342.3 L517.0,335.7 L512.2,329.1 L507.4,322.6 L502.6,316.1 L497.9,309.4 L493.4,302.6 L489.2,295.6 L485.3,288.5 L481.9,281.1 L479.0,273.4 L476.5,265.7 L473.7,258.0 L470.4,250.7 L467.7,243.1 L466.1,235.1 L465.1,227.0 L464.4,218.8 L463.8,210.7 L463.4,202.5 L463.1,194.3 L462.9,186.2 L462.7,178.0Z" fill="rgb(151,33,35)" stroke="rgb(151,33,35)" stroke-width="0.6" />
<path d="M462.7,178.0 L462.9,186.2 L463.1,194.3 L463.4,202.5 L463.8,210.7 L464.4,218.8 L465.1,227.0 L466.1,235.1 L467.7,243.1 L470.4,250.7 L473.7,258.0 L476.5,265.7 L479.0,273.4 L481.9,281.1 L485.3,288.5 L489.2,295.6 L493.4,302.6 L497.9,309.4 L502.6,316.1 L507.4,322.6 L512.2,329.1 L517.0,335.7 L521.9,342.3 L526.9,348.7 L532.1,354.9 L537.5,360.9 L543.0,366.9 L548.5,372.7 L554.0,378.6 L559.4,384.5 L564.6,390.6 L569.6,397.0 L574.4,403.5 L579.2,410.1 L583.9,416.6 L588.7,423.2 L593.5,429.6 L598.6,435.9 L603.9,442.0 L609.2,447.9 L619.0,443.4 L613.4,437.6 L607.9,431.8 L602.6,425.6 L597.6,419.3 L592.6,412.9 L587.7,406.5 L582.7,400.1 L577.7,393.7 L572.6,387.5 L567.1,381.5 L561.5,375.8 L555.8,370.1 L550.1,364.4 L544.4,358.7 L538.9,352.8 L533.5,346.7 L528.3,340.5 L523.3,334.1 L518.4,327.6 L513.4,321.2 L508.4,314.8 L503.5,308.3 L498.9,301.6 L494.5,294.7 L490.5,287.7 L486.9,280.4 L483.9,272.8 L481.2,265.1 L478.3,257.5 L474.7,250.3 L471.7,242.8 L469.9,234.9 L468.8,226.8 L467.9,218.7 L467.2,210.6 L466.6,202.4 L466.2,194.3 L465.8,186.1 L465.4,178.0Z" fill="rgb(147,31,33)" stroke="rgb(147,31,33)" stroke-width="0.6" />
<path d="M465.4,178.0 L465.8,186.1 L466.2,194.3 L466.6,202.4 L467.2,210.6 L467.9,218.7 L468.8,226.8 L469.9,234.9 L471.7,242.8 L474.7,250.3 L478.3,257.5 L481.2,265.1 L483.9,272.8 L486.9,280.4 L490.5,287.7 L494.5,294.7 L498.9,301.6 L503.5,308.3 L508.4,314.8 L513.4,321.2 L518.4,327.6 L523.3,334.1 L528.3,340.5 L533.5,346.7 L538.9,352.8 L544.4,358.7 L550.1,364.4 L555.8,370.1 L561.5,375.8 L567.1,381.5 L572.6,387.5 L577.7,393.7 L582.7,400.1 L587.7,406.5 L592.6,412.9 L597.6,419.3 L602.6,425.6 L607.9,431.8 L613.4,437.6 L619.0,443.4 L628.7,438.9 L622.9,433.3 L617.1,427.6 L611.7,421.6 L606.4,415.5 L601.3,409.2 L596.2,402.9 L591.0,396.7 L585.9,390.4 L580.5,384.3 L574.9,378.6 L569.0,373.0 L563.1,367.5 L557.2,362.0 L551.3,356.4 L545.6,350.7 L540.0,344.8 L534.7,338.7 L529.5,332.4 L524.5,326.0 L519.4,319.7 L514.2,313.5 L509.2,307.1 L504.4,300.5 L499.9,293.8 L495.7,286.8 L491.9,279.6 L488.8,272.1 L485.9,264.6 L482.8,257.1 L479.0,249.9 L475.7,242.5 L473.8,234.6 L472.5,226.6 L471.5,218.5 L470.6,210.4 L469.9,202.3 L469.3,194.2 L468.7,186.1 L468.2,178.0Z" fill="rgb(139,27,30)" stroke="rgb(139,27,30)" stroke-width="0.6" />
<path d="M468.2,178.0 L468.7,186.1 L469.3,194.2 L469.9,202.3 L470.6,210.4 L471.5,218.5 L472.5,226.6 L473.8,234.6 L475.7,242.5 L479.0,249.9 L482.8,257.1 L485.9,264.6 L488.8,272.1 L491.9,279.6 L495.7,286.8 L499.9,293.8 L504.4,300.5 L509.2,307.1 L514.2,313.5 L519.4,319.7 L524.5,326.0 L529.5,332.4 L534.7,338.7 L540.0,344.8 L545.6,350.7 L551.3,356.4 L557.2,362.0 L563.1,367.5 L569.0,373.0 L574.9,378.6 L580.5,384.3 L585.9,390.4 L591.0,396.7 L596.2,402.9 L601.3,409.2 L606.4,415.5 L611.7,421.6 L617.1,427.6 L622.9,433.3 L628.7,438.9 L638.4,434.4 L632.4,429.0 L626.4,423.4 L620.7,417.6 L615.3,411.6 L610.0,405.5 L604.7,399.3 L599.3,393.2 L594.0,387.1 L588.5,381.2 L582.6,375.6 L576.5,370.2 L570.4,364.9 L564.3,359.6 L558.2,354.2 L552.3,348.6 L546.6,342.8 L541.1,336.9 L535.8,330.7 L530.6,324.4 L525.3,318.3 L520.0,312.2 L514.8,305.9 L509.9,299.5 L505.2,292.9 L500.9,286.0 L497.0,278.9 L493.7,271.5 L490.6,264.0 L487.3,256.6 L483.2,249.5 L479.7,242.2 L477.6,234.4 L476.2,226.4 L475.1,218.4 L474.0,210.3 L473.1,202.3 L472.4,194.2 L471.7,186.1 L471.0,178.0Z" fill="rgb(132,22,26)" stroke="rgb(132,22,26)" stroke-width="0.6" />
</g>
<clipPath id="c3"><path d="M435.5,386.0 L435.3,384.5 L435.0,382.4 L434.7,380.0 L434.3,377.3 L434.1,374.6 L434.0,372.0 L434.0,369.4 L434.2,366.7 L434.4,363.9 L434.7,361.2 L435.0,358.5 L435.5,356.0 L436.0,353.6 L436.6,351.3 L437.2,349.1 L438.0,347.0 L438.9,345.0 L440.0,343.0 L441.3,341.2 L442.6,339.4 L444.2,337.8 L445.9,336.2 L447.8,334.6 L450.0,333.0 L452.5,331.3 L455.3,329.6 L458.2,327.9 L461.4,326.3 L464.7,324.8 L468.0,323.5 L471.5,322.4 L475.4,321.5 L479.3,320.7 L483.2,320.1 L486.8,319.5 L490.0,319.0 L492.7,318.6 L495.0,318.2 L497.1,317.9 L499.0,317.8 L501.0,317.8 L503.0,318.0 L505.1,318.4 L507.3,319.1 L509.5,319.9 L511.6,320.8 L513.6,321.9 L515.6,323.0 L517.5,324.3 L519.3,325.8 L521.1,327.4 L522.8,329.0 L524.4,330.6 L526.0,332.0 L527.5,333.3 L528.8,334.6 L530.1,335.8 L531.3,337.0 L532.6,338.0 L534.0,339.0 L535.5,339.9 L537.3,340.7 L539.0,341.4 L540.6,342.1 L542.0,342.6 L543.0,343.0 L546.4,342.6 L548.0,344.3 L549.6,346.0 L551.4,347.7 L553.3,349.6 L555.5,351.7 L558.0,354.0 L560.9,356.7 L564.3,359.7 L568.0,362.9 L571.9,366.2 L575.7,369.6 L579.4,372.8 L582.8,375.8 L585.7,378.5 L588.1,380.8 L590.0,382.8 L591.7,384.6 L593.2,386.2 L594.7,387.9 L596.2,389.7 L597.9,391.7 L600.0,394.0 L602.4,396.7 L605.1,399.8 L607.9,403.1 L610.9,406.5 L613.8,409.9 L616.7,413.2 L619.5,416.3 L622.0,419.0 L624.4,421.5 L626.9,423.9 L629.3,426.2 L631.6,428.3 L633.7,430.2 L635.6,431.9 L637.2,433.3 L638.4,434.4 L638.4,434.4 L637.9,439.1 L637.3,445.8 L636.4,453.6 L635.3,461.5 L633.8,468.8 L631.9,475.2 L629.8,481.5 L627.4,487.7 L624.5,493.8 L621.0,500.0 L616.9,506.4 L612.2,513.1 L607.0,519.6 L601.6,525.7 L596.0,531.0 L590.2,535.6 L584.0,539.6 L577.7,543.0 L571.3,546.0 L565.0,548.4 L558.8,550.3 L552.5,551.6 L546.3,552.4 L540.0,552.9 L533.8,553.0 L527.4,552.9 L521.1,552.4 L514.8,551.6 L508.5,550.3 L502.5,548.4 L496.4,545.7 L490.2,542.3 L484.3,538.4 L478.9,534.6 L474.4,531.0 L470.9,527.5 L468.2,524.0 L466.2,520.6 L464.6,517.7 L463.4,515.6 L463.4,515.6 L462.6,512.0 L461.5,507.2 L460.2,501.5 L458.7,495.1 L457.2,488.3 L455.6,481.4 L454.0,474.5 L452.5,468.0 L451.0,461.5 L449.5,454.7 L447.9,447.8 L446.3,440.8 L444.6,433.9 L443.1,427.2 L441.5,420.8 L440.0,415.0 L438.5,409.5 L437.0,404.3 L435.5,399.2 L434.0,394.5 L432.6,390.1Z"/></clipPath>
<g clip-path="url(#c3)">
<path d="M435.5,386.0 L435.3,384.5 L435.0,382.4 L434.7,380.0 L434.3,377.3 L434.1,374.6 L434.0,372.0 L434.0,369.4 L434.2,366.7 L434.4,363.9 L434.7,361.2 L435.0,358.5 L435.5,356.0 L436.0,353.6 L436.6,351.3 L437.2,349.1 L438.0,347.0 L438.9,345.0 L440.0,343.0 L441.3,341.2 L442.6,339.4 L444.2,337.8 L445.9,336.2 L447.8,334.6 L450.0,333.0 L452.5,331.3 L455.3,329.6 L458.2,327.9 L461.4,326.3 L464.7,324.8 L468.0,323.5 L471.5,322.4 L475.4,321.5 L479.3,320.7 L483.2,320.1 L486.8,319.5 L490.0,319.0 L492.7,318.6 L495.0,318.2 L497.1,317.9 L499.0,317.8 L501.0,317.8 L503.0,318.0 L505.1,318.4 L507.3,319.1 L509.5,319.9 L511.6,320.8 L513.6,321.9 L515.6,323.0 L517.5,324.3 L519.3,325.8 L521.1,327.4 L522.8,329.0 L524.4,330.6 L526.0,332.0 L527.5,333.3 L528.8,334.6 L530.1,335.8 L531.3,337.0 L532.6,338.0 L534.0,339.0 L535.5,339.9 L537.3,340.7 L539.0,341.4 L540.6,342.1 L542.0,342.6 L543.0,343.0 L546.4,342.6 L548.0,344.3 L549.6,346.0 L551.4,347.7 L553.3,349.6 L555.5,351.7 L558.0,354.0 L560.9,356.7 L564.3,359.7 L568.0,362.9 L571.9,366.2 L575.7,369.6 L579.4,372.8 L582.8,375.8 L585.7,378.5 L588.1,380.8 L590.0,382.8 L591.7,384.6 L593.2,386.2 L594.7,387.9 L596.2,389.7 L597.9,391.7 L600.0,394.0 L602.4,396.7 L605.1,399.8 L607.9,403.1 L610.9,406.5 L613.8,409.9 L616.7,413.2 L619.5,416.3 L622.0,419.0 L624.4,421.5 L626.9,423.9 L629.3,426.2 L631.6,428.3 L633.7,430.2 L635.6,431.9 L637.2,433.3 L638.4,434.4 L638.4,434.4 L637.9,439.1 L637.3,445.8 L636.4,453.6 L635.3,461.5 L633.8,468.8 L631.9,475.2 L629.8,481.5 L627.4,487.7 L624.5,493.8 L621.0,500.0 L616.9,506.4 L612.2,513.1 L607.0,519.6 L601.6,525.7 L596.0,531.0 L590.2,535.6 L584.0,539.6 L577.7,543.0 L571.3,546.0 L565.0,548.4 L558.8,550.3 L552.5,551.6 L546.3,552.4 L540.0,552.9 L533.8,553.0 L527.4,552.9 L521.1,552.4 L514.8,551.6 L508.5,550.3 L502.5,548.4 L496.4,545.7 L490.2,542.3 L484.3,538.4 L478.9,534.6 L474.4,531.0 L470.9,527.5 L468.2,524.0 L466.2,520.6 L464.6,517.7 L463.4,515.6 L463.4,515.6 L462.6,512.0 L461.5,507.2 L460.2,501.5 L458.7,495.1 L457.2,488.3 L455.6,481.4 L454.0,474.5 L452.5,468.0 L451.0,461.5 L449.5,454.7 L447.9,447.8 L446.3,440.8 L444.6,433.9 L443.1,427.2 L441.5,420.8 L440.0,415.0 L438.5,409.5 L437.0,404.3 L435.5,399.2 L434.0,394.5 L432.6,390.1Z" fill="#c96a58"/>
<g filter="url(#b1)">
<path d="M424.5,366.0 L426.6,371.9 L428.6,377.8 L430.6,383.8 L432.5,389.8 L434.4,395.8 L436.2,401.8 L438.0,407.8 L439.7,413.8 L441.3,419.9 L442.8,426.0 L444.2,432.1 L445.7,438.2 L447.1,444.3 L448.5,450.4 L449.9,456.5 L451.3,462.7 L452.7,468.8 L454.1,474.9 L455.5,481.0 L456.9,487.1 L458.3,493.2 L459.7,499.4 L461.1,505.5 L462.5,511.6 L463.9,517.7 L465.3,523.8 L466.7,529.9 L468.1,536.1 L469.5,542.2 L470.9,548.3 L472.3,554.4 L473.7,560.5 L475.1,566.6 L476.5,572.7 L477.9,578.9 L479.3,585.0 L480.7,591.1 L482.1,597.2 L483.5,603.3 L490.1,600.1 L488.6,594.1 L487.1,588.0 L485.7,582.0 L484.2,575.9 L482.7,569.9 L481.2,563.8 L479.7,557.8 L478.2,551.7 L476.7,545.7 L475.3,539.6 L473.8,533.5 L472.3,527.5 L470.8,521.4 L469.3,515.4 L467.8,509.3 L466.4,503.3 L464.9,497.2 L463.4,491.2 L461.9,485.1 L460.4,479.1 L459.0,473.0 L457.5,467.0 L456.0,460.9 L454.5,454.8 L453.0,448.8 L451.6,442.7 L450.1,436.7 L448.6,430.6 L447.0,424.6 L445.5,418.5 L443.8,412.5 L442.0,406.5 L440.2,400.6 L438.3,394.7 L436.3,388.8 L434.3,382.8 L432.3,376.9 L430.3,371.0 L428.1,365.2Z" fill="#a82a2a" stroke="#a82a2a" stroke-width="0.6" />
<path d="M428.1,365.2 L430.3,371.0 L432.3,376.9 L434.3,382.8 L436.3,388.8 L438.3,394.7 L440.2,400.6 L442.0,406.5 L443.8,412.5 L445.5,418.5 L447.0,424.6 L448.6,430.6 L450.1,436.7 L451.6,442.7 L453.0,448.8 L454.5,454.8 L456.0,460.9 L457.5,467.0 L459.0,473.0 L460.4,479.1 L461.9,485.1 L463.4,491.2 L464.9,497.2 L466.4,503.3 L467.8,509.3 L469.3,515.4 L470.8,521.4 L472.3,527.5 L473.8,533.5 L475.3,539.6 L476.7,545.7 L478.2,551.7 L479.7,557.8 L481.2,563.8 L482.7,569.9 L484.2,575.9 L485.7,582.0 L487.1,588.0 L488.6,594.1 L490.1,600.1 L501.1,594.7 L499.5,588.8 L497.9,582.9 L496.3,576.9 L494.6,571.0 L493.0,565.0 L491.4,559.1 L489.8,553.1 L488.1,547.2 L486.5,541.3 L484.9,535.3 L483.3,529.4 L481.6,523.4 L480.0,517.5 L478.4,511.5 L476.8,505.6 L475.1,499.7 L473.5,493.7 L471.9,487.8 L470.3,481.8 L468.7,475.9 L467.1,469.9 L465.5,463.9 L463.9,458.0 L462.3,452.0 L460.7,446.0 L459.1,440.0 L457.5,434.1 L455.8,428.1 L454.2,422.2 L452.4,416.3 L450.6,410.4 L448.8,404.5 L446.8,398.7 L444.7,392.8 L442.6,387.0 L440.5,381.2 L438.4,375.4 L436.3,369.6 L434.0,363.8Z" fill="#d98a80" stroke="#d98a80" stroke-width="0.6" />
<path d="M434.0,363.8 L436.3,369.6 L438.4,375.4 L440.5,381.2 L442.6,387.0 L444.7,392.8 L446.8,398.7 L448.8,404.5 L450.6,410.4 L452.4,416.3 L454.2,422.2 L455.8,428.1 L457.5,434.1 L459.1,440.0 L460.7,446.0 L462.3,452.0 L463.9,458.0 L465.5,463.9 L467.1,469.9 L468.7,475.9 L470.3,481.8 L471.9,487.8 L473.5,493.7 L475.1,499.7 L476.8,505.6 L478.4,511.5 L480.0,517.5 L481.6,523.4 L483.3,529.4 L484.9,535.3 L486.5,541.3 L488.1,547.2 L489.8,553.1 L491.4,559.1 L493.0,565.0 L494.6,571.0 L496.3,576.9 L497.9,582.9 L499.5,588.8 L501.1,594.7 L516.6,587.2 L514.7,581.4 L512.9,575.6 L511.1,569.9 L509.3,564.1 L507.5,558.3 L505.6,552.5 L503.8,546.7 L502.0,540.9 L500.2,535.1 L498.4,529.3 L496.5,523.5 L494.7,517.7 L492.9,511.9 L491.1,506.2 L489.2,500.4 L487.4,494.6 L485.6,488.8 L483.8,483.0 L482.0,477.2 L480.2,471.4 L478.4,465.5 L476.6,459.7 L474.9,453.8 L473.1,448.0 L471.4,442.1 L469.6,436.3 L467.8,430.4 L466.0,424.6 L464.2,418.8 L462.2,413.1 L460.2,407.3 L458.2,401.6 L456.0,395.9 L453.8,390.3 L451.5,384.6 L449.2,378.9 L447.0,373.3 L444.7,367.6 L442.3,361.9Z" fill="#c5443e" stroke="#c5443e" stroke-width="0.6" />
<path d="M442.3,361.9 L444.7,367.6 L447.0,373.3 L449.2,378.9 L451.5,384.6 L453.8,390.3 L456.0,395.9 L458.2,401.6 L460.2,407.3 L462.2,413.1 L464.2,418.8 L466.0,424.6 L467.8,430.4 L469.6,436.3 L471.4,442.1 L473.1,448.0 L474.9,453.8 L476.6,459.7 L478.4,465.5 L480.2,471.4 L482.0,477.2 L483.8,483.0 L485.6,488.8 L487.4,494.6 L489.2,500.4 L491.1,506.2 L492.9,511.9 L494.7,517.7 L496.5,523.5 L498.4,529.3 L500.2,535.1 L502.0,540.9 L503.8,546.7 L505.6,552.5 L507.5,558.3 L509.3,564.1 L511.1,569.9 L512.9,575.6 L514.7,581.4 L516.6,587.2 L525.4,582.9 L523.5,577.2 L521.5,571.5 L519.6,565.8 L517.7,560.1 L515.7,554.4 L513.8,548.7 L511.9,543.0 L509.9,537.3 L508.0,531.6 L506.0,525.9 L504.1,520.2 L502.2,514.5 L500.2,508.8 L498.3,503.1 L496.4,497.4 L494.4,491.7 L492.5,486.0 L490.6,480.3 L488.6,474.6 L486.8,468.8 L484.9,463.0 L483.0,457.3 L481.2,451.5 L479.3,445.7 L477.5,439.9 L475.6,434.1 L473.7,428.4 L471.8,422.6 L469.9,416.9 L467.8,411.2 L465.7,405.6 L463.5,400.0 L461.3,394.4 L459.0,388.8 L456.6,383.2 L454.2,377.6 L451.9,372.0 L449.5,366.4 L447.0,360.9Z" fill="#e8a55c" stroke="#e8a55c" stroke-width="0.6" />
<path d="M447.0,360.9 L449.5,366.4 L451.9,372.0 L454.2,377.6 L456.6,383.2 L459.0,388.8 L461.3,394.4 L463.5,400.0 L465.7,405.6 L467.8,411.2 L469.9,416.9 L471.8,422.6 L473.7,428.4 L475.6,434.1 L477.5,439.9 L479.3,445.7 L481.2,451.5 L483.0,457.3 L484.9,463.0 L486.8,468.8 L488.6,474.6 L490.6,480.3 L492.5,486.0 L494.4,491.7 L496.4,497.4 L498.3,503.1 L500.2,508.8 L502.2,514.5 L504.1,520.2 L506.0,525.9 L508.0,531.6 L509.9,537.3 L511.9,543.0 L513.8,548.7 L515.7,554.4 L517.7,560.1 L519.6,565.8 L521.5,571.5 L523.5,577.2 L525.4,582.9 L538.6,576.5 L536.5,570.9 L534.4,565.3 L532.3,559.8 L530.2,554.2 L528.1,548.6 L526.0,543.1 L523.9,537.5 L521.8,531.9 L519.7,526.3 L517.6,520.8 L515.5,515.2 L513.4,509.6 L511.3,504.0 L509.2,498.5 L507.1,492.9 L505.0,487.3 L502.9,481.7 L500.8,476.2 L498.7,470.6 L496.6,465.0 L494.6,459.3 L492.6,453.6 L490.6,448.0 L488.6,442.3 L486.6,436.6 L484.6,430.9 L482.6,425.3 L480.5,419.6 L478.4,414.0 L476.2,408.5 L474.0,403.0 L471.6,397.5 L469.2,392.0 L466.7,386.6 L464.2,381.2 L461.7,375.7 L459.2,370.2 L456.7,364.7 L454.1,359.2Z" fill="#d0584a" stroke="#d0584a" stroke-width="0.6" />
<path d="M454.1,359.2 L456.7,364.7 L459.2,370.2 L461.7,375.7 L464.2,381.2 L466.7,386.6 L469.2,392.0 L471.6,397.5 L474.0,403.0 L476.2,408.5 L478.4,414.0 L480.5,419.6 L482.6,425.3 L484.6,430.9 L486.6,436.6 L488.6,442.3 L490.6,448.0 L492.6,453.6 L494.6,459.3 L496.6,465.0 L498.7,470.6 L500.8,476.2 L502.9,481.7 L505.0,487.3 L507.1,492.9 L509.2,498.5 L511.3,504.0 L513.4,509.6 L515.5,515.2 L517.6,520.8 L519.7,526.3 L521.8,531.9 L523.9,537.5 L526.0,543.1 L528.1,548.6 L530.2,554.2 L532.3,559.8 L534.4,565.3 L536.5,570.9 L538.6,576.5 L651.1,521.8 L647.5,517.3 L644.0,512.8 L640.5,508.4 L636.9,503.9 L633.4,499.4 L629.9,494.9 L626.3,490.5 L622.8,486.0 L619.3,481.5 L615.7,477.1 L612.2,472.6 L608.7,468.1 L605.1,463.6 L601.6,459.2 L598.1,454.7 L594.5,450.2 L591.0,445.8 L587.4,441.4 L583.9,436.9 L580.5,432.2 L577.3,427.5 L574.0,422.7 L570.8,418.0 L567.6,413.2 L564.4,408.4 L561.2,403.6 L557.9,398.9 L554.6,394.2 L551.1,389.7 L547.5,385.2 L543.9,380.9 L540.2,376.5 L536.4,372.2 L532.7,367.9 L528.9,363.5 L525.3,359.1 L521.7,354.6 L518.1,350.1 L514.6,345.5Z" fill="#c96a58" stroke="#c96a58" stroke-width="0.6" />
<path d="M514.6,345.5 L518.1,350.1 L521.7,354.6 L525.3,359.1 L528.9,363.5 L532.7,367.9 L536.4,372.2 L540.2,376.5 L543.9,380.9 L547.5,385.2 L551.1,389.7 L554.6,394.2 L557.9,398.9 L561.2,403.6 L564.4,408.4 L567.6,413.2 L570.8,418.0 L574.0,422.7 L577.3,427.5 L580.5,432.2 L583.9,436.9 L587.4,441.4 L591.0,445.8 L594.5,450.2 L598.1,454.7 L601.6,459.2 L605.1,463.6 L608.7,468.1 L612.2,472.6 L615.7,477.1 L619.3,481.5 L622.8,486.0 L626.3,490.5 L629.9,494.9 L633.4,499.4 L636.9,503.9 L640.5,508.4 L644.0,512.8 L647.5,517.3 L651.1,521.8 L662.1,516.4 L658.4,512.0 L654.8,507.7 L651.1,503.3 L647.4,498.9 L643.7,494.6 L640.1,490.2 L636.4,485.9 L632.7,481.5 L629.0,477.1 L625.4,472.8 L621.7,468.4 L618.0,464.0 L614.3,459.7 L610.7,455.3 L607.0,451.0 L603.3,446.6 L599.6,442.3 L595.9,438.0 L592.2,433.6 L588.7,429.0 L585.4,424.4 L582.0,419.7 L578.7,415.0 L575.4,410.3 L572.0,405.6 L568.7,401.0 L565.3,396.3 L561.9,391.7 L558.3,387.3 L554.5,382.9 L550.7,378.7 L546.9,374.5 L543.0,370.3 L539.1,366.1 L535.3,361.8 L531.5,357.5 L527.8,353.1 L524.1,348.6 L520.5,344.1Z" fill="#b84a40" stroke="#b84a40" stroke-width="0.6" />
<path d="M520.5,344.1 L524.1,348.6 L527.8,353.1 L531.5,357.5 L535.3,361.8 L539.1,366.1 L543.0,370.3 L546.9,374.5 L550.7,378.7 L554.5,382.9 L558.3,387.3 L561.9,391.7 L565.3,396.3 L568.7,401.0 L572.0,405.6 L575.4,410.3 L578.7,415.0 L582.0,419.7 L585.4,424.4 L588.7,429.0 L592.2,433.6 L595.9,438.0 L599.6,442.3 L603.3,446.6 L607.0,451.0 L610.7,455.3 L614.3,459.7 L618.0,464.0 L621.7,468.4 L625.4,472.8 L629.0,477.1 L632.7,481.5 L636.4,485.9 L640.1,490.2 L643.7,494.6 L647.4,498.9 L651.1,503.3 L654.8,507.7 L658.4,512.0 L662.1,516.4 L670.9,512.1 L667.1,507.8 L663.4,503.6 L659.6,499.3 L655.8,495.0 L652.0,490.7 L648.2,486.5 L644.4,482.2 L640.6,477.9 L636.9,473.6 L633.1,469.3 L629.3,465.1 L625.5,460.8 L621.7,456.5 L617.9,452.2 L614.1,448.0 L610.3,443.7 L606.5,439.4 L602.7,435.2 L598.9,431.0 L595.3,426.5 L591.8,421.9 L588.4,417.3 L585.0,412.7 L581.6,408.0 L578.1,403.4 L574.7,398.8 L571.2,394.2 L567.7,389.7 L564.0,385.3 L560.1,381.1 L556.2,377.0 L552.2,372.8 L548.3,368.7 L544.3,364.6 L540.4,360.4 L536.5,356.2 L532.7,351.9 L529.0,347.5 L525.2,343.1Z" fill="#e8a060" stroke="#e8a060" stroke-width="0.6" />
<path d="M525.2,343.1 L529.0,347.5 L532.7,351.9 L536.5,356.2 L540.4,360.4 L544.3,364.6 L548.3,368.7 L552.2,372.8 L556.2,377.0 L560.1,381.1 L564.0,385.3 L567.7,389.7 L571.2,394.2 L574.7,398.8 L578.1,403.4 L581.6,408.0 L585.0,412.7 L588.4,417.3 L591.8,421.9 L595.3,426.5 L598.9,431.0 L602.7,435.2 L606.5,439.4 L610.3,443.7 L614.1,448.0 L617.9,452.2 L621.7,456.5 L625.5,460.8 L629.3,465.1 L633.1,469.3 L636.9,473.6 L640.6,477.9 L644.4,482.2 L648.2,486.5 L652.0,490.7 L655.8,495.0 L659.6,499.3 L663.4,503.6 L667.1,507.8 L670.9,512.1 L688.6,503.5 L684.6,499.4 L680.5,495.3 L676.5,491.2 L672.5,487.1 L668.5,483.0 L664.5,478.9 L660.5,474.8 L656.5,470.7 L652.5,466.6 L648.5,462.5 L644.4,458.4 L640.4,454.3 L636.4,450.2 L632.4,446.1 L628.4,442.0 L624.4,437.9 L620.4,433.8 L616.3,429.8 L612.3,425.7 L608.5,421.3 L604.8,416.9 L601.2,412.4 L597.6,408.0 L594.0,403.5 L590.3,399.0 L586.7,394.5 L583.1,390.1 L579.3,385.7 L575.4,381.5 L571.3,377.5 L567.2,373.5 L563.0,369.5 L558.8,365.6 L554.6,361.7 L550.5,357.7 L546.4,353.6 L542.5,349.4 L538.6,345.2 L534.7,340.9Z" fill="#e08a70" stroke="#e08a70" stroke-width="0.6" />
<path d="M534.7,340.9 L538.6,345.2 L542.5,349.4 L546.4,353.6 L550.5,357.7 L554.6,361.7 L558.8,365.6 L563.0,369.5 L567.2,373.5 L571.3,377.5 L575.4,381.5 L579.3,385.7 L583.1,390.1 L586.7,394.5 L590.3,399.0 L594.0,403.5 L597.6,408.0 L601.2,412.4 L604.8,416.9 L608.5,421.3 L612.3,425.7 L616.3,429.8 L620.4,433.8 L624.4,437.9 L628.4,442.0 L632.4,446.1 L636.4,450.2 L640.4,454.3 L644.4,458.4 L648.5,462.5 L652.5,466.6 L656.5,470.7 L660.5,474.8 L664.5,478.9 L668.5,483.0 L672.5,487.1 L676.5,491.2 L680.5,495.3 L684.6,499.4 L688.6,503.5 L704.0,496.0 L699.8,492.1 L695.6,488.1 L691.4,484.2 L687.2,480.2 L683.0,476.3 L678.8,472.3 L674.6,468.4 L670.3,464.4 L666.1,460.4 L661.9,456.5 L657.7,452.5 L653.5,448.6 L649.3,444.6 L645.1,440.7 L640.9,436.7 L636.7,432.8 L632.4,428.9 L628.2,425.0 L624.0,421.0 L620.0,416.8 L616.1,412.6 L612.3,408.2 L608.6,403.8 L604.8,399.5 L601.0,395.1 L597.2,390.8 L593.4,386.4 L589.5,382.2 L585.3,378.2 L581.1,374.3 L576.8,370.5 L572.4,366.7 L568.0,362.9 L563.7,359.1 L559.4,355.3 L555.2,351.3 L551.0,347.3 L547.0,343.2 L543.0,339.0Z" fill="#d9775c" stroke="#d9775c" stroke-width="0.6" />
<path d="M437.5,363.0 L439.9,368.7 L442.1,374.5 L444.3,380.2 L446.5,386.0 L448.6,391.7 L450.7,397.5 L452.8,403.3 L454.8,409.1 L456.6,414.9 L458.4,420.7 L460.2,426.6 L461.9,432.5 L463.6,438.4 L465.2,444.3 L466.9,450.3 L468.6,456.2 L470.2,462.1 L471.9,468.0 L473.6,473.9 L475.3,479.9 L477.0,485.7 L478.7,491.6 L480.4,497.5 L482.1,503.4 L483.8,509.2 L485.5,515.1 L487.2,521.0 L488.9,526.9 L490.7,532.7 L492.4,538.6 L494.1,544.5 L495.8,550.4 L497.5,556.3 L499.2,562.1 L500.9,568.0 L502.6,573.9 L504.3,579.8 L506.0,585.6 L507.7,591.5 L510.0,590.5 L508.2,584.6 L506.5,578.7 L504.7,572.9 L503.0,567.0 L501.3,561.2 L499.5,555.3 L497.8,549.5 L496.1,543.6 L494.3,537.7 L492.6,531.9 L490.8,526.0 L489.1,520.2 L487.4,514.3 L485.6,508.5 L483.9,502.6 L482.2,496.8 L480.4,490.9 L478.7,485.1 L477.0,479.2 L475.2,473.3 L473.5,467.4 L471.8,461.5 L470.1,455.6 L468.5,449.7 L466.8,443.8 L465.1,437.9 L463.4,432.0 L461.7,426.1 L459.9,420.3 L458.0,414.4 L456.1,408.6 L454.1,402.8 L452.1,397.1 L449.9,391.4 L447.7,385.6 L445.5,379.9 L443.3,374.2 L441.1,368.4 L438.7,362.8Z" fill="#e09a90" stroke="#e09a90" stroke-width="0.6" />
<path d="M450.0,360.2 L452.5,365.7 L454.9,371.3 L457.3,376.8 L459.8,382.4 L462.2,387.9 L464.6,393.4 L466.9,398.9 L469.2,404.5 L471.3,410.1 L473.4,415.7 L475.5,421.4 L477.4,427.1 L479.3,432.8 L481.3,438.5 L483.2,444.3 L485.1,450.0 L487.0,455.8 L488.9,461.5 L490.9,467.2 L492.8,472.9 L494.8,478.6 L496.8,484.2 L498.8,489.8 L500.8,495.5 L502.8,501.1 L504.8,506.8 L506.9,512.4 L508.9,518.1 L510.9,523.8 L512.9,529.4 L514.9,535.1 L516.9,540.7 L518.9,546.4 L520.9,552.0 L522.9,557.7 L524.9,563.3 L526.9,569.0 L528.9,574.6 L530.9,580.3 L533.1,579.2 L531.1,573.6 L529.0,567.9 L527.0,562.3 L525.0,556.7 L522.9,551.0 L520.9,545.4 L518.9,539.8 L516.8,534.2 L514.8,528.5 L512.8,522.9 L510.8,517.3 L508.7,511.6 L506.7,506.0 L504.7,500.4 L502.6,494.7 L500.6,489.1 L498.6,483.5 L496.5,477.9 L494.5,472.3 L492.5,466.6 L490.6,460.9 L488.6,455.2 L486.7,449.4 L484.7,443.7 L482.8,438.0 L480.8,432.3 L478.9,426.6 L476.9,420.9 L474.8,415.2 L472.7,409.6 L470.5,404.1 L468.2,398.5 L465.9,393.0 L463.5,387.5 L461.0,382.0 L458.6,376.5 L456.2,371.0 L453.7,365.4 L451.2,359.9Z" fill="#f2d0a0" stroke="#f2d0a0" stroke-width="0.6" />
</g>
<path d="M435.5,386.0 L435.3,384.5 L435.0,382.4 L434.7,380.0 L434.3,377.3 L434.1,374.6 L434.0,372.0 L434.0,369.4 L434.2,366.7 L434.4,363.9 L434.7,361.2 L435.0,358.5 L435.5,356.0 L436.0,353.6 L436.6,351.3 L437.2,349.1 L438.0,347.0 L438.9,345.0 L440.0,343.0 L441.3,341.2 L442.6,339.4 L444.2,337.8 L445.9,336.2 L447.8,334.6 L450.0,333.0 L452.5,331.3 L455.3,329.6 L458.2,327.9 L461.4,326.3 L464.7,324.8 L468.0,323.5 L471.5,322.4 L475.4,321.5 L479.3,320.7 L483.2,320.1 L486.8,319.5 L490.0,319.0 L492.7,318.6 L495.0,318.2 L497.1,317.9 L499.0,317.8 L501.0,317.8 L503.0,318.0 L505.1,318.4 L507.3,319.1 L509.5,319.9 L511.6,320.8 L513.6,321.9 L515.6,323.0 L517.5,324.3 L519.3,325.8 L521.1,327.4 L522.8,329.0 L524.4,330.6 L526.0,332.0 L527.5,333.3 L528.8,334.6 L530.1,335.8 L531.3,337.0 L532.6,338.0 L534.0,339.0 L535.5,339.9 L537.3,340.7 L539.0,341.4 L540.6,342.1 L542.0,342.6 L543.0,343.0 L548.0,354.0 L547.0,354.6 L545.6,355.6 L543.9,356.6 L542.0,357.2 L540.0,357.0 L537.9,355.8 L535.7,353.8 L533.3,351.5 L530.7,349.1 L528.0,347.0 L525.1,345.2 L522.1,343.4 L518.9,341.7 L515.5,340.2 L512.0,339.0 L508.2,338.1 L504.2,337.4 L500.0,337.0 L495.9,336.9 L492.0,337.0 L488.2,337.5 L484.3,338.2 L480.6,339.2 L477.1,340.5 L474.0,342.0 L471.3,343.7 L468.8,345.6 L466.6,347.7 L464.7,350.2 L463.0,353.0 L461.5,356.3 L460.3,360.1 L459.3,364.1 L458.5,368.1 L458.0,372.0 L457.9,375.8 L458.4,379.8 L458.9,383.6 L459.2,387.1 L459.0,390.0 L458.1,392.5 L456.8,394.6 L455.2,396.3 L453.5,397.5 L452.0,398.0 L450.5,397.6 L448.9,396.3 L447.3,394.6 L446.0,393.0 L445.0,392.0Z" fill="#81191d"/>
<path d="M435.5,386.0 L435.3,384.5 L435.0,382.4 L434.7,380.0 L434.3,377.3 L434.1,374.6 L434.0,372.0 L434.0,369.4 L434.2,366.7 L434.4,363.9 L434.7,361.2 L435.0,358.5 L435.5,356.0 L436.0,353.6 L436.6,351.3 L437.2,349.1 L438.0,347.0 L438.9,345.0 L440.0,343.0 L441.3,341.2 L442.6,339.4 L444.2,337.8 L445.9,336.2 L447.8,334.6 L450.0,333.0 L452.5,331.3 L455.3,329.6 L458.2,327.9 L461.4,326.3 L464.7,324.8 L468.0,323.5 L471.5,322.4 L475.4,321.5 L479.3,320.7 L483.2,320.1 L486.8,319.5 L490.0,319.0 L492.7,318.6 L495.0,318.2 L497.1,317.9 L499.0,317.8 L501.0,317.8 L503.0,318.0 L505.1,318.4 L507.3,319.1 L509.5,319.9 L511.6,320.8 L513.6,321.9 L515.6,323.0 L517.5,324.3 L519.3,325.8 L521.1,327.4 L522.8,329.0 L524.4,330.6 L526.0,332.0 L527.5,333.3 L528.8,334.6 L530.1,335.8 L531.3,337.0 L532.6,338.0 L534.0,339.0 L535.5,339.9 L537.3,340.7 L539.0,341.4 L540.6,342.1 L542.0,342.6 L543.0,343.0" fill="none" stroke="#6a1216" stroke-width="3" opacity="0.6" transform="translate(3.08,8.8)" filter="url(#b1)"/>
<path d="M638.4,434.4 L637.7,441.0 L637.1,447.7 L636.3,454.3 L635.4,460.9 L634.0,467.4 L632.3,473.8 L630.3,480.2 L627.9,486.4 L625.1,492.5 L621.9,498.3 L618.4,504.0 L614.7,509.5 L610.7,514.9 L606.6,520.1 L602.1,525.1 L597.4,529.7 L592.2,534.0 L586.8,537.8 L581.0,541.2 L575.1,544.2 L569.0,546.9 L562.7,549.1 L556.3,550.8 L549.7,552.0 L543.1,552.7 L536.4,552.9 L529.8,552.9 L523.1,552.6 L516.5,551.8 L510.0,550.6 L503.6,548.7 L497.4,546.2 L491.5,543.0 L485.9,539.5 L480.4,535.7 L475.1,531.6 L470.4,526.9 L466.7,521.4 L463.4,515.6 L463.4,515.6 L466.9,520.5 L470.8,525.0 L475.6,528.9 L480.8,532.3 L486.2,535.4 L491.8,538.1 L497.6,540.7 L503.6,543.2 L509.8,545.1 L516.2,546.5 L522.7,547.2 L529.2,547.6 L535.7,547.6 L542.2,547.3 L548.7,546.7 L555.1,545.5 L561.4,543.8 L567.6,541.7 L573.6,539.1 L579.4,536.2 L585.0,532.9 L590.3,529.1 L595.4,525.0 L600.0,520.4 L604.3,515.5 L608.2,510.3 L612.0,505.0 L615.5,499.5 L618.8,493.9 L621.8,488.1 L624.3,482.1 L626.9,476.2 L629.3,470.3 L631.4,464.4 L633.2,458.5 L634.7,452.5 L636.0,446.5 L637.2,440.4 L638.4,434.4Z" fill="#c05a48" stroke="#c05a48" stroke-width="0.5"/>
<path d="M638.4,434.4 L637.2,440.4 L636.0,446.5 L634.7,452.5 L633.2,458.5 L631.4,464.4 L629.3,470.3 L626.9,476.2 L624.3,482.1 L621.8,488.1 L618.8,493.9 L615.5,499.5 L612.0,505.0 L608.2,510.3 L604.3,515.5 L600.0,520.4 L595.4,525.0 L590.3,529.1 L585.0,532.9 L579.4,536.2 L573.6,539.1 L567.6,541.7 L561.4,543.8 L555.1,545.5 L548.7,546.7 L542.2,547.3 L535.7,547.6 L529.2,547.6 L522.7,547.2 L516.2,546.5 L509.8,545.1 L503.6,543.2 L497.6,540.7 L491.8,538.1 L486.2,535.4 L480.8,532.3 L475.6,528.9 L470.8,525.0 L466.9,520.5 L463.4,515.6 L463.4,515.6 L467.4,518.4 L471.6,521.0 L476.5,523.2 L481.7,524.9 L487.0,526.4 L492.3,527.6 L497.9,529.0 L503.7,531.2 L509.5,533.3 L515.5,534.9 L521.6,535.7 L527.9,536.0 L534.1,536.0 L540.3,535.8 L546.5,535.2 L552.6,534.1 L558.6,532.5 L564.4,530.4 L570.2,528.0 L575.7,525.3 L581.1,522.2 L586.3,518.7 L591.0,514.7 L595.4,510.3 L599.2,505.4 L602.8,500.3 L606.0,495.1 L609.2,489.7 L612.2,484.3 L614.6,478.7 L616.7,472.9 L619.6,467.5 L622.7,462.7 L625.7,458.0 L628.5,453.3 L631.1,448.5 L633.6,443.8 L636.0,439.1 L638.4,434.4Z" fill="#b0443c" stroke="#b0443c" stroke-width="0.5"/>
<path d="M638.4,434.4 L636.0,439.1 L633.6,443.8 L631.1,448.5 L628.5,453.3 L625.7,458.0 L622.7,462.7 L619.6,467.5 L616.7,472.9 L614.6,478.7 L612.2,484.3 L609.2,489.7 L606.0,495.1 L602.8,500.3 L599.2,505.4 L595.4,510.3 L591.0,514.7 L586.3,518.7 L581.1,522.2 L575.7,525.3 L570.2,528.0 L564.4,530.4 L558.6,532.5 L552.6,534.1 L546.5,535.2 L540.3,535.8 L534.1,536.0 L527.9,536.0 L521.6,535.7 L515.5,534.9 L509.5,533.3 L503.7,531.2 L497.9,529.0 L492.3,527.6 L487.0,526.4 L481.7,524.9 L476.5,523.2 L471.6,521.0 L467.4,518.4 L463.4,515.6 L463.4,515.6 L467.8,516.5 L472.4,517.3 L477.3,517.8 L482.5,518.1 L487.7,518.2 L492.7,517.8 L498.2,518.2 L503.8,520.1 L509.2,522.4 L514.9,524.1 L520.7,525.0 L526.6,525.3 L532.6,525.4 L538.5,525.1 L544.4,524.5 L550.2,523.5 L556.0,522.0 L561.6,520.1 L567.1,517.8 L572.4,515.2 L577.6,512.3 L582.5,509.0 L587.1,505.2 L591.1,500.9 L594.6,496.1 L597.7,491.1 L600.6,486.0 L603.3,480.7 L606.0,475.5 L608.0,469.9 L609.6,464.3 L612.8,459.6 L616.7,455.6 L620.5,452.0 L624.2,448.4 L627.8,444.9 L631.4,441.4 L634.9,437.9 L638.4,434.4Z" fill="#8e3448" stroke="#8e3448" stroke-width="0.5"/>
<path d="M638.4,434.4 L634.9,437.9 L631.4,441.4 L627.8,444.9 L624.2,448.4 L620.5,452.0 L616.7,455.6 L612.8,459.6 L609.6,464.3 L608.0,469.9 L606.0,475.5 L603.3,480.7 L600.6,486.0 L597.7,491.1 L594.6,496.1 L591.1,500.9 L587.1,505.2 L582.5,509.0 L577.6,512.3 L572.4,515.2 L567.1,517.8 L561.6,520.1 L556.0,522.0 L550.2,523.5 L544.4,524.5 L538.5,525.1 L532.6,525.4 L526.6,525.3 L520.7,525.0 L514.9,524.1 L509.2,522.4 L503.8,520.1 L498.2,518.2 L492.7,517.8 L487.7,518.2 L482.5,518.1 L477.3,517.8 L472.4,517.3 L467.8,516.5 L463.4,515.6 L463.4,515.6 L468.2,514.7 L473.1,513.8 L478.1,512.7 L483.2,511.6 L488.3,510.3 L493.2,508.5 L498.5,507.8 L503.8,509.5 L509.0,511.9 L514.2,513.9 L519.8,514.8 L525.5,515.1 L531.1,515.2 L536.8,514.9 L542.4,514.4 L548.0,513.4 L553.5,512.0 L558.8,510.1 L564.1,508.0 L569.2,505.6 L574.2,502.9 L578.9,499.7 L583.2,496.1 L587.0,491.9 L590.2,487.3 L592.9,482.3 L595.4,477.2 L597.7,472.1 L600.1,467.0 L601.7,461.6 L602.8,456.1 L606.4,451.9 L610.9,448.9 L615.5,446.3 L620.1,443.8 L624.7,441.4 L629.3,439.1 L633.8,436.8 L638.4,434.4Z" fill="#b4504a" stroke="#b4504a" stroke-width="0.5"/>
<path d="M638.4,434.4 L633.8,436.8 L629.3,439.1 L624.7,441.4 L620.1,443.8 L615.5,446.3 L610.9,448.9 L606.4,451.9 L602.8,456.1 L601.7,461.6 L600.1,467.0 L597.7,472.1 L595.4,477.2 L592.9,482.3 L590.2,487.3 L587.0,491.9 L583.2,496.1 L578.9,499.7 L574.2,502.9 L569.2,505.6 L564.1,508.0 L558.8,510.1 L553.5,512.0 L548.0,513.4 L542.4,514.4 L536.8,514.9 L531.1,515.2 L525.5,515.1 L519.8,514.8 L514.2,513.9 L509.0,511.9 L503.8,509.5 L498.5,507.8 L493.2,508.5 L488.3,510.3 L483.2,511.6 L478.1,512.7 L473.1,513.8 L468.2,514.7 L463.4,515.6 L463.4,515.6 L468.5,513.5 L473.6,511.5 L478.6,509.4 L483.7,507.3 L488.8,505.2 L493.5,502.4 L498.7,501.0 L503.9,502.6 L508.8,505.1 L513.9,507.2 L519.2,508.1 L524.7,508.4 L530.2,508.5 L535.7,508.3 L541.1,507.7 L546.5,506.8 L551.8,505.4 L557.0,503.7 L562.1,501.6 L567.1,499.3 L571.9,496.7 L576.5,493.7 L580.7,490.2 L584.3,486.1 L587.3,481.5 L589.8,476.6 L591.9,471.5 L594.0,466.5 L596.2,461.4 L597.5,456.1 L598.4,450.8 L602.2,446.9 L607.1,444.5 L612.2,442.5 L617.4,440.8 L622.6,439.1 L627.9,437.6 L633.2,436.0 L638.4,434.4Z" fill="#96303a" stroke="#96303a" stroke-width="0.5"/>
</g>
<g clip-path="url(#c3)"><path d="M465.1,510.4 L463.9,505.2 L462.8,500.0 L461.6,494.8 L460.4,489.6 L459.2,484.4 L458.0,479.2 L456.8,474.0 L455.6,468.8 L454.4,463.6 L453.2,458.4 L452.0,453.2 L450.8,448.0 L449.6,442.8 L448.4,437.6 L447.2,432.4 L446.0,427.2 L444.7,422.0 L443.4,416.9 L442.0,411.7 L440.6,406.6 L439.1,401.5 L437.5,396.4 L435.5,386.0 L435.3,384.5 L435.0,382.4 L434.7,380.0 L434.3,377.3 L434.1,374.6 L434.0,372.0 L434.0,369.4 L434.2,366.7 L434.4,363.9 L434.7,361.2 L435.0,358.5 L435.5,356.0 L436.0,353.6 L436.6,351.3 L437.2,349.1 L438.0,347.0 L438.9,345.0 L440.0,343.0 L441.3,341.2 L442.6,339.4 L444.2,337.8 L445.9,336.2 L447.8,334.6 L450.0,333.0 L452.5,331.3 L455.3,329.6 L458.2,327.9 L461.4,326.3 L464.7,324.8 L468.0,323.5 L471.5,322.4 L475.4,321.5 L479.3,320.7 L483.2,320.1 L486.8,319.5 L490.0,319.0 L492.7,318.6 L495.0,318.2 L497.1,317.9 L499.0,317.8 L501.0,317.8 L503.0,318.0 L505.1,318.4 L507.3,319.1 L509.5,319.9 L511.6,320.8 L513.6,321.9 L515.6,323.0 L517.5,324.3 L519.3,325.8 L521.1,327.4 L522.8,329.0 L524.4,330.6 L526.0,332.0 L527.5,333.3 L528.8,334.6 L530.1,335.8 L531.3,337.0 L532.6,338.0 L534.0,339.0 L535.5,339.9 L537.3,340.7 L539.0,341.4 L540.6,342.1 L542.0,342.6 L543.0,343.0 L544.9,343.7" fill="none" stroke="#cf6560" stroke-width="8" transform="translate(1.4,4)"/></g>
</g>
<clipPath id="m3"><path d="M458.0,373.0 L458.5,370.7 L459.1,367.5 L459.8,363.7 L460.7,359.7 L461.8,356.0 L463.0,353.0 L464.4,350.6 L466.0,348.4 L467.7,346.5 L469.6,344.9 L471.7,343.4 L474.0,342.0 L476.5,340.7 L479.3,339.6 L482.2,338.7 L485.4,337.9 L488.6,337.5 L492.0,337.5 L495.6,337.8 L499.4,338.3 L503.4,339.1 L507.4,340.3 L511.3,341.9 L515.0,344.0 L518.5,346.7 L521.8,349.9 L525.0,353.5 L528.2,357.5 L531.5,361.7 L535.0,366.0 L538.7,370.5 L542.7,375.4 L546.7,380.6 L550.7,385.8 L554.5,391.0 L558.0,396.0 L561.2,400.9 L564.0,405.8 L566.8,410.7 L569.4,415.5 L572.1,420.3 L575.0,425.0 L578.2,429.7 L581.8,434.4 L585.4,439.1 L588.8,443.7 L591.7,448.0 L594.0,452.0 L595.6,455.7 L596.6,459.1 L597.2,462.4 L597.5,465.4 L597.4,468.3 L597.0,471.0 L596.2,473.6 L595.0,476.0 L593.5,478.2 L591.7,480.3 L589.9,482.2 L588.0,484.0 L586.2,485.5 L584.3,486.6 L582.4,487.6 L580.2,488.5 L577.8,489.6 L575.0,491.0 L571.8,492.9 L568.1,495.1 L564.2,497.5 L560.1,499.8 L556.0,501.7 L552.0,503.0 L548.0,503.7 L543.9,504.0 L539.8,503.9 L535.7,503.6 L531.7,502.9 L528.0,502.0 L524.5,500.9 L521.2,499.5 L518.1,497.9 L515.0,495.9 L512.0,493.6 L509.0,491.0 L506.0,488.0 L503.1,484.6 L500.3,480.9 L497.5,476.9 L494.8,472.6 L492.0,468.0 L489.2,463.1 L486.5,457.7 L483.8,452.1 L481.1,446.4 L478.5,440.6 L476.0,435.0 L473.6,429.5 L471.1,423.9 L468.8,418.2 L466.6,412.7 L464.7,407.3 L463.0,402.0 L461.6,396.6 L460.6,391.0 L459.7,385.4 L459.0,380.4 L458.5,376.1 L458.0,373.0Z"/></clipPath>
<g clip-path="url(#m3)">
<path d="M458.0,373.0 L458.5,370.7 L459.1,367.5 L459.8,363.7 L460.7,359.7 L461.8,356.0 L463.0,353.0 L464.4,350.6 L466.0,348.4 L467.7,346.5 L469.6,344.9 L471.7,343.4 L474.0,342.0 L476.5,340.7 L479.3,339.6 L482.2,338.7 L485.4,337.9 L488.6,337.5 L492.0,337.5 L495.6,337.8 L499.4,338.3 L503.4,339.1 L507.4,340.3 L511.3,341.9 L515.0,344.0 L518.5,346.7 L521.8,349.9 L525.0,353.5 L528.2,357.5 L531.5,361.7 L535.0,366.0 L538.7,370.5 L542.7,375.4 L546.7,380.6 L550.7,385.8 L554.5,391.0 L558.0,396.0 L561.2,400.9 L564.0,405.8 L566.8,410.7 L569.4,415.5 L572.1,420.3 L575.0,425.0 L578.2,429.7 L581.8,434.4 L585.4,439.1 L588.8,443.7 L591.7,448.0 L594.0,452.0 L595.6,455.7 L596.6,459.1 L597.2,462.4 L597.5,465.4 L597.4,468.3 L597.0,471.0 L596.2,473.6 L595.0,476.0 L593.5,478.2 L591.7,480.3 L589.9,482.2 L588.0,484.0 L586.2,485.5 L584.3,486.6 L582.4,487.6 L580.2,488.5 L577.8,489.6 L575.0,491.0 L571.8,492.9 L568.1,495.1 L564.2,497.5 L560.1,499.8 L556.0,501.7 L552.0,503.0 L548.0,503.7 L543.9,504.0 L539.8,503.9 L535.7,503.6 L531.7,502.9 L528.0,502.0 L524.5,500.9 L521.2,499.5 L518.1,497.9 L515.0,495.9 L512.0,493.6 L509.0,491.0 L506.0,488.0 L503.1,484.6 L500.3,480.9 L497.5,476.9 L494.8,472.6 L492.0,468.0 L489.2,463.1 L486.5,457.7 L483.8,452.1 L481.1,446.4 L478.5,440.6 L476.0,435.0 L473.6,429.5 L471.1,423.9 L468.8,418.2 L466.6,412.7 L464.7,407.3 L463.0,402.0 L461.6,396.6 L460.6,391.0 L459.7,385.4 L459.0,380.4 L458.5,376.1 L458.0,373.0Z" fill="url(#u3)"/>
<path d="M286.9,271.3 L423.1,538.7 M302.9,271.3 L439.1,538.7 M318.9,271.3 L455.1,538.7 M334.9,271.3 L471.1,538.7 M350.9,271.3 L487.1,538.7 M366.9,271.3 L503.1,538.7 M382.9,271.3 L519.1,538.7 M398.9,271.3 L535.1,538.7 M414.9,271.3 L551.1,538.7 M430.9,271.3 L567.1,538.7 M446.9,271.3 L583.1,538.7 M462.9,271.3 L599.1,538.7 M478.9,271.3 L615.1,538.7 M494.9,271.3 L631.1,538.7 M510.9,271.3 L647.1,538.7 M526.9,271.3 L663.1,538.7 M542.9,271.3 L679.1,538.7 M558.9,271.3 L695.1,538.7 M574.9,271.3 L711.1,538.7 M590.9,271.3 L727.1,538.7 M606.9,271.3 L743.1,538.7 M426.8,306.4 L603.2,63.6 M426.8,328.4 L603.2,85.6 M426.8,350.4 L603.2,107.6 M426.8,372.4 L603.2,129.6 M426.8,394.4 L603.2,151.6 M426.8,416.4 L603.2,173.6 M426.8,438.4 L603.2,195.6 M426.8,460.4 L603.2,217.6 M426.8,482.4 L603.2,239.6 M426.8,504.4 L603.2,261.6 M426.8,526.4 L603.2,283.6 M426.8,548.4 L603.2,305.6 M426.8,570.4 L603.2,327.6 M426.8,592.4 L603.2,349.6 M426.8,614.4 L603.2,371.6 M426.8,636.4 L603.2,393.6 M426.8,658.4 L603.2,415.6 M426.8,680.4 L603.2,437.6 M426.8,702.4 L603.2,459.6 M426.8,724.4 L603.2,481.6 M426.8,746.4 L603.2,503.6" stroke="#2a2622" stroke-width="2.6" fill="none" transform="translate(1.5,1.3)"/>
<path d="M286.9,271.3 L423.1,538.7 M302.9,271.3 L439.1,538.7 M318.9,271.3 L455.1,538.7 M334.9,271.3 L471.1,538.7 M350.9,271.3 L487.1,538.7 M366.9,271.3 L503.1,538.7 M382.9,271.3 L519.1,538.7 M398.9,271.3 L535.1,538.7 M414.9,271.3 L551.1,538.7 M430.9,271.3 L567.1,538.7 M446.9,271.3 L583.1,538.7 M462.9,271.3 L599.1,538.7 M478.9,271.3 L615.1,538.7 M494.9,271.3 L631.1,538.7 M510.9,271.3 L647.1,538.7 M526.9,271.3 L663.1,538.7 M542.9,271.3 L679.1,538.7 M558.9,271.3 L695.1,538.7 M574.9,271.3 L711.1,538.7 M590.9,271.3 L727.1,538.7 M606.9,271.3 L743.1,538.7 M426.8,306.4 L603.2,63.6 M426.8,328.4 L603.2,85.6 M426.8,350.4 L603.2,107.6 M426.8,372.4 L603.2,129.6 M426.8,394.4 L603.2,151.6 M426.8,416.4 L603.2,173.6 M426.8,438.4 L603.2,195.6 M426.8,460.4 L603.2,217.6 M426.8,482.4 L603.2,239.6 M426.8,504.4 L603.2,261.6 M426.8,526.4 L603.2,283.6 M426.8,548.4 L603.2,305.6 M426.8,570.4 L603.2,327.6 M426.8,592.4 L603.2,349.6 M426.8,614.4 L603.2,371.6 M426.8,636.4 L603.2,393.6 M426.8,658.4 L603.2,415.6 M426.8,680.4 L603.2,437.6 M426.8,702.4 L603.2,459.6 M426.8,724.4 L603.2,481.6 M426.8,746.4 L603.2,503.6" stroke="#e6ebea" stroke-width="2" fill="none"/>
</g>
<path d="M316,424 Q342,450 369,465 L377,461 Q385,430 384,402 Z" fill="#cfc6c6" opacity="0.62"/>
<path d="M336,436 L369,465 L377,461 L380,418 Z" fill="#aab8c6" opacity="0.45"/>
<clipPath id="m2"><path d="M268.0,326.0 L268.3,324.4 L268.7,322.2 L269.2,319.6 L269.9,316.8 L270.8,314.2 L272.0,312.0 L273.5,310.1 L275.3,308.4 L277.4,306.8 L279.6,305.4 L281.8,304.1 L284.0,303.0 L286.2,302.1 L288.4,301.3 L290.7,300.7 L293.0,300.3 L295.5,300.0 L298.0,300.0 L300.7,300.1 L303.4,300.3 L306.3,300.7 L309.2,301.4 L312.1,302.4 L315.0,304.0 L317.7,305.9 L320.3,308.0 L322.8,310.6 L325.5,313.6 L328.5,317.4 L332.0,322.0 L336.1,327.8 L340.8,334.9 L345.8,342.6 L350.8,350.5 L355.6,358.1 L360.0,365.0 L364.1,371.3 L368.2,377.5 L372.1,383.4 L375.6,388.9 L378.6,393.8 L381.0,398.0 L382.7,401.2 L384.0,403.4 L384.7,405.1 L384.9,406.6 L384.7,408.1 L384.0,410.0 L382.7,412.4 L380.8,415.0 L378.4,417.6 L375.7,420.3 L372.9,422.8 L370.0,425.0 L367.0,427.0 L363.8,429.0 L360.4,430.8 L356.9,432.4 L353.4,433.8 L350.0,435.0 L346.6,436.1 L343.3,437.1 L339.9,437.9 L336.5,438.4 L333.2,438.5 L330.0,438.0 L326.9,437.0 L323.8,435.5 L320.8,433.6 L317.9,431.2 L314.9,428.3 L312.0,425.0 L309.1,421.0 L306.3,416.3 L303.4,411.1 L300.6,405.6 L297.8,400.2 L295.0,395.0 L292.1,390.1 L289.1,385.3 L286.1,380.6 L283.1,375.7 L280.4,370.5 L278.0,365.0 L275.8,358.6 L273.8,351.2 L271.9,343.6 L270.3,336.4 L269.0,330.3 L268.0,326.0Z"/></clipPath>
<g clip-path="url(#m2)">
<path d="M268.0,326.0 L268.3,324.4 L268.7,322.2 L269.2,319.6 L269.9,316.8 L270.8,314.2 L272.0,312.0 L273.5,310.1 L275.3,308.4 L277.4,306.8 L279.6,305.4 L281.8,304.1 L284.0,303.0 L286.2,302.1 L288.4,301.3 L290.7,300.7 L293.0,300.3 L295.5,300.0 L298.0,300.0 L300.7,300.1 L303.4,300.3 L306.3,300.7 L309.2,301.4 L312.1,302.4 L315.0,304.0 L317.7,305.9 L320.3,308.0 L322.8,310.6 L325.5,313.6 L328.5,317.4 L332.0,322.0 L336.1,327.8 L340.8,334.9 L345.8,342.6 L350.8,350.5 L355.6,358.1 L360.0,365.0 L364.1,371.3 L368.2,377.5 L372.1,383.4 L375.6,388.9 L378.6,393.8 L381.0,398.0 L382.7,401.2 L384.0,403.4 L384.7,405.1 L384.9,406.6 L384.7,408.1 L384.0,410.0 L382.7,412.4 L380.8,415.0 L378.4,417.6 L375.7,420.3 L372.9,422.8 L370.0,425.0 L367.0,427.0 L363.8,429.0 L360.4,430.8 L356.9,432.4 L353.4,433.8 L350.0,435.0 L346.6,436.1 L343.3,437.1 L339.9,437.9 L336.5,438.4 L333.2,438.5 L330.0,438.0 L326.9,437.0 L323.8,435.5 L320.8,433.6 L317.9,431.2 L314.9,428.3 L312.0,425.0 L309.1,421.0 L306.3,416.3 L303.4,411.1 L300.6,405.6 L297.8,400.2 L295.0,395.0 L292.1,390.1 L289.1,385.3 L286.1,380.6 L283.1,375.7 L280.4,370.5 L278.0,365.0 L275.8,358.6 L273.8,351.2 L271.9,343.6 L270.3,336.4 L269.0,330.3 L268.0,326.0Z" fill="url(#u2)"/><path d="M290,304 L305,340 L320,373 L340,407 L356,436" stroke="#4f86c6" stroke-width="6" fill="none" stroke-linecap="round"/><path d="M291,304 L306,340 L321,373 L341,407 L357,436" stroke="#9cc4e8" stroke-width="1.6" fill="none"/>
<path d="M162.7,220.8 L245.3,509.2 M173.7,220.8 L256.3,509.2 M184.7,220.8 L267.3,509.2 M195.7,220.8 L278.3,509.2 M206.7,220.8 L289.3,509.2 M217.7,220.8 L300.3,509.2 M228.7,220.8 L311.3,509.2 M239.7,220.8 L322.3,509.2 M250.7,220.8 L333.3,509.2 M261.7,220.8 L344.3,509.2 M272.7,220.8 L355.3,509.2 M283.7,220.8 L366.3,509.2 M294.7,220.8 L377.3,509.2 M305.7,220.8 L388.3,509.2 M316.7,220.8 L399.3,509.2 M327.7,220.8 L410.3,509.2 M338.7,220.8 L421.3,509.2 M349.7,220.8 L432.3,509.2 M360.7,220.8 L443.3,509.2 M371.7,220.8 L454.3,509.2 M382.7,220.8 L465.3,509.2 M393.7,220.8 L476.3,509.2 M404.7,220.8 L487.3,509.2 M247.7,310.6 L402.3,53.4 M247.7,328.9 L402.3,71.7 M247.7,347.2 L402.3,90.0 M247.7,365.5 L402.3,108.3 M247.7,383.8 L402.3,126.6 M247.7,402.1 L402.3,144.9 M247.7,420.4 L402.3,163.2 M247.7,438.7 L402.3,181.5 M247.7,457.0 L402.3,199.8 M247.7,475.3 L402.3,218.1 M247.7,493.6 L402.3,236.4 M247.7,511.9 L402.3,254.7 M247.7,530.2 L402.3,273.0 M247.7,548.5 L402.3,291.3 M247.7,566.8 L402.3,309.6 M247.7,585.1 L402.3,327.9 M247.7,603.4 L402.3,346.2 M247.7,621.7 L402.3,364.5 M247.7,640.0 L402.3,382.8 M247.7,658.3 L402.3,401.1 M247.7,676.6 L402.3,419.4" stroke="#4a3c38" stroke-width="1.85" fill="none" transform="translate(1.5,1.3)"/>
<path d="M162.7,220.8 L245.3,509.2 M173.7,220.8 L256.3,509.2 M184.7,220.8 L267.3,509.2 M195.7,220.8 L278.3,509.2 M206.7,220.8 L289.3,509.2 M217.7,220.8 L300.3,509.2 M228.7,220.8 L311.3,509.2 M239.7,220.8 L322.3,509.2 M250.7,220.8 L333.3,509.2 M261.7,220.8 L344.3,509.2 M272.7,220.8 L355.3,509.2 M283.7,220.8 L366.3,509.2 M294.7,220.8 L377.3,509.2 M305.7,220.8 L388.3,509.2 M316.7,220.8 L399.3,509.2 M327.7,220.8 L410.3,509.2 M338.7,220.8 L421.3,509.2 M349.7,220.8 L432.3,509.2 M360.7,220.8 L443.3,509.2 M371.7,220.8 L454.3,509.2 M382.7,220.8 L465.3,509.2 M393.7,220.8 L476.3,509.2 M404.7,220.8 L487.3,509.2 M247.7,310.6 L402.3,53.4 M247.7,328.9 L402.3,71.7 M247.7,347.2 L402.3,90.0 M247.7,365.5 L402.3,108.3 M247.7,383.8 L402.3,126.6 M247.7,402.1 L402.3,144.9 M247.7,420.4 L402.3,163.2 M247.7,438.7 L402.3,181.5 M247.7,457.0 L402.3,199.8 M247.7,475.3 L402.3,218.1 M247.7,493.6 L402.3,236.4 M247.7,511.9 L402.3,254.7 M247.7,530.2 L402.3,273.0 M247.7,548.5 L402.3,291.3 M247.7,566.8 L402.3,309.6 M247.7,585.1 L402.3,327.9 M247.7,603.4 L402.3,346.2 M247.7,621.7 L402.3,364.5 M247.7,640.0 L402.3,382.8 M247.7,658.3 L402.3,401.1 M247.7,676.6 L402.3,419.4" stroke="#d4dada" stroke-width="1.25" fill="none"/>
</g>
<path d="M337,398 L360,434 L388,478 L380,483 L352,441 L331,402 Z" fill="#528ed2"/>
<path d="M339,400 L361,434 L386,476" stroke="#a4ccf0" stroke-width="2.4" fill="none"/>
<path d="M352,440 L381,482" stroke="#2a5c9c" stroke-width="1.6" fill="none"/>
<path d="M382,480 L385.5,479 L419,540 L417.5,540 Z" fill="url(#wire2)"/>
<path d="M112,287 L162,378" stroke="#3c4c54" stroke-width="9.5" stroke-linecap="butt"/>
<path d="M109.5,288.5 L159.5,379.5" stroke="#a8ccd8" stroke-width="2" stroke-dasharray="8 3"/>
<path d="M114.6,285.6 L164.6,376.6" stroke="#9cc0d0" stroke-width="1.8" stroke-dasharray="7 4"/>
<path d="M112,287 L162,378" stroke="#c8dce4" stroke-width="1" stroke-dasharray="5 5"/>
<path d="M156.5,379 L168,371.5 L215.5,444 L203,452.5 Z" fill="#7aa9da"/>
<path d="M164,376 L210,447" stroke="#d6e8f8" stroke-width="4" fill="none"/>
<path d="M159.5,379 L205.5,450.5" stroke="#3a6cac" stroke-width="1.6" fill="none"/>
<path d="M206,449 L210,447 L240,503 L238.5,503.5 Z" fill="url(#wire1)"/>
<rect x="105.6" y="150" width="157.4" height="37" fill="#fff"/>
<line x1="164.2" y1="186.5" x2="145.2" y2="296" stroke="#000" stroke-width="4.4"/>
<line x1="141" y1="341" x2="152.7" y2="510" stroke="#000" stroke-width="4"/>
<line x1="142.5" y1="341" x2="146.9" y2="502.4" stroke="#222" stroke-width="1.5"/>
<line x1="359.3" y1="166" x2="327" y2="321" stroke="#000" stroke-width="4.5"/>
<line x1="566" y1="285" x2="543" y2="378" stroke="#000" stroke-width="4.5"/>

</svg>
<div class="lab" style="left:48px;top:61px;width:225px;height:93px"><span style="left:14px;top:20px">收紧的球囊</span><span style="left:14px;top:61px">和支架</span></div>
<div class="lab" style="left:305px;top:70px;width:228px;height:96px"><span style="left:15px;top:20px">扩张的球囊</span><span style="left:15px;top:60px">和支架</span></div>
<div class="lab" style="left:494px;top:187px;width:144px;height:97px"><span style="left:14px;top:21px">展开的</span><span style="left:14px;top:61px">支架</span></div>
<div id="refl"><span>心血管血脂斑块</span></div>
<div id="title"><span>心血管血脂斑块</span></div>
</body></html>
